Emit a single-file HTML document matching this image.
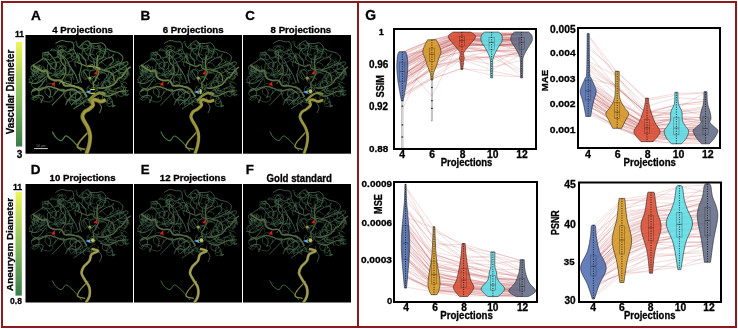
<!DOCTYPE html><html><head><meta charset="utf-8"><style>html,body{margin:0;padding:0;background:#fff;}svg{display:block;will-change:transform;}</style></head><body><svg width="738" height="329" viewBox="0 0 738 329" font-family='"Liberation Sans", sans-serif'>
<rect width="738" height="329" fill="#fff"/>
<defs>
<linearGradient id="cb" x1="0" y1="0" x2="0" y2="1"><stop offset="0" stop-color="#eef55a"/><stop offset="0.5" stop-color="#8cc060"/><stop offset="1" stop-color="#3a7a4a"/></linearGradient>
<clipPath id="clip0"><rect x="0" y="0" width="107.5" height="118.7"/></clipPath>
<clipPath id="clip1"><rect x="0" y="0" width="108" height="118.7"/></clipPath>
<g id="v0"><use href="#tn00" stroke="#36583a" stroke-width="0.80"/>
<use href="#tn01" stroke="#36583a" stroke-width="0.90"/>
<use href="#tn02" stroke="#36583a" stroke-width="1.00"/>
<use href="#tn10" stroke="#3d603f" stroke-width="0.80"/>
<use href="#tn11" stroke="#3d603f" stroke-width="0.90"/>
<use href="#tn12" stroke="#3d603f" stroke-width="1.00"/>
<use href="#tn20" stroke="#446845" stroke-width="0.80"/>
<use href="#tn21" stroke="#446845" stroke-width="0.90"/>
<use href="#tn22" stroke="#446845" stroke-width="1.00"/>
<path d="M30.0,8.5 C31.0,8.0 34.0,5.8 36.0,5.5 C38.0,5.2 40.2,6.4 42.0,6.7 C43.8,7.0 46.0,6.2 47.0,7.3 C48.0,8.4 48.7,12.0 48.2,13.4 C47.7,14.8 45.2,15.4 44.0,16.0 C42.8,16.6 42.2,17.2 40.9,17.0 C39.6,16.8 37.4,14.4 36.0,14.6 C34.6,14.8 31.9,17.0 32.3,18.2 C32.7,19.4 36.8,20.6 38.4,21.9 C40.0,23.2 40.9,24.3 42.0,26.0 C43.1,27.7 43.7,29.7 45.0,32.0 C46.3,34.3 48.7,37.3 50.0,40.0 C51.3,42.7 52.5,46.7 53.0,48.0" stroke="#4a704c" stroke-width="1.10" fill="none"/>
<path d="M16.5,18.2 C17.5,18.1 20.8,16.8 22.6,17.6 C24.4,18.4 26.1,21.2 27.5,23.1 C28.9,25.0 30.9,27.4 31.1,29.2 C31.3,31.0 29.9,34.0 28.7,34.0 C27.5,34.0 25.4,31.0 23.8,29.2 C22.2,27.4 20.6,23.6 19.0,23.1 C17.4,22.6 15.6,25.0 14.0,26.0 C12.4,27.0 10.6,28.3 9.2,29.2 C7.8,30.1 6.0,30.6 5.6,31.6 C5.2,32.6 5.8,34.5 6.8,35.3 C7.8,36.1 10.5,37.3 11.7,36.5 C12.9,35.7 13.7,31.4 14.1,30.4" stroke="#4a704c" stroke-width="1.10" fill="none"/>
<path d="M53.5,12.2 C54.7,11.2 59.0,6.9 60.8,6.1 C62.6,5.3 63.6,6.3 64.4,7.3 C65.2,8.3 65.7,10.4 65.7,12.2 C65.7,14.0 64.2,16.4 64.4,18.2 C64.6,20.0 65.7,22.1 66.9,23.1 C68.1,24.1 70.1,24.3 71.7,24.3 C73.3,24.3 75.4,24.1 76.6,23.1 C77.8,22.1 78.4,20.0 79.0,18.2 C79.6,16.4 80.7,13.9 80.3,12.2 C79.9,10.5 78.0,8.5 76.6,7.9 C75.2,7.3 73.7,8.4 71.7,8.5 C69.7,8.6 65.6,8.5 64.4,8.5" stroke="#4a704c" stroke-width="1.10" fill="none"/>
<path d="M81.5,13.4 C82.1,13.8 83.7,15.2 85.1,15.8 C86.5,16.4 88.6,16.6 90.0,17.0 C91.4,17.4 92.4,17.4 93.6,18.2 C94.8,19.0 96.9,20.5 97.3,21.9 C97.7,23.3 96.9,25.6 96.1,26.8 C95.3,28.0 93.8,28.4 92.4,29.2 C91.0,30.0 89.3,30.8 87.6,31.6 C85.9,32.4 83.6,33.4 82.0,34.0 C80.4,34.6 78.5,35.1 77.8,35.3" stroke="#4a704c" stroke-width="1.10" fill="none"/>
<path d="M93.6,29.2 C94.8,28.8 99.6,26.8 101.0,26.8 C102.4,26.8 102.8,28.2 102.2,29.2 C101.6,30.2 99.0,31.7 97.3,32.8 C95.6,33.9 94.0,34.8 92.0,36.0 C90.0,37.2 86.2,39.3 85.1,40.0" stroke="#4a704c" stroke-width="1.10" fill="none"/>
<path d="M53.5,18.2 C54.5,19.2 58.4,22.3 59.6,24.3 C60.8,26.3 60.6,29.4 60.8,30.4" stroke="#4a704c" stroke-width="1.10" fill="none"/>
<path d="M68.1,24.3 C68.3,25.5 69.1,30.4 69.3,31.6" stroke="#4a704c" stroke-width="1.10" fill="none"/>
<path d="M90.0,34.0 C91.0,34.6 94.1,37.3 96.1,37.7 C98.1,38.1 101.2,36.7 102.2,36.5" stroke="#4a704c" stroke-width="1.10" fill="none"/>
<path d="M3.2,47.2 C4.4,47.4 8.4,48.6 10.4,48.4 C12.4,48.2 13.7,47.1 15.3,46.0 C16.9,44.9 19.2,42.7 20.0,42.0" stroke="#4a704c" stroke-width="1.10" fill="none"/>
<path d="M5.6,56.9 C6.6,56.5 9.3,55.3 11.7,54.5 C14.1,53.7 18.0,51.6 20.2,52.0 C22.4,52.4 24.5,55.1 25.1,56.9 C25.7,58.7 24.0,62.0 23.8,63.0" stroke="#4a704c" stroke-width="1.10" fill="none"/>
<path d="M6.8,63.0 C7.6,62.6 9.9,60.7 11.7,60.5 C13.5,60.3 17.1,60.6 17.7,61.8 C18.3,63.0 15.7,66.8 15.3,67.8" stroke="#4a704c" stroke-width="1.10" fill="none"/>
<path d="M28.7,59.3 C29.5,58.5 31.8,55.1 33.6,54.5 C35.4,53.9 39.6,54.3 39.6,55.7 C39.6,57.1 35.8,60.6 33.6,63.0 C31.4,65.4 27.5,69.1 26.3,70.3" stroke="#4a704c" stroke-width="1.10" fill="none"/>
<path d="M40.9,66.6 C42.1,65.4 46.1,60.9 48.2,59.3 C50.3,57.7 51.5,57.1 53.5,56.9 C55.5,56.7 58.9,57.8 60.0,58.0" stroke="#4a704c" stroke-width="1.10" fill="none"/>
<path d="M45.7,70.3 C46.5,69.5 48.9,66.8 50.6,65.4 C52.3,64.0 55.1,62.6 56.0,62.0" stroke="#4a704c" stroke-width="1.10" fill="none"/>
<path d="M36.0,20.0 C36.7,21.3 40.0,25.3 40.0,28.0 C40.0,30.7 37.7,34.0 36.0,36.0 C34.3,38.0 31.0,39.3 30.0,40.0" stroke="#4a704c" stroke-width="1.10" fill="none"/>
<path d="M48.0,14.0 C48.7,15.3 50.7,19.3 52.0,22.0 C53.3,24.7 55.7,27.0 56.0,30.0 C56.3,33.0 54.0,37.0 54.0,40.0 C54.0,43.0 55.7,46.7 56.0,48.0" stroke="#4a704c" stroke-width="1.10" fill="none"/>
<path d="M58.0,36.0 C58.7,37.0 60.9,40.3 62.0,42.0 C63.1,43.7 64.0,45.3 64.4,46.0" stroke="#4a704c" stroke-width="1.10" fill="none"/>
<path d="M20.0,44.0 C19.0,45.3 16.0,50.0 14.0,52.0 C12.0,54.0 9.0,55.3 8.0,56.0" stroke="#4a704c" stroke-width="1.10" fill="none"/>
<path d="M74.0,28.0 C75.0,27.3 78.0,25.0 80.0,24.0 C82.0,23.0 84.7,21.7 86.0,22.0 C87.3,22.3 88.3,24.7 88.0,26.0 C87.7,27.3 84.7,29.3 84.0,30.0" stroke="#4a704c" stroke-width="1.10" fill="none"/>
<path d="M60.0,66.0 C59.0,66.7 56.0,68.7 54.0,70.0 C52.0,71.3 49.0,73.3 48.0,74.0" stroke="#4a704c" stroke-width="1.10" fill="none"/>
<path d="M72.0,66.0 C72.7,67.0 75.7,70.0 76.0,72.0 C76.3,74.0 74.3,77.0 74.0,78.0" stroke="#4a704c" stroke-width="1.10" fill="none"/>
<path d="M56.0,60.0 C55.3,61.0 54.0,65.3 52.0,66.0 C50.0,66.7 46.0,63.3 44.0,64.0 C42.0,64.7 40.7,69.0 40.0,70.0" stroke="#4a704c" stroke-width="1.10" fill="none"/>
<path d="M61.4,61.9 C60.5,60.6 58.3,55.7 55.7,53.8 C53.1,52.0 48.6,51.4 45.8,50.8 C43.0,50.2 40.7,51.3 39.0,50.5 C37.3,49.6 37.5,46.5 35.8,45.6 C34.2,44.8 30.9,45.9 28.9,45.4 C26.8,44.8 24.6,44.1 23.3,42.5 C22.1,40.9 22.3,36.9 21.2,35.8 C20.1,34.8 18.8,36.9 16.8,36.2 C14.8,35.5 10.8,32.7 9.2,31.7 C7.6,30.7 7.4,30.3 7.1,30.0" stroke="#3e5230" stroke-width="2.32" fill="none"/>
<path d="M61.4,61.9 C60.5,60.6 58.3,55.7 55.7,53.8 C53.1,52.0 48.6,51.4 45.8,50.8 C43.0,50.2 40.7,51.3 39.0,50.5 C37.3,49.6 37.5,46.5 35.8,45.6 C34.2,44.8 30.9,45.9 28.9,45.4 C26.8,44.8 24.6,44.1 23.3,42.5 C22.1,40.9 22.3,36.9 21.2,35.8 C20.1,34.8 18.8,36.9 16.8,36.2 C14.8,35.5 10.8,32.7 9.2,31.7 C7.6,30.7 7.4,30.3 7.1,30.0" stroke="#6f8448" stroke-width="1.82" fill="none"/>
<path d="M55.6,59.3 C54.3,58.4 50.4,54.8 47.4,54.2 C44.5,53.7 40.6,56.1 37.8,56.0 C35.0,55.9 33.2,54.2 30.7,53.4 C28.2,52.7 25.6,51.2 22.7,51.5 C19.8,51.8 15.5,55.0 13.4,55.3 C11.3,55.6 11.2,53.4 10.1,53.5 C9.0,53.6 7.3,55.3 6.8,55.7" stroke="#3e5230" stroke-width="1.62" fill="none"/>
<path d="M55.6,59.3 C54.3,58.4 50.4,54.8 47.4,54.2 C44.5,53.7 40.6,56.1 37.8,56.0 C35.0,55.9 33.2,54.2 30.7,53.4 C28.2,52.7 25.6,51.2 22.7,51.5 C19.8,51.8 15.5,55.0 13.4,55.3 C11.3,55.6 11.2,53.4 10.1,53.5 C9.0,53.6 7.3,55.3 6.8,55.7" stroke="#6f8448" stroke-width="1.12" fill="none"/>
<path d="M68.5,53.9 C68.4,52.9 67.6,49.7 67.8,48.3 C67.9,46.9 68.7,47.2 69.7,45.4 C70.6,43.6 72.9,39.2 73.3,37.4 C73.7,35.7 72.4,36.4 72.1,35.0 C71.8,33.6 71.4,31.5 71.4,29.1 C71.5,26.6 72.2,21.7 72.3,20.2" stroke="#3e5230" stroke-width="1.55" fill="none"/>
<path d="M68.5,53.9 C68.4,52.9 67.6,49.7 67.8,48.3 C67.9,46.9 68.7,47.2 69.7,45.4 C70.6,43.6 72.9,39.2 73.3,37.4 C73.7,35.7 72.4,36.4 72.1,35.0 C71.8,33.6 71.4,31.5 71.4,29.1 C71.5,26.6 72.2,21.7 72.3,20.2" stroke="#6f8448" stroke-width="1.05" fill="none"/>
<path d="M72.7,52.8 C73.6,52.8 75.7,53.5 78.2,53.0 C80.8,52.5 85.3,51.3 87.8,49.7 C90.3,48.1 91.8,44.7 93.2,43.4 C94.6,42.1 95.0,43.1 96.2,41.8 C97.5,40.4 99.4,37.0 100.9,35.4 C102.3,33.7 104.3,32.5 105.0,32.0" stroke="#3e5230" stroke-width="1.69" fill="none"/>
<path d="M72.7,52.8 C73.6,52.8 75.7,53.5 78.2,53.0 C80.8,52.5 85.3,51.3 87.8,49.7 C90.3,48.1 91.8,44.7 93.2,43.4 C94.6,42.1 95.0,43.1 96.2,41.8 C97.5,40.4 99.4,37.0 100.9,35.4 C102.3,33.7 104.3,32.5 105.0,32.0" stroke="#6f8448" stroke-width="1.19" fill="none"/>
<path d="M74.6,58.9 C75.9,59.3 79.4,61.6 82.3,61.3 C85.3,61.0 90.2,57.9 92.4,57.1 C94.6,56.2 94.2,56.5 95.5,56.3 C96.8,56.2 99.3,56.1 100.0,56.1" stroke="#3e5230" stroke-width="1.48" fill="none"/>
<path d="M74.6,58.9 C75.9,59.3 79.4,61.6 82.3,61.3 C85.3,61.0 90.2,57.9 92.4,57.1 C94.6,56.2 94.2,56.5 95.5,56.3 C96.8,56.2 99.3,56.1 100.0,56.1" stroke="#6f8448" stroke-width="0.98" fill="none"/>
<path d="M51.8,27.3 C53.5,28.0 59.3,30.9 61.8,31.3 C64.4,31.7 65.9,29.3 67.1,29.7 C68.2,30.1 67.0,32.7 68.8,33.6 C70.6,34.5 74.9,34.3 77.9,35.2 C80.9,36.0 85.0,36.9 86.8,38.7 C88.6,40.6 88.5,45.2 88.9,46.5" stroke="#3e5230" stroke-width="1.41" fill="none"/>
<path d="M51.8,27.3 C53.5,28.0 59.3,30.9 61.8,31.3 C64.4,31.7 65.9,29.3 67.1,29.7 C68.2,30.1 67.0,32.7 68.8,33.6 C70.6,34.5 74.9,34.3 77.9,35.2 C80.9,36.0 85.0,36.9 86.8,38.7 C88.6,40.6 88.5,45.2 88.9,46.5" stroke="#6f8448" stroke-width="0.91" fill="none"/>
<path d="M33.6,49.1 C34.6,47.5 38.8,42.2 39.8,39.2 C40.8,36.3 40.0,33.4 39.3,31.3 C38.6,29.2 36.3,29.2 35.6,26.7 C35.0,24.2 35.6,18.1 35.5,16.4" stroke="#3e5230" stroke-width="1.27" fill="none"/>
<path d="M33.6,49.1 C34.6,47.5 38.8,42.2 39.8,39.2 C40.8,36.3 40.0,33.4 39.3,31.3 C38.6,29.2 36.3,29.2 35.6,26.7 C35.0,24.2 35.6,18.1 35.5,16.4" stroke="#6f8448" stroke-width="0.77" fill="none"/>
<path d="M58.0,55.5 C56.7,54.8 52.7,52.6 50.0,51.5 C47.3,50.4 44.7,49.5 42.0,48.6 C39.3,47.7 35.3,46.4 34.0,46.0" stroke="#93a058" stroke-width="1.00" fill="none"/>
<path d="M62.0,31.0 C63.4,31.2 68.3,31.7 70.5,32.2 C72.7,32.7 74.2,33.7 75.0,34.0" stroke="#98a058" stroke-width="1.20" fill="none"/>
<path d="M26.8,96.5 C27.4,97.4 28.6,100.6 30.1,102.1 C31.6,103.6 34.2,105.8 35.9,105.6 C37.6,105.4 38.7,101.3 40.2,101.0 C41.7,100.7 43.3,102.4 45.0,103.8 C46.7,105.2 48.7,107.2 50.5,109.3 C52.3,111.3 55.1,115.0 56.0,116.1" stroke="#4a7a45" stroke-width="1.30" fill="none"/>
<path d="M62.7,97.1 C61.3,98.7 55.9,104.2 54.1,106.7 C52.4,109.2 51.2,111.1 52.2,112.4 C53.2,113.7 58.5,114.0 59.8,114.3" stroke="#8a8a3a" stroke-width="1.80" fill="none"/>
<path d="M60.5,120.0 C61.0,118.4 62.9,113.7 63.6,110.5 C64.3,107.3 64.8,103.8 64.6,100.9 C64.4,98.0 63.7,95.7 62.7,93.3 C61.8,90.9 59.9,88.5 58.9,86.6 C57.9,84.7 56.9,83.4 56.9,81.8 C56.9,80.2 57.8,78.3 58.9,77.0 C60.0,75.7 62.2,75.2 63.6,74.1 C65.0,73.0 67.0,71.6 67.5,70.3 C68.0,69.0 66.2,67.5 66.5,66.5 C66.8,65.5 68.0,64.6 69.4,64.6 C70.8,64.6 73.3,66.4 75.1,66.5 C76.9,66.6 79.2,65.2 80.0,65.0" stroke="#4a4a1c" stroke-width="4.40" fill="none"/>
<path d="M60.5,120.0 C61.0,118.4 62.9,113.7 63.6,110.5 C64.3,107.3 64.8,103.8 64.6,100.9 C64.4,98.0 63.7,95.7 62.7,93.3 C61.8,90.9 59.9,88.5 58.9,86.6 C57.9,84.7 56.9,83.4 56.9,81.8 C56.9,80.2 57.8,78.3 58.9,77.0 C60.0,75.7 62.2,75.2 63.6,74.1 C65.0,73.0 67.0,71.6 67.5,70.3 C68.0,69.0 66.2,67.5 66.5,66.5 C66.8,65.5 68.0,64.6 69.4,64.6 C70.8,64.6 73.3,66.4 75.1,66.5 C76.9,66.6 79.2,65.2 80.0,65.0" stroke="#97923c" stroke-width="3.40" fill="none"/>
<path d="M61.2,119.7 C61.7,118.1 63.6,113.4 64.3,110.2 C65.0,107.0 65.4,103.5 65.3,100.6 C65.2,97.7 64.4,95.4 63.4,93.0 C62.5,90.6 60.6,88.2 59.6,86.3 C58.6,84.4 57.6,83.1 57.6,81.5 C57.6,79.9 58.5,78.0 59.6,76.7 C60.7,75.4 62.9,74.9 64.3,73.8 C65.7,72.7 67.7,71.3 68.2,70.0 C68.7,68.7 66.9,67.2 67.2,66.2 C67.5,65.2 68.7,64.3 70.1,64.3 C71.5,64.3 74.0,66.1 75.8,66.2 C77.6,66.3 79.9,65.0 80.7,64.7" stroke="#b0a852" stroke-width="1.10" fill="none" opacity="0.7"/>
<path d="M63.0,66.0 C63.8,65.2 66.2,62.3 68.0,61.0 C69.8,59.7 72.0,58.3 74.0,58.0 C76.0,57.7 79.0,58.8 80.0,59.0" stroke="#7c8a40" stroke-width="3.00" fill="none"/>
<circle cx="64.4" cy="42.9" r="1.5" fill="#9a9a40"/>
<path d="M59.6,57 L64.8,55.3 L64.8,58.7 Z" fill="#5aa8f0"/>
<line x1="65" y1="54.5" x2="69.3" y2="54.5" stroke="#d8d050" stroke-width="1.1"/>
<line x1="65" y1="58.3" x2="69.3" y2="58.3" stroke="#c8c048" stroke-width="1.2"/>
<path d="M25.7,50.2 L29.3,46 L29.3,50.8 Z" fill="#e81818"/>
<path d="M68.1,39.3 L71.7,35 L71.7,39.3 Z" fill="#e81818"/></g>
<g id="v1"><use href="#tn00" stroke="#36583e" stroke-width="0.68"/>
<use href="#tn01" stroke="#36583e" stroke-width="0.77"/>
<use href="#tn02" stroke="#36583e" stroke-width="0.85"/>
<use href="#tn10" stroke="#3d6044" stroke-width="0.68"/>
<use href="#tn11" stroke="#3d6044" stroke-width="0.77"/>
<use href="#tn12" stroke="#3d6044" stroke-width="0.85"/>
<use href="#tn20" stroke="#44684a" stroke-width="0.68"/>
<use href="#tn21" stroke="#44684a" stroke-width="0.77"/>
<use href="#tn22" stroke="#44684a" stroke-width="0.85"/>
<path d="M30.0,8.5 C31.0,8.0 34.0,5.8 36.0,5.5 C38.0,5.2 40.2,6.4 42.0,6.7 C43.8,7.0 46.0,6.2 47.0,7.3 C48.0,8.4 48.7,12.0 48.2,13.4 C47.7,14.8 45.2,15.4 44.0,16.0 C42.8,16.6 42.2,17.2 40.9,17.0 C39.6,16.8 37.4,14.4 36.0,14.6 C34.6,14.8 31.9,17.0 32.3,18.2 C32.7,19.4 36.8,20.6 38.4,21.9 C40.0,23.2 40.9,24.3 42.0,26.0 C43.1,27.7 43.7,29.7 45.0,32.0 C46.3,34.3 48.7,37.3 50.0,40.0 C51.3,42.7 52.5,46.7 53.0,48.0" stroke="#4a6e52" stroke-width="0.94" fill="none"/>
<path d="M16.5,18.2 C17.5,18.1 20.8,16.8 22.6,17.6 C24.4,18.4 26.1,21.2 27.5,23.1 C28.9,25.0 30.9,27.4 31.1,29.2 C31.3,31.0 29.9,34.0 28.7,34.0 C27.5,34.0 25.4,31.0 23.8,29.2 C22.2,27.4 20.6,23.6 19.0,23.1 C17.4,22.6 15.6,25.0 14.0,26.0 C12.4,27.0 10.6,28.3 9.2,29.2 C7.8,30.1 6.0,30.6 5.6,31.6 C5.2,32.6 5.8,34.5 6.8,35.3 C7.8,36.1 10.5,37.3 11.7,36.5 C12.9,35.7 13.7,31.4 14.1,30.4" stroke="#4a6e52" stroke-width="0.94" fill="none"/>
<path d="M53.5,12.2 C54.7,11.2 59.0,6.9 60.8,6.1 C62.6,5.3 63.6,6.3 64.4,7.3 C65.2,8.3 65.7,10.4 65.7,12.2 C65.7,14.0 64.2,16.4 64.4,18.2 C64.6,20.0 65.7,22.1 66.9,23.1 C68.1,24.1 70.1,24.3 71.7,24.3 C73.3,24.3 75.4,24.1 76.6,23.1 C77.8,22.1 78.4,20.0 79.0,18.2 C79.6,16.4 80.7,13.9 80.3,12.2 C79.9,10.5 78.0,8.5 76.6,7.9 C75.2,7.3 73.7,8.4 71.7,8.5 C69.7,8.6 65.6,8.5 64.4,8.5" stroke="#4a6e52" stroke-width="0.94" fill="none"/>
<path d="M81.5,13.4 C82.1,13.8 83.7,15.2 85.1,15.8 C86.5,16.4 88.6,16.6 90.0,17.0 C91.4,17.4 92.4,17.4 93.6,18.2 C94.8,19.0 96.9,20.5 97.3,21.9 C97.7,23.3 96.9,25.6 96.1,26.8 C95.3,28.0 93.8,28.4 92.4,29.2 C91.0,30.0 89.3,30.8 87.6,31.6 C85.9,32.4 83.6,33.4 82.0,34.0 C80.4,34.6 78.5,35.1 77.8,35.3" stroke="#4a6e52" stroke-width="0.94" fill="none"/>
<path d="M93.6,29.2 C94.8,28.8 99.6,26.8 101.0,26.8 C102.4,26.8 102.8,28.2 102.2,29.2 C101.6,30.2 99.0,31.7 97.3,32.8 C95.6,33.9 94.0,34.8 92.0,36.0 C90.0,37.2 86.2,39.3 85.1,40.0" stroke="#4a6e52" stroke-width="0.94" fill="none"/>
<path d="M53.5,18.2 C54.5,19.2 58.4,22.3 59.6,24.3 C60.8,26.3 60.6,29.4 60.8,30.4" stroke="#4a6e52" stroke-width="0.94" fill="none"/>
<path d="M68.1,24.3 C68.3,25.5 69.1,30.4 69.3,31.6" stroke="#4a6e52" stroke-width="0.94" fill="none"/>
<path d="M90.0,34.0 C91.0,34.6 94.1,37.3 96.1,37.7 C98.1,38.1 101.2,36.7 102.2,36.5" stroke="#4a6e52" stroke-width="0.94" fill="none"/>
<path d="M3.2,47.2 C4.4,47.4 8.4,48.6 10.4,48.4 C12.4,48.2 13.7,47.1 15.3,46.0 C16.9,44.9 19.2,42.7 20.0,42.0" stroke="#4a6e52" stroke-width="0.94" fill="none"/>
<path d="M5.6,56.9 C6.6,56.5 9.3,55.3 11.7,54.5 C14.1,53.7 18.0,51.6 20.2,52.0 C22.4,52.4 24.5,55.1 25.1,56.9 C25.7,58.7 24.0,62.0 23.8,63.0" stroke="#4a6e52" stroke-width="0.94" fill="none"/>
<path d="M6.8,63.0 C7.6,62.6 9.9,60.7 11.7,60.5 C13.5,60.3 17.1,60.6 17.7,61.8 C18.3,63.0 15.7,66.8 15.3,67.8" stroke="#4a6e52" stroke-width="0.94" fill="none"/>
<path d="M28.7,59.3 C29.5,58.5 31.8,55.1 33.6,54.5 C35.4,53.9 39.6,54.3 39.6,55.7 C39.6,57.1 35.8,60.6 33.6,63.0 C31.4,65.4 27.5,69.1 26.3,70.3" stroke="#4a6e52" stroke-width="0.94" fill="none"/>
<path d="M40.9,66.6 C42.1,65.4 46.1,60.9 48.2,59.3 C50.3,57.7 51.5,57.1 53.5,56.9 C55.5,56.7 58.9,57.8 60.0,58.0" stroke="#4a6e52" stroke-width="0.94" fill="none"/>
<path d="M45.7,70.3 C46.5,69.5 48.9,66.8 50.6,65.4 C52.3,64.0 55.1,62.6 56.0,62.0" stroke="#4a6e52" stroke-width="0.94" fill="none"/>
<path d="M36.0,20.0 C36.7,21.3 40.0,25.3 40.0,28.0 C40.0,30.7 37.7,34.0 36.0,36.0 C34.3,38.0 31.0,39.3 30.0,40.0" stroke="#4a6e52" stroke-width="0.94" fill="none"/>
<path d="M48.0,14.0 C48.7,15.3 50.7,19.3 52.0,22.0 C53.3,24.7 55.7,27.0 56.0,30.0 C56.3,33.0 54.0,37.0 54.0,40.0 C54.0,43.0 55.7,46.7 56.0,48.0" stroke="#4a6e52" stroke-width="0.94" fill="none"/>
<path d="M58.0,36.0 C58.7,37.0 60.9,40.3 62.0,42.0 C63.1,43.7 64.0,45.3 64.4,46.0" stroke="#4a6e52" stroke-width="0.94" fill="none"/>
<path d="M20.0,44.0 C19.0,45.3 16.0,50.0 14.0,52.0 C12.0,54.0 9.0,55.3 8.0,56.0" stroke="#4a6e52" stroke-width="0.94" fill="none"/>
<path d="M74.0,28.0 C75.0,27.3 78.0,25.0 80.0,24.0 C82.0,23.0 84.7,21.7 86.0,22.0 C87.3,22.3 88.3,24.7 88.0,26.0 C87.7,27.3 84.7,29.3 84.0,30.0" stroke="#4a6e52" stroke-width="0.94" fill="none"/>
<path d="M60.0,66.0 C59.0,66.7 56.0,68.7 54.0,70.0 C52.0,71.3 49.0,73.3 48.0,74.0" stroke="#4a6e52" stroke-width="0.94" fill="none"/>
<path d="M72.0,66.0 C72.7,67.0 75.7,70.0 76.0,72.0 C76.3,74.0 74.3,77.0 74.0,78.0" stroke="#4a6e52" stroke-width="0.94" fill="none"/>
<path d="M56.0,60.0 C55.3,61.0 54.0,65.3 52.0,66.0 C50.0,66.7 46.0,63.3 44.0,64.0 C42.0,64.7 40.7,69.0 40.0,70.0" stroke="#4a6e52" stroke-width="0.94" fill="none"/>
<path d="M61.4,61.9 C60.5,60.6 58.3,55.7 55.7,53.8 C53.1,52.0 48.6,51.4 45.8,50.8 C43.0,50.2 40.7,51.3 39.0,50.5 C37.3,49.6 37.5,46.5 35.8,45.6 C34.2,44.8 30.9,45.9 28.9,45.4 C26.8,44.8 24.6,44.1 23.3,42.5 C22.1,40.9 22.3,36.9 21.2,35.8 C20.1,34.8 18.8,36.9 16.8,36.2 C14.8,35.5 10.8,32.7 9.2,31.7 C7.6,30.7 7.4,30.3 7.1,30.0" stroke="#3e5230" stroke-width="1.97" fill="none"/>
<path d="M61.4,61.9 C60.5,60.6 58.3,55.7 55.7,53.8 C53.1,52.0 48.6,51.4 45.8,50.8 C43.0,50.2 40.7,51.3 39.0,50.5 C37.3,49.6 37.5,46.5 35.8,45.6 C34.2,44.8 30.9,45.9 28.9,45.4 C26.8,44.8 24.6,44.1 23.3,42.5 C22.1,40.9 22.3,36.9 21.2,35.8 C20.1,34.8 18.8,36.9 16.8,36.2 C14.8,35.5 10.8,32.7 9.2,31.7 C7.6,30.7 7.4,30.3 7.1,30.0" stroke="#6c8048" stroke-width="1.55" fill="none"/>
<path d="M55.6,59.3 C54.3,58.4 50.4,54.8 47.4,54.2 C44.5,53.7 40.6,56.1 37.8,56.0 C35.0,55.9 33.2,54.2 30.7,53.4 C28.2,52.7 25.6,51.2 22.7,51.5 C19.8,51.8 15.5,55.0 13.4,55.3 C11.3,55.6 11.2,53.4 10.1,53.5 C9.0,53.6 7.3,55.3 6.8,55.7" stroke="#3e5230" stroke-width="1.38" fill="none"/>
<path d="M55.6,59.3 C54.3,58.4 50.4,54.8 47.4,54.2 C44.5,53.7 40.6,56.1 37.8,56.0 C35.0,55.9 33.2,54.2 30.7,53.4 C28.2,52.7 25.6,51.2 22.7,51.5 C19.8,51.8 15.5,55.0 13.4,55.3 C11.3,55.6 11.2,53.4 10.1,53.5 C9.0,53.6 7.3,55.3 6.8,55.7" stroke="#6c8048" stroke-width="0.95" fill="none"/>
<path d="M68.5,53.9 C68.4,52.9 67.6,49.7 67.8,48.3 C67.9,46.9 68.7,47.2 69.7,45.4 C70.6,43.6 72.9,39.2 73.3,37.4 C73.7,35.7 72.4,36.4 72.1,35.0 C71.8,33.6 71.4,31.5 71.4,29.1 C71.5,26.6 72.2,21.7 72.3,20.2" stroke="#3e5230" stroke-width="1.32" fill="none"/>
<path d="M68.5,53.9 C68.4,52.9 67.6,49.7 67.8,48.3 C67.9,46.9 68.7,47.2 69.7,45.4 C70.6,43.6 72.9,39.2 73.3,37.4 C73.7,35.7 72.4,36.4 72.1,35.0 C71.8,33.6 71.4,31.5 71.4,29.1 C71.5,26.6 72.2,21.7 72.3,20.2" stroke="#6c8048" stroke-width="0.89" fill="none"/>
<path d="M72.7,52.8 C73.6,52.8 75.7,53.5 78.2,53.0 C80.8,52.5 85.3,51.3 87.8,49.7 C90.3,48.1 91.8,44.7 93.2,43.4 C94.6,42.1 95.0,43.1 96.2,41.8 C97.5,40.4 99.4,37.0 100.9,35.4 C102.3,33.7 104.3,32.5 105.0,32.0" stroke="#3e5230" stroke-width="1.44" fill="none"/>
<path d="M72.7,52.8 C73.6,52.8 75.7,53.5 78.2,53.0 C80.8,52.5 85.3,51.3 87.8,49.7 C90.3,48.1 91.8,44.7 93.2,43.4 C94.6,42.1 95.0,43.1 96.2,41.8 C97.5,40.4 99.4,37.0 100.9,35.4 C102.3,33.7 104.3,32.5 105.0,32.0" stroke="#6c8048" stroke-width="1.01" fill="none"/>
<path d="M74.6,58.9 C75.9,59.3 79.4,61.6 82.3,61.3 C85.3,61.0 90.2,57.9 92.4,57.1 C94.6,56.2 94.2,56.5 95.5,56.3 C96.8,56.2 99.3,56.1 100.0,56.1" stroke="#3e5230" stroke-width="1.26" fill="none"/>
<path d="M74.6,58.9 C75.9,59.3 79.4,61.6 82.3,61.3 C85.3,61.0 90.2,57.9 92.4,57.1 C94.6,56.2 94.2,56.5 95.5,56.3 C96.8,56.2 99.3,56.1 100.0,56.1" stroke="#6c8048" stroke-width="0.83" fill="none"/>
<path d="M51.8,27.3 C53.5,28.0 59.3,30.9 61.8,31.3 C64.4,31.7 65.9,29.3 67.1,29.7 C68.2,30.1 67.0,32.7 68.8,33.6 C70.6,34.5 74.9,34.3 77.9,35.2 C80.9,36.0 85.0,36.9 86.8,38.7 C88.6,40.6 88.5,45.2 88.9,46.5" stroke="#3e5230" stroke-width="1.20" fill="none"/>
<path d="M51.8,27.3 C53.5,28.0 59.3,30.9 61.8,31.3 C64.4,31.7 65.9,29.3 67.1,29.7 C68.2,30.1 67.0,32.7 68.8,33.6 C70.6,34.5 74.9,34.3 77.9,35.2 C80.9,36.0 85.0,36.9 86.8,38.7 C88.6,40.6 88.5,45.2 88.9,46.5" stroke="#6c8048" stroke-width="0.77" fill="none"/>
<path d="M33.6,49.1 C34.6,47.5 38.8,42.2 39.8,39.2 C40.8,36.3 40.0,33.4 39.3,31.3 C38.6,29.2 36.3,29.2 35.6,26.7 C35.0,24.2 35.6,18.1 35.5,16.4" stroke="#3e5230" stroke-width="1.08" fill="none"/>
<path d="M33.6,49.1 C34.6,47.5 38.8,42.2 39.8,39.2 C40.8,36.3 40.0,33.4 39.3,31.3 C38.6,29.2 36.3,29.2 35.6,26.7 C35.0,24.2 35.6,18.1 35.5,16.4" stroke="#6c8048" stroke-width="0.65" fill="none"/>
<path d="M26.8,96.5 C27.4,97.4 28.6,100.6 30.1,102.1 C31.6,103.6 34.2,105.8 35.9,105.6 C37.6,105.4 38.7,101.3 40.2,101.0 C41.7,100.7 43.3,102.4 45.0,103.8 C46.7,105.2 48.7,107.2 50.5,109.3 C52.3,111.3 55.1,115.0 56.0,116.1" stroke="#4a7a45" stroke-width="1.10" fill="none"/>
<path d="M62.7,97.1 C61.3,98.7 55.9,104.2 54.1,106.7 C52.4,109.2 51.2,111.1 52.2,112.4 C53.2,113.7 58.5,114.0 59.8,114.3" stroke="#8a8a3a" stroke-width="1.53" fill="none"/>
<path d="M60.5,120.0 C61.0,118.4 62.9,113.7 63.6,110.5 C64.3,107.3 64.8,103.8 64.6,100.9 C64.4,98.0 63.7,95.7 62.7,93.3 C61.8,90.9 59.9,88.5 58.9,86.6 C57.9,84.7 56.9,83.4 56.9,81.8 C56.9,80.2 57.8,78.3 58.9,77.0 C60.0,75.7 62.2,75.2 63.6,74.1 C65.0,73.0 67.0,71.6 67.5,70.3 C68.0,69.0 66.2,67.5 66.5,66.5 C66.8,65.5 68.0,64.6 69.4,64.6 C70.8,64.6 73.3,66.4 75.1,66.5 C76.9,66.6 79.2,65.2 80.0,65.0" stroke="#4a4a1c" stroke-width="3.52" fill="none"/>
<path d="M60.5,120.0 C61.0,118.4 62.9,113.7 63.6,110.5 C64.3,107.3 64.8,103.8 64.6,100.9 C64.4,98.0 63.7,95.7 62.7,93.3 C61.8,90.9 59.9,88.5 58.9,86.6 C57.9,84.7 56.9,83.4 56.9,81.8 C56.9,80.2 57.8,78.3 58.9,77.0 C60.0,75.7 62.2,75.2 63.6,74.1 C65.0,73.0 67.0,71.6 67.5,70.3 C68.0,69.0 66.2,67.5 66.5,66.5 C66.8,65.5 68.0,64.6 69.4,64.6 C70.8,64.6 73.3,66.4 75.1,66.5 C76.9,66.6 79.2,65.2 80.0,65.0" stroke="#97923c" stroke-width="2.72" fill="none"/>
<path d="M61.2,119.7 C61.7,118.1 63.6,113.4 64.3,110.2 C65.0,107.0 65.4,103.5 65.3,100.6 C65.2,97.7 64.4,95.4 63.4,93.0 C62.5,90.6 60.6,88.2 59.6,86.3 C58.6,84.4 57.6,83.1 57.6,81.5 C57.6,79.9 58.5,78.0 59.6,76.7 C60.7,75.4 62.9,74.9 64.3,73.8 C65.7,72.7 67.7,71.3 68.2,70.0 C68.7,68.7 66.9,67.2 67.2,66.2 C67.5,65.2 68.7,64.3 70.1,64.3 C71.5,64.3 74.0,66.1 75.8,66.2 C77.6,66.3 79.9,65.0 80.7,64.7" stroke="#b0a852" stroke-width="0.88" fill="none" opacity="0.7"/>
<path d="M63.0,66.0 C63.8,65.2 66.2,62.3 68.0,61.0 C69.8,59.7 72.0,58.3 74.0,58.0 C76.0,57.7 79.0,58.8 80.0,59.0" stroke="#7c8a40" stroke-width="2.55" fill="none"/>
<circle cx="64.4" cy="42.9" r="1.5" fill="#9a9a40"/>
<path d="M59.6,57 L64.8,55.3 L64.8,58.7 Z" fill="#5aa8f0"/>
<ellipse cx="66.6" cy="56.5" rx="1.3" ry="2.4" fill="#c8c050"/>
<path d="M25.7,50.2 L29.3,46 L29.3,50.8 Z" fill="#e81818"/>
<path d="M68.1,39.3 L71.7,35 L71.7,39.3 Z" fill="#e81818"/></g>
<g id="v2"><use href="#tn00" stroke="#385a44" stroke-width="0.60"/>
<use href="#tn01" stroke="#385a44" stroke-width="0.68"/>
<use href="#tn02" stroke="#385a44" stroke-width="0.75"/>
<use href="#tn10" stroke="#3f6248" stroke-width="0.60"/>
<use href="#tn11" stroke="#3f6248" stroke-width="0.68"/>
<use href="#tn12" stroke="#3f6248" stroke-width="0.75"/>
<use href="#tn20" stroke="#466a50" stroke-width="0.60"/>
<use href="#tn21" stroke="#466a50" stroke-width="0.68"/>
<use href="#tn22" stroke="#466a50" stroke-width="0.75"/>
<path d="M30.0,8.5 C31.0,8.0 34.0,5.8 36.0,5.5 C38.0,5.2 40.2,6.4 42.0,6.7 C43.8,7.0 46.0,6.2 47.0,7.3 C48.0,8.4 48.7,12.0 48.2,13.4 C47.7,14.8 45.2,15.4 44.0,16.0 C42.8,16.6 42.2,17.2 40.9,17.0 C39.6,16.8 37.4,14.4 36.0,14.6 C34.6,14.8 31.9,17.0 32.3,18.2 C32.7,19.4 36.8,20.6 38.4,21.9 C40.0,23.2 40.9,24.3 42.0,26.0 C43.1,27.7 43.7,29.7 45.0,32.0 C46.3,34.3 48.7,37.3 50.0,40.0 C51.3,42.7 52.5,46.7 53.0,48.0" stroke="#4c6e56" stroke-width="0.83" fill="none"/>
<path d="M16.5,18.2 C17.5,18.1 20.8,16.8 22.6,17.6 C24.4,18.4 26.1,21.2 27.5,23.1 C28.9,25.0 30.9,27.4 31.1,29.2 C31.3,31.0 29.9,34.0 28.7,34.0 C27.5,34.0 25.4,31.0 23.8,29.2 C22.2,27.4 20.6,23.6 19.0,23.1 C17.4,22.6 15.6,25.0 14.0,26.0 C12.4,27.0 10.6,28.3 9.2,29.2 C7.8,30.1 6.0,30.6 5.6,31.6 C5.2,32.6 5.8,34.5 6.8,35.3 C7.8,36.1 10.5,37.3 11.7,36.5 C12.9,35.7 13.7,31.4 14.1,30.4" stroke="#4c6e56" stroke-width="0.83" fill="none"/>
<path d="M53.5,12.2 C54.7,11.2 59.0,6.9 60.8,6.1 C62.6,5.3 63.6,6.3 64.4,7.3 C65.2,8.3 65.7,10.4 65.7,12.2 C65.7,14.0 64.2,16.4 64.4,18.2 C64.6,20.0 65.7,22.1 66.9,23.1 C68.1,24.1 70.1,24.3 71.7,24.3 C73.3,24.3 75.4,24.1 76.6,23.1 C77.8,22.1 78.4,20.0 79.0,18.2 C79.6,16.4 80.7,13.9 80.3,12.2 C79.9,10.5 78.0,8.5 76.6,7.9 C75.2,7.3 73.7,8.4 71.7,8.5 C69.7,8.6 65.6,8.5 64.4,8.5" stroke="#4c6e56" stroke-width="0.83" fill="none"/>
<path d="M81.5,13.4 C82.1,13.8 83.7,15.2 85.1,15.8 C86.5,16.4 88.6,16.6 90.0,17.0 C91.4,17.4 92.4,17.4 93.6,18.2 C94.8,19.0 96.9,20.5 97.3,21.9 C97.7,23.3 96.9,25.6 96.1,26.8 C95.3,28.0 93.8,28.4 92.4,29.2 C91.0,30.0 89.3,30.8 87.6,31.6 C85.9,32.4 83.6,33.4 82.0,34.0 C80.4,34.6 78.5,35.1 77.8,35.3" stroke="#4c6e56" stroke-width="0.83" fill="none"/>
<path d="M93.6,29.2 C94.8,28.8 99.6,26.8 101.0,26.8 C102.4,26.8 102.8,28.2 102.2,29.2 C101.6,30.2 99.0,31.7 97.3,32.8 C95.6,33.9 94.0,34.8 92.0,36.0 C90.0,37.2 86.2,39.3 85.1,40.0" stroke="#4c6e56" stroke-width="0.83" fill="none"/>
<path d="M53.5,18.2 C54.5,19.2 58.4,22.3 59.6,24.3 C60.8,26.3 60.6,29.4 60.8,30.4" stroke="#4c6e56" stroke-width="0.83" fill="none"/>
<path d="M68.1,24.3 C68.3,25.5 69.1,30.4 69.3,31.6" stroke="#4c6e56" stroke-width="0.83" fill="none"/>
<path d="M90.0,34.0 C91.0,34.6 94.1,37.3 96.1,37.7 C98.1,38.1 101.2,36.7 102.2,36.5" stroke="#4c6e56" stroke-width="0.83" fill="none"/>
<path d="M3.2,47.2 C4.4,47.4 8.4,48.6 10.4,48.4 C12.4,48.2 13.7,47.1 15.3,46.0 C16.9,44.9 19.2,42.7 20.0,42.0" stroke="#4c6e56" stroke-width="0.83" fill="none"/>
<path d="M5.6,56.9 C6.6,56.5 9.3,55.3 11.7,54.5 C14.1,53.7 18.0,51.6 20.2,52.0 C22.4,52.4 24.5,55.1 25.1,56.9 C25.7,58.7 24.0,62.0 23.8,63.0" stroke="#4c6e56" stroke-width="0.83" fill="none"/>
<path d="M6.8,63.0 C7.6,62.6 9.9,60.7 11.7,60.5 C13.5,60.3 17.1,60.6 17.7,61.8 C18.3,63.0 15.7,66.8 15.3,67.8" stroke="#4c6e56" stroke-width="0.83" fill="none"/>
<path d="M28.7,59.3 C29.5,58.5 31.8,55.1 33.6,54.5 C35.4,53.9 39.6,54.3 39.6,55.7 C39.6,57.1 35.8,60.6 33.6,63.0 C31.4,65.4 27.5,69.1 26.3,70.3" stroke="#4c6e56" stroke-width="0.83" fill="none"/>
<path d="M40.9,66.6 C42.1,65.4 46.1,60.9 48.2,59.3 C50.3,57.7 51.5,57.1 53.5,56.9 C55.5,56.7 58.9,57.8 60.0,58.0" stroke="#4c6e56" stroke-width="0.83" fill="none"/>
<path d="M45.7,70.3 C46.5,69.5 48.9,66.8 50.6,65.4 C52.3,64.0 55.1,62.6 56.0,62.0" stroke="#4c6e56" stroke-width="0.83" fill="none"/>
<path d="M36.0,20.0 C36.7,21.3 40.0,25.3 40.0,28.0 C40.0,30.7 37.7,34.0 36.0,36.0 C34.3,38.0 31.0,39.3 30.0,40.0" stroke="#4c6e56" stroke-width="0.83" fill="none"/>
<path d="M48.0,14.0 C48.7,15.3 50.7,19.3 52.0,22.0 C53.3,24.7 55.7,27.0 56.0,30.0 C56.3,33.0 54.0,37.0 54.0,40.0 C54.0,43.0 55.7,46.7 56.0,48.0" stroke="#4c6e56" stroke-width="0.83" fill="none"/>
<path d="M58.0,36.0 C58.7,37.0 60.9,40.3 62.0,42.0 C63.1,43.7 64.0,45.3 64.4,46.0" stroke="#4c6e56" stroke-width="0.83" fill="none"/>
<path d="M20.0,44.0 C19.0,45.3 16.0,50.0 14.0,52.0 C12.0,54.0 9.0,55.3 8.0,56.0" stroke="#4c6e56" stroke-width="0.83" fill="none"/>
<path d="M74.0,28.0 C75.0,27.3 78.0,25.0 80.0,24.0 C82.0,23.0 84.7,21.7 86.0,22.0 C87.3,22.3 88.3,24.7 88.0,26.0 C87.7,27.3 84.7,29.3 84.0,30.0" stroke="#4c6e56" stroke-width="0.83" fill="none"/>
<path d="M60.0,66.0 C59.0,66.7 56.0,68.7 54.0,70.0 C52.0,71.3 49.0,73.3 48.0,74.0" stroke="#4c6e56" stroke-width="0.83" fill="none"/>
<path d="M72.0,66.0 C72.7,67.0 75.7,70.0 76.0,72.0 C76.3,74.0 74.3,77.0 74.0,78.0" stroke="#4c6e56" stroke-width="0.83" fill="none"/>
<path d="M56.0,60.0 C55.3,61.0 54.0,65.3 52.0,66.0 C50.0,66.7 46.0,63.3 44.0,64.0 C42.0,64.7 40.7,69.0 40.0,70.0" stroke="#4c6e56" stroke-width="0.83" fill="none"/>
<path d="M61.4,61.9 C60.5,60.6 58.3,55.7 55.7,53.8 C53.1,52.0 48.6,51.4 45.8,50.8 C43.0,50.2 40.7,51.3 39.0,50.5 C37.3,49.6 37.5,46.5 35.8,45.6 C34.2,44.8 30.9,45.9 28.9,45.4 C26.8,44.8 24.6,44.1 23.3,42.5 C22.1,40.9 22.3,36.9 21.2,35.8 C20.1,34.8 18.8,36.9 16.8,36.2 C14.8,35.5 10.8,32.7 9.2,31.7 C7.6,30.7 7.4,30.3 7.1,30.0" stroke="#3e5230" stroke-width="1.74" fill="none"/>
<path d="M61.4,61.9 C60.5,60.6 58.3,55.7 55.7,53.8 C53.1,52.0 48.6,51.4 45.8,50.8 C43.0,50.2 40.7,51.3 39.0,50.5 C37.3,49.6 37.5,46.5 35.8,45.6 C34.2,44.8 30.9,45.9 28.9,45.4 C26.8,44.8 24.6,44.1 23.3,42.5 C22.1,40.9 22.3,36.9 21.2,35.8 C20.1,34.8 18.8,36.9 16.8,36.2 C14.8,35.5 10.8,32.7 9.2,31.7 C7.6,30.7 7.4,30.3 7.1,30.0" stroke="#5c6e4c" stroke-width="1.36" fill="none"/>
<path d="M55.6,59.3 C54.3,58.4 50.4,54.8 47.4,54.2 C44.5,53.7 40.6,56.1 37.8,56.0 C35.0,55.9 33.2,54.2 30.7,53.4 C28.2,52.7 25.6,51.2 22.7,51.5 C19.8,51.8 15.5,55.0 13.4,55.3 C11.3,55.6 11.2,53.4 10.1,53.5 C9.0,53.6 7.3,55.3 6.8,55.7" stroke="#3e5230" stroke-width="1.21" fill="none"/>
<path d="M55.6,59.3 C54.3,58.4 50.4,54.8 47.4,54.2 C44.5,53.7 40.6,56.1 37.8,56.0 C35.0,55.9 33.2,54.2 30.7,53.4 C28.2,52.7 25.6,51.2 22.7,51.5 C19.8,51.8 15.5,55.0 13.4,55.3 C11.3,55.6 11.2,53.4 10.1,53.5 C9.0,53.6 7.3,55.3 6.8,55.7" stroke="#5c6e4c" stroke-width="0.84" fill="none"/>
<path d="M68.5,53.9 C68.4,52.9 67.6,49.7 67.8,48.3 C67.9,46.9 68.7,47.2 69.7,45.4 C70.6,43.6 72.9,39.2 73.3,37.4 C73.7,35.7 72.4,36.4 72.1,35.0 C71.8,33.6 71.4,31.5 71.4,29.1 C71.5,26.6 72.2,21.7 72.3,20.2" stroke="#3e5230" stroke-width="1.16" fill="none"/>
<path d="M68.5,53.9 C68.4,52.9 67.6,49.7 67.8,48.3 C67.9,46.9 68.7,47.2 69.7,45.4 C70.6,43.6 72.9,39.2 73.3,37.4 C73.7,35.7 72.4,36.4 72.1,35.0 C71.8,33.6 71.4,31.5 71.4,29.1 C71.5,26.6 72.2,21.7 72.3,20.2" stroke="#5c6e4c" stroke-width="0.79" fill="none"/>
<path d="M72.7,52.8 C73.6,52.8 75.7,53.5 78.2,53.0 C80.8,52.5 85.3,51.3 87.8,49.7 C90.3,48.1 91.8,44.7 93.2,43.4 C94.6,42.1 95.0,43.1 96.2,41.8 C97.5,40.4 99.4,37.0 100.9,35.4 C102.3,33.7 104.3,32.5 105.0,32.0" stroke="#3e5230" stroke-width="1.27" fill="none"/>
<path d="M72.7,52.8 C73.6,52.8 75.7,53.5 78.2,53.0 C80.8,52.5 85.3,51.3 87.8,49.7 C90.3,48.1 91.8,44.7 93.2,43.4 C94.6,42.1 95.0,43.1 96.2,41.8 C97.5,40.4 99.4,37.0 100.9,35.4 C102.3,33.7 104.3,32.5 105.0,32.0" stroke="#5c6e4c" stroke-width="0.89" fill="none"/>
<path d="M74.6,58.9 C75.9,59.3 79.4,61.6 82.3,61.3 C85.3,61.0 90.2,57.9 92.4,57.1 C94.6,56.2 94.2,56.5 95.5,56.3 C96.8,56.2 99.3,56.1 100.0,56.1" stroke="#3e5230" stroke-width="1.11" fill="none"/>
<path d="M74.6,58.9 C75.9,59.3 79.4,61.6 82.3,61.3 C85.3,61.0 90.2,57.9 92.4,57.1 C94.6,56.2 94.2,56.5 95.5,56.3 C96.8,56.2 99.3,56.1 100.0,56.1" stroke="#5c6e4c" stroke-width="0.73" fill="none"/>
<path d="M51.8,27.3 C53.5,28.0 59.3,30.9 61.8,31.3 C64.4,31.7 65.9,29.3 67.1,29.7 C68.2,30.1 67.0,32.7 68.8,33.6 C70.6,34.5 74.9,34.3 77.9,35.2 C80.9,36.0 85.0,36.9 86.8,38.7 C88.6,40.6 88.5,45.2 88.9,46.5" stroke="#3e5230" stroke-width="1.06" fill="none"/>
<path d="M51.8,27.3 C53.5,28.0 59.3,30.9 61.8,31.3 C64.4,31.7 65.9,29.3 67.1,29.7 C68.2,30.1 67.0,32.7 68.8,33.6 C70.6,34.5 74.9,34.3 77.9,35.2 C80.9,36.0 85.0,36.9 86.8,38.7 C88.6,40.6 88.5,45.2 88.9,46.5" stroke="#5c6e4c" stroke-width="0.68" fill="none"/>
<path d="M33.6,49.1 C34.6,47.5 38.8,42.2 39.8,39.2 C40.8,36.3 40.0,33.4 39.3,31.3 C38.6,29.2 36.3,29.2 35.6,26.7 C35.0,24.2 35.6,18.1 35.5,16.4" stroke="#3e5230" stroke-width="0.95" fill="none"/>
<path d="M33.6,49.1 C34.6,47.5 38.8,42.2 39.8,39.2 C40.8,36.3 40.0,33.4 39.3,31.3 C38.6,29.2 36.3,29.2 35.6,26.7 C35.0,24.2 35.6,18.1 35.5,16.4" stroke="#5c6e4c" stroke-width="0.58" fill="none"/>
<path d="M26.8,96.5 C27.4,97.4 28.6,100.6 30.1,102.1 C31.6,103.6 34.2,105.8 35.9,105.6 C37.6,105.4 38.7,101.3 40.2,101.0 C41.7,100.7 43.3,102.4 45.0,103.8 C46.7,105.2 48.7,107.2 50.5,109.3 C52.3,111.3 55.1,115.0 56.0,116.1" stroke="#4a7a45" stroke-width="0.98" fill="none"/>
<path d="M62.7,97.1 C61.3,98.7 55.9,104.2 54.1,106.7 C52.4,109.2 51.2,111.1 52.2,112.4 C53.2,113.7 58.5,114.0 59.8,114.3" stroke="#8a8a3a" stroke-width="1.35" fill="none"/>
<path d="M60.5,120.0 C61.0,118.4 62.9,113.7 63.6,110.5 C64.3,107.3 64.8,103.8 64.6,100.9 C64.4,98.0 63.7,95.7 62.7,93.3 C61.8,90.9 59.9,88.5 58.9,86.6 C57.9,84.7 56.9,83.4 56.9,81.8 C56.9,80.2 57.8,78.3 58.9,77.0 C60.0,75.7 62.2,75.2 63.6,74.1 C65.0,73.0 67.0,71.6 67.5,70.3 C68.0,69.0 66.2,67.5 66.5,66.5 C66.8,65.5 68.0,64.6 69.4,64.6 C70.8,64.6 73.3,66.4 75.1,66.5 C76.9,66.6 79.2,65.2 80.0,65.0" stroke="#4a4a1c" stroke-width="3.08" fill="none"/>
<path d="M60.5,120.0 C61.0,118.4 62.9,113.7 63.6,110.5 C64.3,107.3 64.8,103.8 64.6,100.9 C64.4,98.0 63.7,95.7 62.7,93.3 C61.8,90.9 59.9,88.5 58.9,86.6 C57.9,84.7 56.9,83.4 56.9,81.8 C56.9,80.2 57.8,78.3 58.9,77.0 C60.0,75.7 62.2,75.2 63.6,74.1 C65.0,73.0 67.0,71.6 67.5,70.3 C68.0,69.0 66.2,67.5 66.5,66.5 C66.8,65.5 68.0,64.6 69.4,64.6 C70.8,64.6 73.3,66.4 75.1,66.5 C76.9,66.6 79.2,65.2 80.0,65.0" stroke="#97923c" stroke-width="2.38" fill="none"/>
<path d="M61.2,119.7 C61.7,118.1 63.6,113.4 64.3,110.2 C65.0,107.0 65.4,103.5 65.3,100.6 C65.2,97.7 64.4,95.4 63.4,93.0 C62.5,90.6 60.6,88.2 59.6,86.3 C58.6,84.4 57.6,83.1 57.6,81.5 C57.6,79.9 58.5,78.0 59.6,76.7 C60.7,75.4 62.9,74.9 64.3,73.8 C65.7,72.7 67.7,71.3 68.2,70.0 C68.7,68.7 66.9,67.2 67.2,66.2 C67.5,65.2 68.7,64.3 70.1,64.3 C71.5,64.3 74.0,66.1 75.8,66.2 C77.6,66.3 79.9,65.0 80.7,64.7" stroke="#b0a852" stroke-width="0.77" fill="none" opacity="0.7"/>
<path d="M63.0,66.0 C63.8,65.2 66.2,62.3 68.0,61.0 C69.8,59.7 72.0,58.3 74.0,58.0 C76.0,57.7 79.0,58.8 80.0,59.0" stroke="#7c8a40" stroke-width="2.25" fill="none"/>
<circle cx="64.4" cy="42.9" r="1.5" fill="#9a9a40"/>
<path d="M59.6,57 L64.8,55.3 L64.8,58.7 Z" fill="#5aa8f0"/>
<circle cx="67.4" cy="56.2" r="1.9" fill="#c8c050"/>
<path d="M25.7,50.2 L29.3,46 L29.3,50.8 Z" fill="#e81818"/>
<path d="M68.1,39.3 L71.7,35 L71.7,39.3 Z" fill="#e81818"/></g>
<g id="v3"><use href="#tn00" stroke="#385a44" stroke-width="0.58"/>
<use href="#tn01" stroke="#385a44" stroke-width="0.65"/>
<use href="#tn02" stroke="#385a44" stroke-width="0.72"/>
<use href="#tn10" stroke="#3f6248" stroke-width="0.58"/>
<use href="#tn11" stroke="#3f6248" stroke-width="0.65"/>
<use href="#tn12" stroke="#3f6248" stroke-width="0.72"/>
<use href="#tn20" stroke="#466a50" stroke-width="0.58"/>
<use href="#tn21" stroke="#466a50" stroke-width="0.65"/>
<use href="#tn22" stroke="#466a50" stroke-width="0.72"/>
<path d="M30.0,8.5 C31.0,8.0 34.0,5.8 36.0,5.5 C38.0,5.2 40.2,6.4 42.0,6.7 C43.8,7.0 46.0,6.2 47.0,7.3 C48.0,8.4 48.7,12.0 48.2,13.4 C47.7,14.8 45.2,15.4 44.0,16.0 C42.8,16.6 42.2,17.2 40.9,17.0 C39.6,16.8 37.4,14.4 36.0,14.6 C34.6,14.8 31.9,17.0 32.3,18.2 C32.7,19.4 36.8,20.6 38.4,21.9 C40.0,23.2 40.9,24.3 42.0,26.0 C43.1,27.7 43.7,29.7 45.0,32.0 C46.3,34.3 48.7,37.3 50.0,40.0 C51.3,42.7 52.5,46.7 53.0,48.0" stroke="#4c6e56" stroke-width="0.79" fill="none"/>
<path d="M16.5,18.2 C17.5,18.1 20.8,16.8 22.6,17.6 C24.4,18.4 26.1,21.2 27.5,23.1 C28.9,25.0 30.9,27.4 31.1,29.2 C31.3,31.0 29.9,34.0 28.7,34.0 C27.5,34.0 25.4,31.0 23.8,29.2 C22.2,27.4 20.6,23.6 19.0,23.1 C17.4,22.6 15.6,25.0 14.0,26.0 C12.4,27.0 10.6,28.3 9.2,29.2 C7.8,30.1 6.0,30.6 5.6,31.6 C5.2,32.6 5.8,34.5 6.8,35.3 C7.8,36.1 10.5,37.3 11.7,36.5 C12.9,35.7 13.7,31.4 14.1,30.4" stroke="#4c6e56" stroke-width="0.79" fill="none"/>
<path d="M53.5,12.2 C54.7,11.2 59.0,6.9 60.8,6.1 C62.6,5.3 63.6,6.3 64.4,7.3 C65.2,8.3 65.7,10.4 65.7,12.2 C65.7,14.0 64.2,16.4 64.4,18.2 C64.6,20.0 65.7,22.1 66.9,23.1 C68.1,24.1 70.1,24.3 71.7,24.3 C73.3,24.3 75.4,24.1 76.6,23.1 C77.8,22.1 78.4,20.0 79.0,18.2 C79.6,16.4 80.7,13.9 80.3,12.2 C79.9,10.5 78.0,8.5 76.6,7.9 C75.2,7.3 73.7,8.4 71.7,8.5 C69.7,8.6 65.6,8.5 64.4,8.5" stroke="#4c6e56" stroke-width="0.79" fill="none"/>
<path d="M81.5,13.4 C82.1,13.8 83.7,15.2 85.1,15.8 C86.5,16.4 88.6,16.6 90.0,17.0 C91.4,17.4 92.4,17.4 93.6,18.2 C94.8,19.0 96.9,20.5 97.3,21.9 C97.7,23.3 96.9,25.6 96.1,26.8 C95.3,28.0 93.8,28.4 92.4,29.2 C91.0,30.0 89.3,30.8 87.6,31.6 C85.9,32.4 83.6,33.4 82.0,34.0 C80.4,34.6 78.5,35.1 77.8,35.3" stroke="#4c6e56" stroke-width="0.79" fill="none"/>
<path d="M93.6,29.2 C94.8,28.8 99.6,26.8 101.0,26.8 C102.4,26.8 102.8,28.2 102.2,29.2 C101.6,30.2 99.0,31.7 97.3,32.8 C95.6,33.9 94.0,34.8 92.0,36.0 C90.0,37.2 86.2,39.3 85.1,40.0" stroke="#4c6e56" stroke-width="0.79" fill="none"/>
<path d="M53.5,18.2 C54.5,19.2 58.4,22.3 59.6,24.3 C60.8,26.3 60.6,29.4 60.8,30.4" stroke="#4c6e56" stroke-width="0.79" fill="none"/>
<path d="M68.1,24.3 C68.3,25.5 69.1,30.4 69.3,31.6" stroke="#4c6e56" stroke-width="0.79" fill="none"/>
<path d="M90.0,34.0 C91.0,34.6 94.1,37.3 96.1,37.7 C98.1,38.1 101.2,36.7 102.2,36.5" stroke="#4c6e56" stroke-width="0.79" fill="none"/>
<path d="M3.2,47.2 C4.4,47.4 8.4,48.6 10.4,48.4 C12.4,48.2 13.7,47.1 15.3,46.0 C16.9,44.9 19.2,42.7 20.0,42.0" stroke="#4c6e56" stroke-width="0.79" fill="none"/>
<path d="M5.6,56.9 C6.6,56.5 9.3,55.3 11.7,54.5 C14.1,53.7 18.0,51.6 20.2,52.0 C22.4,52.4 24.5,55.1 25.1,56.9 C25.7,58.7 24.0,62.0 23.8,63.0" stroke="#4c6e56" stroke-width="0.79" fill="none"/>
<path d="M6.8,63.0 C7.6,62.6 9.9,60.7 11.7,60.5 C13.5,60.3 17.1,60.6 17.7,61.8 C18.3,63.0 15.7,66.8 15.3,67.8" stroke="#4c6e56" stroke-width="0.79" fill="none"/>
<path d="M28.7,59.3 C29.5,58.5 31.8,55.1 33.6,54.5 C35.4,53.9 39.6,54.3 39.6,55.7 C39.6,57.1 35.8,60.6 33.6,63.0 C31.4,65.4 27.5,69.1 26.3,70.3" stroke="#4c6e56" stroke-width="0.79" fill="none"/>
<path d="M40.9,66.6 C42.1,65.4 46.1,60.9 48.2,59.3 C50.3,57.7 51.5,57.1 53.5,56.9 C55.5,56.7 58.9,57.8 60.0,58.0" stroke="#4c6e56" stroke-width="0.79" fill="none"/>
<path d="M45.7,70.3 C46.5,69.5 48.9,66.8 50.6,65.4 C52.3,64.0 55.1,62.6 56.0,62.0" stroke="#4c6e56" stroke-width="0.79" fill="none"/>
<path d="M36.0,20.0 C36.7,21.3 40.0,25.3 40.0,28.0 C40.0,30.7 37.7,34.0 36.0,36.0 C34.3,38.0 31.0,39.3 30.0,40.0" stroke="#4c6e56" stroke-width="0.79" fill="none"/>
<path d="M48.0,14.0 C48.7,15.3 50.7,19.3 52.0,22.0 C53.3,24.7 55.7,27.0 56.0,30.0 C56.3,33.0 54.0,37.0 54.0,40.0 C54.0,43.0 55.7,46.7 56.0,48.0" stroke="#4c6e56" stroke-width="0.79" fill="none"/>
<path d="M58.0,36.0 C58.7,37.0 60.9,40.3 62.0,42.0 C63.1,43.7 64.0,45.3 64.4,46.0" stroke="#4c6e56" stroke-width="0.79" fill="none"/>
<path d="M20.0,44.0 C19.0,45.3 16.0,50.0 14.0,52.0 C12.0,54.0 9.0,55.3 8.0,56.0" stroke="#4c6e56" stroke-width="0.79" fill="none"/>
<path d="M74.0,28.0 C75.0,27.3 78.0,25.0 80.0,24.0 C82.0,23.0 84.7,21.7 86.0,22.0 C87.3,22.3 88.3,24.7 88.0,26.0 C87.7,27.3 84.7,29.3 84.0,30.0" stroke="#4c6e56" stroke-width="0.79" fill="none"/>
<path d="M60.0,66.0 C59.0,66.7 56.0,68.7 54.0,70.0 C52.0,71.3 49.0,73.3 48.0,74.0" stroke="#4c6e56" stroke-width="0.79" fill="none"/>
<path d="M72.0,66.0 C72.7,67.0 75.7,70.0 76.0,72.0 C76.3,74.0 74.3,77.0 74.0,78.0" stroke="#4c6e56" stroke-width="0.79" fill="none"/>
<path d="M56.0,60.0 C55.3,61.0 54.0,65.3 52.0,66.0 C50.0,66.7 46.0,63.3 44.0,64.0 C42.0,64.7 40.7,69.0 40.0,70.0" stroke="#4c6e56" stroke-width="0.79" fill="none"/>
<path d="M61.4,61.9 C60.5,60.6 58.3,55.7 55.7,53.8 C53.1,52.0 48.6,51.4 45.8,50.8 C43.0,50.2 40.7,51.3 39.0,50.5 C37.3,49.6 37.5,46.5 35.8,45.6 C34.2,44.8 30.9,45.9 28.9,45.4 C26.8,44.8 24.6,44.1 23.3,42.5 C22.1,40.9 22.3,36.9 21.2,35.8 C20.1,34.8 18.8,36.9 16.8,36.2 C14.8,35.5 10.8,32.7 9.2,31.7 C7.6,30.7 7.4,30.3 7.1,30.0" stroke="#3e5230" stroke-width="1.67" fill="none"/>
<path d="M61.4,61.9 C60.5,60.6 58.3,55.7 55.7,53.8 C53.1,52.0 48.6,51.4 45.8,50.8 C43.0,50.2 40.7,51.3 39.0,50.5 C37.3,49.6 37.5,46.5 35.8,45.6 C34.2,44.8 30.9,45.9 28.9,45.4 C26.8,44.8 24.6,44.1 23.3,42.5 C22.1,40.9 22.3,36.9 21.2,35.8 C20.1,34.8 18.8,36.9 16.8,36.2 C14.8,35.5 10.8,32.7 9.2,31.7 C7.6,30.7 7.4,30.3 7.1,30.0" stroke="#56684c" stroke-width="1.31" fill="none"/>
<path d="M55.6,59.3 C54.3,58.4 50.4,54.8 47.4,54.2 C44.5,53.7 40.6,56.1 37.8,56.0 C35.0,55.9 33.2,54.2 30.7,53.4 C28.2,52.7 25.6,51.2 22.7,51.5 C19.8,51.8 15.5,55.0 13.4,55.3 C11.3,55.6 11.2,53.4 10.1,53.5 C9.0,53.6 7.3,55.3 6.8,55.7" stroke="#3e5230" stroke-width="1.17" fill="none"/>
<path d="M55.6,59.3 C54.3,58.4 50.4,54.8 47.4,54.2 C44.5,53.7 40.6,56.1 37.8,56.0 C35.0,55.9 33.2,54.2 30.7,53.4 C28.2,52.7 25.6,51.2 22.7,51.5 C19.8,51.8 15.5,55.0 13.4,55.3 C11.3,55.6 11.2,53.4 10.1,53.5 C9.0,53.6 7.3,55.3 6.8,55.7" stroke="#56684c" stroke-width="0.81" fill="none"/>
<path d="M68.5,53.9 C68.4,52.9 67.6,49.7 67.8,48.3 C67.9,46.9 68.7,47.2 69.7,45.4 C70.6,43.6 72.9,39.2 73.3,37.4 C73.7,35.7 72.4,36.4 72.1,35.0 C71.8,33.6 71.4,31.5 71.4,29.1 C71.5,26.6 72.2,21.7 72.3,20.2" stroke="#3e5230" stroke-width="1.12" fill="none"/>
<path d="M68.5,53.9 C68.4,52.9 67.6,49.7 67.8,48.3 C67.9,46.9 68.7,47.2 69.7,45.4 C70.6,43.6 72.9,39.2 73.3,37.4 C73.7,35.7 72.4,36.4 72.1,35.0 C71.8,33.6 71.4,31.5 71.4,29.1 C71.5,26.6 72.2,21.7 72.3,20.2" stroke="#56684c" stroke-width="0.76" fill="none"/>
<path d="M72.7,52.8 C73.6,52.8 75.7,53.5 78.2,53.0 C80.8,52.5 85.3,51.3 87.8,49.7 C90.3,48.1 91.8,44.7 93.2,43.4 C94.6,42.1 95.0,43.1 96.2,41.8 C97.5,40.4 99.4,37.0 100.9,35.4 C102.3,33.7 104.3,32.5 105.0,32.0" stroke="#3e5230" stroke-width="1.22" fill="none"/>
<path d="M72.7,52.8 C73.6,52.8 75.7,53.5 78.2,53.0 C80.8,52.5 85.3,51.3 87.8,49.7 C90.3,48.1 91.8,44.7 93.2,43.4 C94.6,42.1 95.0,43.1 96.2,41.8 C97.5,40.4 99.4,37.0 100.9,35.4 C102.3,33.7 104.3,32.5 105.0,32.0" stroke="#56684c" stroke-width="0.86" fill="none"/>
<path d="M74.6,58.9 C75.9,59.3 79.4,61.6 82.3,61.3 C85.3,61.0 90.2,57.9 92.4,57.1 C94.6,56.2 94.2,56.5 95.5,56.3 C96.8,56.2 99.3,56.1 100.0,56.1" stroke="#3e5230" stroke-width="1.07" fill="none"/>
<path d="M74.6,58.9 C75.9,59.3 79.4,61.6 82.3,61.3 C85.3,61.0 90.2,57.9 92.4,57.1 C94.6,56.2 94.2,56.5 95.5,56.3 C96.8,56.2 99.3,56.1 100.0,56.1" stroke="#56684c" stroke-width="0.71" fill="none"/>
<path d="M51.8,27.3 C53.5,28.0 59.3,30.9 61.8,31.3 C64.4,31.7 65.9,29.3 67.1,29.7 C68.2,30.1 67.0,32.7 68.8,33.6 C70.6,34.5 74.9,34.3 77.9,35.2 C80.9,36.0 85.0,36.9 86.8,38.7 C88.6,40.6 88.5,45.2 88.9,46.5" stroke="#3e5230" stroke-width="1.02" fill="none"/>
<path d="M51.8,27.3 C53.5,28.0 59.3,30.9 61.8,31.3 C64.4,31.7 65.9,29.3 67.1,29.7 C68.2,30.1 67.0,32.7 68.8,33.6 C70.6,34.5 74.9,34.3 77.9,35.2 C80.9,36.0 85.0,36.9 86.8,38.7 C88.6,40.6 88.5,45.2 88.9,46.5" stroke="#56684c" stroke-width="0.66" fill="none"/>
<path d="M33.6,49.1 C34.6,47.5 38.8,42.2 39.8,39.2 C40.8,36.3 40.0,33.4 39.3,31.3 C38.6,29.2 36.3,29.2 35.6,26.7 C35.0,24.2 35.6,18.1 35.5,16.4" stroke="#3e5230" stroke-width="0.91" fill="none"/>
<path d="M33.6,49.1 C34.6,47.5 38.8,42.2 39.8,39.2 C40.8,36.3 40.0,33.4 39.3,31.3 C38.6,29.2 36.3,29.2 35.6,26.7 C35.0,24.2 35.6,18.1 35.5,16.4" stroke="#56684c" stroke-width="0.55" fill="none"/>
<path d="M26.8,96.5 C27.4,97.4 28.6,100.6 30.1,102.1 C31.6,103.6 34.2,105.8 35.9,105.6 C37.6,105.4 38.7,101.3 40.2,101.0 C41.7,100.7 43.3,102.4 45.0,103.8 C46.7,105.2 48.7,107.2 50.5,109.3 C52.3,111.3 55.1,115.0 56.0,116.1" stroke="#4a7a45" stroke-width="0.94" fill="none"/>
<path d="M62.7,97.1 C61.3,98.7 55.9,104.2 54.1,106.7 C52.4,109.2 51.2,111.1 52.2,112.4 C53.2,113.7 58.5,114.0 59.8,114.3" stroke="#8a8a3a" stroke-width="1.30" fill="none"/>
<path d="M59.4,120.0 C60.1,118.8 63.1,115.2 63.8,112.5 C64.5,109.8 64.5,106.4 63.8,103.6 C63.1,100.8 60.7,98.3 59.4,95.9 C58.1,93.5 56.2,91.4 56.0,89.2 C55.8,87.0 57.0,84.6 58.3,82.6 C59.6,80.6 62.5,79.0 63.8,77.0 C65.1,75.0 64.5,72.1 66.0,70.4 C67.5,68.7 72.7,67.9 72.7,67.0 C72.7,66.1 67.1,65.2 66.0,64.8" stroke="#4a4a24" stroke-width="3.0" fill="none"/>
<path d="M59.4,120.0 C60.1,118.8 63.1,115.2 63.8,112.5 C64.5,109.8 64.5,106.4 63.8,103.6 C63.1,100.8 60.7,98.3 59.4,95.9 C58.1,93.5 56.2,91.4 56.0,89.2 C55.8,87.0 57.0,84.6 58.3,82.6 C59.6,80.6 62.5,79.0 63.8,77.0 C65.1,75.0 64.5,72.1 66.0,70.4 C67.5,68.7 72.7,67.9 72.7,67.0 C72.7,66.1 67.1,65.2 66.0,64.8" stroke="#9c9850" stroke-width="2.2" fill="none"/>
<path d="M59.9,119.8 C60.6,118.5 63.6,115.0 64.3,112.3 C65.0,109.6 65.0,106.2 64.3,103.4 C63.6,100.6 61.2,98.1 59.9,95.7 C58.6,93.3 56.7,91.2 56.5,89.0 C56.3,86.8 57.5,84.4 58.8,82.4 C60.1,80.4 63.0,78.8 64.3,76.8 C65.6,74.8 65.0,71.9 66.5,70.2 C68.0,68.5 73.2,67.7 73.2,66.8 C73.2,65.9 67.6,65.0 66.5,64.6" stroke="#c0ba70" stroke-width="0.7" fill="none" opacity="0.6"/>
<circle cx="64.4" cy="42.9" r="1.5" fill="#9a9a40"/>
<path d="M59.6,57 L64.8,55.3 L64.8,58.7 Z" fill="#5aa8f0"/>
<circle cx="67.4" cy="56.2" r="1.9" fill="#c8c050"/>
<path d="M25.7,50.2 L29.3,46 L29.3,50.8 Z" fill="#e81818"/>
<path d="M68.1,39.3 L71.7,35 L71.7,39.3 Z" fill="#e81818"/></g>
<g id="v4"><use href="#tn00" stroke="#385a44" stroke-width="0.56"/>
<use href="#tn01" stroke="#385a44" stroke-width="0.63"/>
<use href="#tn02" stroke="#385a44" stroke-width="0.70"/>
<use href="#tn10" stroke="#3f6248" stroke-width="0.56"/>
<use href="#tn11" stroke="#3f6248" stroke-width="0.63"/>
<use href="#tn12" stroke="#3f6248" stroke-width="0.70"/>
<use href="#tn20" stroke="#466a50" stroke-width="0.56"/>
<use href="#tn21" stroke="#466a50" stroke-width="0.63"/>
<use href="#tn22" stroke="#466a50" stroke-width="0.70"/>
<path d="M30.0,8.5 C31.0,8.0 34.0,5.8 36.0,5.5 C38.0,5.2 40.2,6.4 42.0,6.7 C43.8,7.0 46.0,6.2 47.0,7.3 C48.0,8.4 48.7,12.0 48.2,13.4 C47.7,14.8 45.2,15.4 44.0,16.0 C42.8,16.6 42.2,17.2 40.9,17.0 C39.6,16.8 37.4,14.4 36.0,14.6 C34.6,14.8 31.9,17.0 32.3,18.2 C32.7,19.4 36.8,20.6 38.4,21.9 C40.0,23.2 40.9,24.3 42.0,26.0 C43.1,27.7 43.7,29.7 45.0,32.0 C46.3,34.3 48.7,37.3 50.0,40.0 C51.3,42.7 52.5,46.7 53.0,48.0" stroke="#4c6e56" stroke-width="0.77" fill="none"/>
<path d="M16.5,18.2 C17.5,18.1 20.8,16.8 22.6,17.6 C24.4,18.4 26.1,21.2 27.5,23.1 C28.9,25.0 30.9,27.4 31.1,29.2 C31.3,31.0 29.9,34.0 28.7,34.0 C27.5,34.0 25.4,31.0 23.8,29.2 C22.2,27.4 20.6,23.6 19.0,23.1 C17.4,22.6 15.6,25.0 14.0,26.0 C12.4,27.0 10.6,28.3 9.2,29.2 C7.8,30.1 6.0,30.6 5.6,31.6 C5.2,32.6 5.8,34.5 6.8,35.3 C7.8,36.1 10.5,37.3 11.7,36.5 C12.9,35.7 13.7,31.4 14.1,30.4" stroke="#4c6e56" stroke-width="0.77" fill="none"/>
<path d="M53.5,12.2 C54.7,11.2 59.0,6.9 60.8,6.1 C62.6,5.3 63.6,6.3 64.4,7.3 C65.2,8.3 65.7,10.4 65.7,12.2 C65.7,14.0 64.2,16.4 64.4,18.2 C64.6,20.0 65.7,22.1 66.9,23.1 C68.1,24.1 70.1,24.3 71.7,24.3 C73.3,24.3 75.4,24.1 76.6,23.1 C77.8,22.1 78.4,20.0 79.0,18.2 C79.6,16.4 80.7,13.9 80.3,12.2 C79.9,10.5 78.0,8.5 76.6,7.9 C75.2,7.3 73.7,8.4 71.7,8.5 C69.7,8.6 65.6,8.5 64.4,8.5" stroke="#4c6e56" stroke-width="0.77" fill="none"/>
<path d="M81.5,13.4 C82.1,13.8 83.7,15.2 85.1,15.8 C86.5,16.4 88.6,16.6 90.0,17.0 C91.4,17.4 92.4,17.4 93.6,18.2 C94.8,19.0 96.9,20.5 97.3,21.9 C97.7,23.3 96.9,25.6 96.1,26.8 C95.3,28.0 93.8,28.4 92.4,29.2 C91.0,30.0 89.3,30.8 87.6,31.6 C85.9,32.4 83.6,33.4 82.0,34.0 C80.4,34.6 78.5,35.1 77.8,35.3" stroke="#4c6e56" stroke-width="0.77" fill="none"/>
<path d="M93.6,29.2 C94.8,28.8 99.6,26.8 101.0,26.8 C102.4,26.8 102.8,28.2 102.2,29.2 C101.6,30.2 99.0,31.7 97.3,32.8 C95.6,33.9 94.0,34.8 92.0,36.0 C90.0,37.2 86.2,39.3 85.1,40.0" stroke="#4c6e56" stroke-width="0.77" fill="none"/>
<path d="M53.5,18.2 C54.5,19.2 58.4,22.3 59.6,24.3 C60.8,26.3 60.6,29.4 60.8,30.4" stroke="#4c6e56" stroke-width="0.77" fill="none"/>
<path d="M68.1,24.3 C68.3,25.5 69.1,30.4 69.3,31.6" stroke="#4c6e56" stroke-width="0.77" fill="none"/>
<path d="M90.0,34.0 C91.0,34.6 94.1,37.3 96.1,37.7 C98.1,38.1 101.2,36.7 102.2,36.5" stroke="#4c6e56" stroke-width="0.77" fill="none"/>
<path d="M3.2,47.2 C4.4,47.4 8.4,48.6 10.4,48.4 C12.4,48.2 13.7,47.1 15.3,46.0 C16.9,44.9 19.2,42.7 20.0,42.0" stroke="#4c6e56" stroke-width="0.77" fill="none"/>
<path d="M5.6,56.9 C6.6,56.5 9.3,55.3 11.7,54.5 C14.1,53.7 18.0,51.6 20.2,52.0 C22.4,52.4 24.5,55.1 25.1,56.9 C25.7,58.7 24.0,62.0 23.8,63.0" stroke="#4c6e56" stroke-width="0.77" fill="none"/>
<path d="M6.8,63.0 C7.6,62.6 9.9,60.7 11.7,60.5 C13.5,60.3 17.1,60.6 17.7,61.8 C18.3,63.0 15.7,66.8 15.3,67.8" stroke="#4c6e56" stroke-width="0.77" fill="none"/>
<path d="M28.7,59.3 C29.5,58.5 31.8,55.1 33.6,54.5 C35.4,53.9 39.6,54.3 39.6,55.7 C39.6,57.1 35.8,60.6 33.6,63.0 C31.4,65.4 27.5,69.1 26.3,70.3" stroke="#4c6e56" stroke-width="0.77" fill="none"/>
<path d="M40.9,66.6 C42.1,65.4 46.1,60.9 48.2,59.3 C50.3,57.7 51.5,57.1 53.5,56.9 C55.5,56.7 58.9,57.8 60.0,58.0" stroke="#4c6e56" stroke-width="0.77" fill="none"/>
<path d="M45.7,70.3 C46.5,69.5 48.9,66.8 50.6,65.4 C52.3,64.0 55.1,62.6 56.0,62.0" stroke="#4c6e56" stroke-width="0.77" fill="none"/>
<path d="M36.0,20.0 C36.7,21.3 40.0,25.3 40.0,28.0 C40.0,30.7 37.7,34.0 36.0,36.0 C34.3,38.0 31.0,39.3 30.0,40.0" stroke="#4c6e56" stroke-width="0.77" fill="none"/>
<path d="M48.0,14.0 C48.7,15.3 50.7,19.3 52.0,22.0 C53.3,24.7 55.7,27.0 56.0,30.0 C56.3,33.0 54.0,37.0 54.0,40.0 C54.0,43.0 55.7,46.7 56.0,48.0" stroke="#4c6e56" stroke-width="0.77" fill="none"/>
<path d="M58.0,36.0 C58.7,37.0 60.9,40.3 62.0,42.0 C63.1,43.7 64.0,45.3 64.4,46.0" stroke="#4c6e56" stroke-width="0.77" fill="none"/>
<path d="M20.0,44.0 C19.0,45.3 16.0,50.0 14.0,52.0 C12.0,54.0 9.0,55.3 8.0,56.0" stroke="#4c6e56" stroke-width="0.77" fill="none"/>
<path d="M74.0,28.0 C75.0,27.3 78.0,25.0 80.0,24.0 C82.0,23.0 84.7,21.7 86.0,22.0 C87.3,22.3 88.3,24.7 88.0,26.0 C87.7,27.3 84.7,29.3 84.0,30.0" stroke="#4c6e56" stroke-width="0.77" fill="none"/>
<path d="M60.0,66.0 C59.0,66.7 56.0,68.7 54.0,70.0 C52.0,71.3 49.0,73.3 48.0,74.0" stroke="#4c6e56" stroke-width="0.77" fill="none"/>
<path d="M72.0,66.0 C72.7,67.0 75.7,70.0 76.0,72.0 C76.3,74.0 74.3,77.0 74.0,78.0" stroke="#4c6e56" stroke-width="0.77" fill="none"/>
<path d="M56.0,60.0 C55.3,61.0 54.0,65.3 52.0,66.0 C50.0,66.7 46.0,63.3 44.0,64.0 C42.0,64.7 40.7,69.0 40.0,70.0" stroke="#4c6e56" stroke-width="0.77" fill="none"/>
<path d="M61.4,61.9 C60.5,60.6 58.3,55.7 55.7,53.8 C53.1,52.0 48.6,51.4 45.8,50.8 C43.0,50.2 40.7,51.3 39.0,50.5 C37.3,49.6 37.5,46.5 35.8,45.6 C34.2,44.8 30.9,45.9 28.9,45.4 C26.8,44.8 24.6,44.1 23.3,42.5 C22.1,40.9 22.3,36.9 21.2,35.8 C20.1,34.8 18.8,36.9 16.8,36.2 C14.8,35.5 10.8,32.7 9.2,31.7 C7.6,30.7 7.4,30.3 7.1,30.0" stroke="#3e5230" stroke-width="1.62" fill="none"/>
<path d="M61.4,61.9 C60.5,60.6 58.3,55.7 55.7,53.8 C53.1,52.0 48.6,51.4 45.8,50.8 C43.0,50.2 40.7,51.3 39.0,50.5 C37.3,49.6 37.5,46.5 35.8,45.6 C34.2,44.8 30.9,45.9 28.9,45.4 C26.8,44.8 24.6,44.1 23.3,42.5 C22.1,40.9 22.3,36.9 21.2,35.8 C20.1,34.8 18.8,36.9 16.8,36.2 C14.8,35.5 10.8,32.7 9.2,31.7 C7.6,30.7 7.4,30.3 7.1,30.0" stroke="#56684c" stroke-width="1.27" fill="none"/>
<path d="M55.6,59.3 C54.3,58.4 50.4,54.8 47.4,54.2 C44.5,53.7 40.6,56.1 37.8,56.0 C35.0,55.9 33.2,54.2 30.7,53.4 C28.2,52.7 25.6,51.2 22.7,51.5 C19.8,51.8 15.5,55.0 13.4,55.3 C11.3,55.6 11.2,53.4 10.1,53.5 C9.0,53.6 7.3,55.3 6.8,55.7" stroke="#3e5230" stroke-width="1.13" fill="none"/>
<path d="M55.6,59.3 C54.3,58.4 50.4,54.8 47.4,54.2 C44.5,53.7 40.6,56.1 37.8,56.0 C35.0,55.9 33.2,54.2 30.7,53.4 C28.2,52.7 25.6,51.2 22.7,51.5 C19.8,51.8 15.5,55.0 13.4,55.3 C11.3,55.6 11.2,53.4 10.1,53.5 C9.0,53.6 7.3,55.3 6.8,55.7" stroke="#56684c" stroke-width="0.78" fill="none"/>
<path d="M68.5,53.9 C68.4,52.9 67.6,49.7 67.8,48.3 C67.9,46.9 68.7,47.2 69.7,45.4 C70.6,43.6 72.9,39.2 73.3,37.4 C73.7,35.7 72.4,36.4 72.1,35.0 C71.8,33.6 71.4,31.5 71.4,29.1 C71.5,26.6 72.2,21.7 72.3,20.2" stroke="#3e5230" stroke-width="1.08" fill="none"/>
<path d="M68.5,53.9 C68.4,52.9 67.6,49.7 67.8,48.3 C67.9,46.9 68.7,47.2 69.7,45.4 C70.6,43.6 72.9,39.2 73.3,37.4 C73.7,35.7 72.4,36.4 72.1,35.0 C71.8,33.6 71.4,31.5 71.4,29.1 C71.5,26.6 72.2,21.7 72.3,20.2" stroke="#56684c" stroke-width="0.73" fill="none"/>
<path d="M72.7,52.8 C73.6,52.8 75.7,53.5 78.2,53.0 C80.8,52.5 85.3,51.3 87.8,49.7 C90.3,48.1 91.8,44.7 93.2,43.4 C94.6,42.1 95.0,43.1 96.2,41.8 C97.5,40.4 99.4,37.0 100.9,35.4 C102.3,33.7 104.3,32.5 105.0,32.0" stroke="#3e5230" stroke-width="1.18" fill="none"/>
<path d="M72.7,52.8 C73.6,52.8 75.7,53.5 78.2,53.0 C80.8,52.5 85.3,51.3 87.8,49.7 C90.3,48.1 91.8,44.7 93.2,43.4 C94.6,42.1 95.0,43.1 96.2,41.8 C97.5,40.4 99.4,37.0 100.9,35.4 C102.3,33.7 104.3,32.5 105.0,32.0" stroke="#56684c" stroke-width="0.83" fill="none"/>
<path d="M74.6,58.9 C75.9,59.3 79.4,61.6 82.3,61.3 C85.3,61.0 90.2,57.9 92.4,57.1 C94.6,56.2 94.2,56.5 95.5,56.3 C96.8,56.2 99.3,56.1 100.0,56.1" stroke="#3e5230" stroke-width="1.04" fill="none"/>
<path d="M74.6,58.9 C75.9,59.3 79.4,61.6 82.3,61.3 C85.3,61.0 90.2,57.9 92.4,57.1 C94.6,56.2 94.2,56.5 95.5,56.3 C96.8,56.2 99.3,56.1 100.0,56.1" stroke="#56684c" stroke-width="0.69" fill="none"/>
<path d="M51.8,27.3 C53.5,28.0 59.3,30.9 61.8,31.3 C64.4,31.7 65.9,29.3 67.1,29.7 C68.2,30.1 67.0,32.7 68.8,33.6 C70.6,34.5 74.9,34.3 77.9,35.2 C80.9,36.0 85.0,36.9 86.8,38.7 C88.6,40.6 88.5,45.2 88.9,46.5" stroke="#3e5230" stroke-width="0.99" fill="none"/>
<path d="M51.8,27.3 C53.5,28.0 59.3,30.9 61.8,31.3 C64.4,31.7 65.9,29.3 67.1,29.7 C68.2,30.1 67.0,32.7 68.8,33.6 C70.6,34.5 74.9,34.3 77.9,35.2 C80.9,36.0 85.0,36.9 86.8,38.7 C88.6,40.6 88.5,45.2 88.9,46.5" stroke="#56684c" stroke-width="0.64" fill="none"/>
<path d="M33.6,49.1 C34.6,47.5 38.8,42.2 39.8,39.2 C40.8,36.3 40.0,33.4 39.3,31.3 C38.6,29.2 36.3,29.2 35.6,26.7 C35.0,24.2 35.6,18.1 35.5,16.4" stroke="#3e5230" stroke-width="0.89" fill="none"/>
<path d="M33.6,49.1 C34.6,47.5 38.8,42.2 39.8,39.2 C40.8,36.3 40.0,33.4 39.3,31.3 C38.6,29.2 36.3,29.2 35.6,26.7 C35.0,24.2 35.6,18.1 35.5,16.4" stroke="#56684c" stroke-width="0.54" fill="none"/>
<path d="M26.8,96.5 C27.4,97.4 28.6,100.6 30.1,102.1 C31.6,103.6 34.2,105.8 35.9,105.6 C37.6,105.4 38.7,101.3 40.2,101.0 C41.7,100.7 43.3,102.4 45.0,103.8 C46.7,105.2 48.7,107.2 50.5,109.3 C52.3,111.3 55.1,115.0 56.0,116.1" stroke="#4a7a45" stroke-width="0.91" fill="none"/>
<path d="M62.7,97.1 C61.3,98.7 55.9,104.2 54.1,106.7 C52.4,109.2 51.2,111.1 52.2,112.4 C53.2,113.7 58.5,114.0 59.8,114.3" stroke="#8a8a3a" stroke-width="1.26" fill="none"/>
<path d="M59.4,120.0 C60.1,118.8 63.1,115.2 63.8,112.5 C64.5,109.8 64.5,106.4 63.8,103.6 C63.1,100.8 60.7,98.3 59.4,95.9 C58.1,93.5 56.2,91.4 56.0,89.2 C55.8,87.0 57.0,84.6 58.3,82.6 C59.6,80.6 62.5,79.0 63.8,77.0 C65.1,75.0 64.5,72.1 66.0,70.4 C67.5,68.7 72.7,67.9 72.7,67.0 C72.7,66.1 67.1,65.2 66.0,64.8" stroke="#4a4a24" stroke-width="3.0" fill="none"/>
<path d="M59.4,120.0 C60.1,118.8 63.1,115.2 63.8,112.5 C64.5,109.8 64.5,106.4 63.8,103.6 C63.1,100.8 60.7,98.3 59.4,95.9 C58.1,93.5 56.2,91.4 56.0,89.2 C55.8,87.0 57.0,84.6 58.3,82.6 C59.6,80.6 62.5,79.0 63.8,77.0 C65.1,75.0 64.5,72.1 66.0,70.4 C67.5,68.7 72.7,67.9 72.7,67.0 C72.7,66.1 67.1,65.2 66.0,64.8" stroke="#9c9850" stroke-width="2.2" fill="none"/>
<path d="M59.9,119.8 C60.6,118.5 63.6,115.0 64.3,112.3 C65.0,109.6 65.0,106.2 64.3,103.4 C63.6,100.6 61.2,98.1 59.9,95.7 C58.6,93.3 56.7,91.2 56.5,89.0 C56.3,86.8 57.5,84.4 58.8,82.4 C60.1,80.4 63.0,78.8 64.3,76.8 C65.6,74.8 65.0,71.9 66.5,70.2 C68.0,68.5 73.2,67.7 73.2,66.8 C73.2,65.9 67.6,65.0 66.5,64.6" stroke="#c0ba70" stroke-width="0.7" fill="none" opacity="0.6"/>
<circle cx="64.4" cy="42.9" r="1.5" fill="#9a9a40"/>
<path d="M59.6,57 L64.8,55.3 L64.8,58.7 Z" fill="#5aa8f0"/>
<circle cx="67.4" cy="56.2" r="1.9" fill="#c8c050"/>
<path d="M25.7,50.2 L29.3,46 L29.3,50.8 Z" fill="#e81818"/>
<path d="M68.1,39.3 L71.7,35 L71.7,39.3 Z" fill="#e81818"/></g>
<g id="v5"><use href="#tn00" stroke="#3a5c46" stroke-width="0.54"/>
<use href="#tn01" stroke="#3a5c46" stroke-width="0.61"/>
<use href="#tn02" stroke="#3a5c46" stroke-width="0.68"/>
<use href="#tn10" stroke="#41644a" stroke-width="0.54"/>
<use href="#tn11" stroke="#41644a" stroke-width="0.61"/>
<use href="#tn12" stroke="#41644a" stroke-width="0.68"/>
<use href="#tn20" stroke="#486c52" stroke-width="0.54"/>
<use href="#tn21" stroke="#486c52" stroke-width="0.61"/>
<use href="#tn22" stroke="#486c52" stroke-width="0.68"/>
<path d="M30.0,8.5 C31.0,8.0 34.0,5.8 36.0,5.5 C38.0,5.2 40.2,6.4 42.0,6.7 C43.8,7.0 46.0,6.2 47.0,7.3 C48.0,8.4 48.7,12.0 48.2,13.4 C47.7,14.8 45.2,15.4 44.0,16.0 C42.8,16.6 42.2,17.2 40.9,17.0 C39.6,16.8 37.4,14.4 36.0,14.6 C34.6,14.8 31.9,17.0 32.3,18.2 C32.7,19.4 36.8,20.6 38.4,21.9 C40.0,23.2 40.9,24.3 42.0,26.0 C43.1,27.7 43.7,29.7 45.0,32.0 C46.3,34.3 48.7,37.3 50.0,40.0 C51.3,42.7 52.5,46.7 53.0,48.0" stroke="#4e7058" stroke-width="0.75" fill="none"/>
<path d="M16.5,18.2 C17.5,18.1 20.8,16.8 22.6,17.6 C24.4,18.4 26.1,21.2 27.5,23.1 C28.9,25.0 30.9,27.4 31.1,29.2 C31.3,31.0 29.9,34.0 28.7,34.0 C27.5,34.0 25.4,31.0 23.8,29.2 C22.2,27.4 20.6,23.6 19.0,23.1 C17.4,22.6 15.6,25.0 14.0,26.0 C12.4,27.0 10.6,28.3 9.2,29.2 C7.8,30.1 6.0,30.6 5.6,31.6 C5.2,32.6 5.8,34.5 6.8,35.3 C7.8,36.1 10.5,37.3 11.7,36.5 C12.9,35.7 13.7,31.4 14.1,30.4" stroke="#4e7058" stroke-width="0.75" fill="none"/>
<path d="M53.5,12.2 C54.7,11.2 59.0,6.9 60.8,6.1 C62.6,5.3 63.6,6.3 64.4,7.3 C65.2,8.3 65.7,10.4 65.7,12.2 C65.7,14.0 64.2,16.4 64.4,18.2 C64.6,20.0 65.7,22.1 66.9,23.1 C68.1,24.1 70.1,24.3 71.7,24.3 C73.3,24.3 75.4,24.1 76.6,23.1 C77.8,22.1 78.4,20.0 79.0,18.2 C79.6,16.4 80.7,13.9 80.3,12.2 C79.9,10.5 78.0,8.5 76.6,7.9 C75.2,7.3 73.7,8.4 71.7,8.5 C69.7,8.6 65.6,8.5 64.4,8.5" stroke="#4e7058" stroke-width="0.75" fill="none"/>
<path d="M81.5,13.4 C82.1,13.8 83.7,15.2 85.1,15.8 C86.5,16.4 88.6,16.6 90.0,17.0 C91.4,17.4 92.4,17.4 93.6,18.2 C94.8,19.0 96.9,20.5 97.3,21.9 C97.7,23.3 96.9,25.6 96.1,26.8 C95.3,28.0 93.8,28.4 92.4,29.2 C91.0,30.0 89.3,30.8 87.6,31.6 C85.9,32.4 83.6,33.4 82.0,34.0 C80.4,34.6 78.5,35.1 77.8,35.3" stroke="#4e7058" stroke-width="0.75" fill="none"/>
<path d="M93.6,29.2 C94.8,28.8 99.6,26.8 101.0,26.8 C102.4,26.8 102.8,28.2 102.2,29.2 C101.6,30.2 99.0,31.7 97.3,32.8 C95.6,33.9 94.0,34.8 92.0,36.0 C90.0,37.2 86.2,39.3 85.1,40.0" stroke="#4e7058" stroke-width="0.75" fill="none"/>
<path d="M53.5,18.2 C54.5,19.2 58.4,22.3 59.6,24.3 C60.8,26.3 60.6,29.4 60.8,30.4" stroke="#4e7058" stroke-width="0.75" fill="none"/>
<path d="M68.1,24.3 C68.3,25.5 69.1,30.4 69.3,31.6" stroke="#4e7058" stroke-width="0.75" fill="none"/>
<path d="M90.0,34.0 C91.0,34.6 94.1,37.3 96.1,37.7 C98.1,38.1 101.2,36.7 102.2,36.5" stroke="#4e7058" stroke-width="0.75" fill="none"/>
<path d="M3.2,47.2 C4.4,47.4 8.4,48.6 10.4,48.4 C12.4,48.2 13.7,47.1 15.3,46.0 C16.9,44.9 19.2,42.7 20.0,42.0" stroke="#4e7058" stroke-width="0.75" fill="none"/>
<path d="M5.6,56.9 C6.6,56.5 9.3,55.3 11.7,54.5 C14.1,53.7 18.0,51.6 20.2,52.0 C22.4,52.4 24.5,55.1 25.1,56.9 C25.7,58.7 24.0,62.0 23.8,63.0" stroke="#4e7058" stroke-width="0.75" fill="none"/>
<path d="M6.8,63.0 C7.6,62.6 9.9,60.7 11.7,60.5 C13.5,60.3 17.1,60.6 17.7,61.8 C18.3,63.0 15.7,66.8 15.3,67.8" stroke="#4e7058" stroke-width="0.75" fill="none"/>
<path d="M28.7,59.3 C29.5,58.5 31.8,55.1 33.6,54.5 C35.4,53.9 39.6,54.3 39.6,55.7 C39.6,57.1 35.8,60.6 33.6,63.0 C31.4,65.4 27.5,69.1 26.3,70.3" stroke="#4e7058" stroke-width="0.75" fill="none"/>
<path d="M40.9,66.6 C42.1,65.4 46.1,60.9 48.2,59.3 C50.3,57.7 51.5,57.1 53.5,56.9 C55.5,56.7 58.9,57.8 60.0,58.0" stroke="#4e7058" stroke-width="0.75" fill="none"/>
<path d="M45.7,70.3 C46.5,69.5 48.9,66.8 50.6,65.4 C52.3,64.0 55.1,62.6 56.0,62.0" stroke="#4e7058" stroke-width="0.75" fill="none"/>
<path d="M36.0,20.0 C36.7,21.3 40.0,25.3 40.0,28.0 C40.0,30.7 37.7,34.0 36.0,36.0 C34.3,38.0 31.0,39.3 30.0,40.0" stroke="#4e7058" stroke-width="0.75" fill="none"/>
<path d="M48.0,14.0 C48.7,15.3 50.7,19.3 52.0,22.0 C53.3,24.7 55.7,27.0 56.0,30.0 C56.3,33.0 54.0,37.0 54.0,40.0 C54.0,43.0 55.7,46.7 56.0,48.0" stroke="#4e7058" stroke-width="0.75" fill="none"/>
<path d="M58.0,36.0 C58.7,37.0 60.9,40.3 62.0,42.0 C63.1,43.7 64.0,45.3 64.4,46.0" stroke="#4e7058" stroke-width="0.75" fill="none"/>
<path d="M20.0,44.0 C19.0,45.3 16.0,50.0 14.0,52.0 C12.0,54.0 9.0,55.3 8.0,56.0" stroke="#4e7058" stroke-width="0.75" fill="none"/>
<path d="M74.0,28.0 C75.0,27.3 78.0,25.0 80.0,24.0 C82.0,23.0 84.7,21.7 86.0,22.0 C87.3,22.3 88.3,24.7 88.0,26.0 C87.7,27.3 84.7,29.3 84.0,30.0" stroke="#4e7058" stroke-width="0.75" fill="none"/>
<path d="M60.0,66.0 C59.0,66.7 56.0,68.7 54.0,70.0 C52.0,71.3 49.0,73.3 48.0,74.0" stroke="#4e7058" stroke-width="0.75" fill="none"/>
<path d="M72.0,66.0 C72.7,67.0 75.7,70.0 76.0,72.0 C76.3,74.0 74.3,77.0 74.0,78.0" stroke="#4e7058" stroke-width="0.75" fill="none"/>
<path d="M56.0,60.0 C55.3,61.0 54.0,65.3 52.0,66.0 C50.0,66.7 46.0,63.3 44.0,64.0 C42.0,64.7 40.7,69.0 40.0,70.0" stroke="#4e7058" stroke-width="0.75" fill="none"/>
<path d="M61.4,61.9 C60.5,60.6 58.3,55.7 55.7,53.8 C53.1,52.0 48.6,51.4 45.8,50.8 C43.0,50.2 40.7,51.3 39.0,50.5 C37.3,49.6 37.5,46.5 35.8,45.6 C34.2,44.8 30.9,45.9 28.9,45.4 C26.8,44.8 24.6,44.1 23.3,42.5 C22.1,40.9 22.3,36.9 21.2,35.8 C20.1,34.8 18.8,36.9 16.8,36.2 C14.8,35.5 10.8,32.7 9.2,31.7 C7.6,30.7 7.4,30.3 7.1,30.0" stroke="#3e5230" stroke-width="1.58" fill="none"/>
<path d="M61.4,61.9 C60.5,60.6 58.3,55.7 55.7,53.8 C53.1,52.0 48.6,51.4 45.8,50.8 C43.0,50.2 40.7,51.3 39.0,50.5 C37.3,49.6 37.5,46.5 35.8,45.6 C34.2,44.8 30.9,45.9 28.9,45.4 C26.8,44.8 24.6,44.1 23.3,42.5 C22.1,40.9 22.3,36.9 21.2,35.8 C20.1,34.8 18.8,36.9 16.8,36.2 C14.8,35.5 10.8,32.7 9.2,31.7 C7.6,30.7 7.4,30.3 7.1,30.0" stroke="#56684c" stroke-width="1.24" fill="none"/>
<path d="M55.6,59.3 C54.3,58.4 50.4,54.8 47.4,54.2 C44.5,53.7 40.6,56.1 37.8,56.0 C35.0,55.9 33.2,54.2 30.7,53.4 C28.2,52.7 25.6,51.2 22.7,51.5 C19.8,51.8 15.5,55.0 13.4,55.3 C11.3,55.6 11.2,53.4 10.1,53.5 C9.0,53.6 7.3,55.3 6.8,55.7" stroke="#3e5230" stroke-width="1.10" fill="none"/>
<path d="M55.6,59.3 C54.3,58.4 50.4,54.8 47.4,54.2 C44.5,53.7 40.6,56.1 37.8,56.0 C35.0,55.9 33.2,54.2 30.7,53.4 C28.2,52.7 25.6,51.2 22.7,51.5 C19.8,51.8 15.5,55.0 13.4,55.3 C11.3,55.6 11.2,53.4 10.1,53.5 C9.0,53.6 7.3,55.3 6.8,55.7" stroke="#56684c" stroke-width="0.76" fill="none"/>
<path d="M68.5,53.9 C68.4,52.9 67.6,49.7 67.8,48.3 C67.9,46.9 68.7,47.2 69.7,45.4 C70.6,43.6 72.9,39.2 73.3,37.4 C73.7,35.7 72.4,36.4 72.1,35.0 C71.8,33.6 71.4,31.5 71.4,29.1 C71.5,26.6 72.2,21.7 72.3,20.2" stroke="#3e5230" stroke-width="1.05" fill="none"/>
<path d="M68.5,53.9 C68.4,52.9 67.6,49.7 67.8,48.3 C67.9,46.9 68.7,47.2 69.7,45.4 C70.6,43.6 72.9,39.2 73.3,37.4 C73.7,35.7 72.4,36.4 72.1,35.0 C71.8,33.6 71.4,31.5 71.4,29.1 C71.5,26.6 72.2,21.7 72.3,20.2" stroke="#56684c" stroke-width="0.71" fill="none"/>
<path d="M72.7,52.8 C73.6,52.8 75.7,53.5 78.2,53.0 C80.8,52.5 85.3,51.3 87.8,49.7 C90.3,48.1 91.8,44.7 93.2,43.4 C94.6,42.1 95.0,43.1 96.2,41.8 C97.5,40.4 99.4,37.0 100.9,35.4 C102.3,33.7 104.3,32.5 105.0,32.0" stroke="#3e5230" stroke-width="1.15" fill="none"/>
<path d="M72.7,52.8 C73.6,52.8 75.7,53.5 78.2,53.0 C80.8,52.5 85.3,51.3 87.8,49.7 C90.3,48.1 91.8,44.7 93.2,43.4 C94.6,42.1 95.0,43.1 96.2,41.8 C97.5,40.4 99.4,37.0 100.9,35.4 C102.3,33.7 104.3,32.5 105.0,32.0" stroke="#56684c" stroke-width="0.81" fill="none"/>
<path d="M74.6,58.9 C75.9,59.3 79.4,61.6 82.3,61.3 C85.3,61.0 90.2,57.9 92.4,57.1 C94.6,56.2 94.2,56.5 95.5,56.3 C96.8,56.2 99.3,56.1 100.0,56.1" stroke="#3e5230" stroke-width="1.01" fill="none"/>
<path d="M74.6,58.9 C75.9,59.3 79.4,61.6 82.3,61.3 C85.3,61.0 90.2,57.9 92.4,57.1 C94.6,56.2 94.2,56.5 95.5,56.3 C96.8,56.2 99.3,56.1 100.0,56.1" stroke="#56684c" stroke-width="0.67" fill="none"/>
<path d="M51.8,27.3 C53.5,28.0 59.3,30.9 61.8,31.3 C64.4,31.7 65.9,29.3 67.1,29.7 C68.2,30.1 67.0,32.7 68.8,33.6 C70.6,34.5 74.9,34.3 77.9,35.2 C80.9,36.0 85.0,36.9 86.8,38.7 C88.6,40.6 88.5,45.2 88.9,46.5" stroke="#3e5230" stroke-width="0.96" fill="none"/>
<path d="M51.8,27.3 C53.5,28.0 59.3,30.9 61.8,31.3 C64.4,31.7 65.9,29.3 67.1,29.7 C68.2,30.1 67.0,32.7 68.8,33.6 C70.6,34.5 74.9,34.3 77.9,35.2 C80.9,36.0 85.0,36.9 86.8,38.7 C88.6,40.6 88.5,45.2 88.9,46.5" stroke="#56684c" stroke-width="0.62" fill="none"/>
<path d="M33.6,49.1 C34.6,47.5 38.8,42.2 39.8,39.2 C40.8,36.3 40.0,33.4 39.3,31.3 C38.6,29.2 36.3,29.2 35.6,26.7 C35.0,24.2 35.6,18.1 35.5,16.4" stroke="#3e5230" stroke-width="0.86" fill="none"/>
<path d="M33.6,49.1 C34.6,47.5 38.8,42.2 39.8,39.2 C40.8,36.3 40.0,33.4 39.3,31.3 C38.6,29.2 36.3,29.2 35.6,26.7 C35.0,24.2 35.6,18.1 35.5,16.4" stroke="#56684c" stroke-width="0.52" fill="none"/>
<path d="M26.8,96.5 C27.4,97.4 28.6,100.6 30.1,102.1 C31.6,103.6 34.2,105.8 35.9,105.6 C37.6,105.4 38.7,101.3 40.2,101.0 C41.7,100.7 43.3,102.4 45.0,103.8 C46.7,105.2 48.7,107.2 50.5,109.3 C52.3,111.3 55.1,115.0 56.0,116.1" stroke="#4a7a45" stroke-width="0.88" fill="none"/>
<path d="M62.7,97.1 C61.3,98.7 55.9,104.2 54.1,106.7 C52.4,109.2 51.2,111.1 52.2,112.4 C53.2,113.7 58.5,114.0 59.8,114.3" stroke="#8a8a3a" stroke-width="1.22" fill="none"/>
<path d="M59.4,120.0 C60.1,118.8 63.1,115.2 63.8,112.5 C64.5,109.8 64.5,106.4 63.8,103.6 C63.1,100.8 60.7,98.3 59.4,95.9 C58.1,93.5 56.2,91.4 56.0,89.2 C55.8,87.0 57.0,84.6 58.3,82.6 C59.6,80.6 62.5,79.0 63.8,77.0 C65.1,75.0 64.5,72.1 66.0,70.4 C67.5,68.7 72.7,67.9 72.7,67.0 C72.7,66.1 67.1,65.2 66.0,64.8" stroke="#4a4a24" stroke-width="3.0" fill="none"/>
<path d="M59.4,120.0 C60.1,118.8 63.1,115.2 63.8,112.5 C64.5,109.8 64.5,106.4 63.8,103.6 C63.1,100.8 60.7,98.3 59.4,95.9 C58.1,93.5 56.2,91.4 56.0,89.2 C55.8,87.0 57.0,84.6 58.3,82.6 C59.6,80.6 62.5,79.0 63.8,77.0 C65.1,75.0 64.5,72.1 66.0,70.4 C67.5,68.7 72.7,67.9 72.7,67.0 C72.7,66.1 67.1,65.2 66.0,64.8" stroke="#9c9850" stroke-width="2.2" fill="none"/>
<path d="M59.9,119.8 C60.6,118.5 63.6,115.0 64.3,112.3 C65.0,109.6 65.0,106.2 64.3,103.4 C63.6,100.6 61.2,98.1 59.9,95.7 C58.6,93.3 56.7,91.2 56.5,89.0 C56.3,86.8 57.5,84.4 58.8,82.4 C60.1,80.4 63.0,78.8 64.3,76.8 C65.6,74.8 65.0,71.9 66.5,70.2 C68.0,68.5 73.2,67.7 73.2,66.8 C73.2,65.9 67.6,65.0 66.5,64.6" stroke="#c0ba70" stroke-width="0.7" fill="none" opacity="0.6"/>
<circle cx="64.4" cy="42.9" r="1.5" fill="#9a9a40"/>
<path d="M59.6,57 L64.8,55.3 L64.8,58.7 Z" fill="#5aa8f0"/>
<circle cx="67.4" cy="56.2" r="1.9" fill="#c8c050"/>
<path d="M25.7,50.2 L29.3,46 L29.3,50.8 Z" fill="#e81818"/>
<path d="M68.1,39.3 L71.7,35 L71.7,39.3 Z" fill="#e81818"/></g>
<path id="tn00" d="M100.8,38.3 C100.8,38.7 101.0,39.7 100.8,40.7 C100.5,41.6 100.0,42.9 99.5,43.9 C98.9,44.8 98.3,46.0 97.4,46.3 C96.5,46.7 94.7,46.3 94.2,45.8 C93.6,45.4 93.6,44.3 93.8,43.7 C94.0,43.2 95.2,42.8 95.5,42.6 M96.9,30.6 C97.3,30.3 99.2,29.0 99.1,28.7 C99.1,28.3 97.5,28.8 96.8,28.6 C96.1,28.4 95.5,28.0 94.8,27.6 C94.2,27.2 93.4,26.8 93.1,26.0 C92.7,25.3 92.7,23.5 92.7,23.1 M46.5,12.1 C46.3,12.5 45.7,14.0 45.3,14.9 C45.0,15.8 44.2,16.6 44.3,17.5 C44.3,18.3 44.8,19.2 45.5,20.0 C46.1,20.7 47.2,21.7 48.2,22.0 C49.2,22.3 50.4,21.6 51.5,21.6 C52.5,21.7 54.0,22.1 54.5,22.2 M28.9,24.7 C29.2,24.2 30.0,22.4 30.6,21.8 C31.2,21.3 31.9,21.4 32.7,21.6 C33.4,21.8 34.6,22.3 35.0,22.9 C35.3,23.5 35.3,24.8 34.9,25.4 C34.5,26.1 33.4,26.6 32.5,26.9 C31.5,27.2 30.3,27.3 29.2,27.3 C28.1,27.2 26.8,27.0 26.0,26.8 C25.2,26.6 24.9,26.4 24.2,25.8 C23.6,25.3 22.6,23.8 22.3,23.4 M24.2,51.2 C24.2,51.5 23.8,52.6 24.1,53.2 C24.4,53.9 25.4,54.9 26.1,54.9 C26.8,55.0 27.8,54.2 28.3,53.5 C28.8,52.8 29.2,51.4 29.1,50.6 C29.0,49.8 28.5,48.9 27.8,48.6 C27.0,48.3 25.6,48.5 24.7,48.6 C23.7,48.7 22.6,48.5 21.9,49.0 C21.2,49.6 20.7,51.1 20.6,51.9 C20.5,52.8 21.3,53.7 21.4,54.1 M87.9,36.9 C87.6,36.4 86.3,34.7 86.1,33.9 C85.9,33.0 86.4,32.4 87.0,31.8 C87.5,31.1 88.6,30.5 89.3,30.0 C90.0,29.6 90.4,28.9 91.2,29.1 C92.0,29.2 93.7,30.1 94.2,30.8 C94.7,31.4 94.5,32.2 94.1,32.9 C93.8,33.7 92.4,34.9 92.0,35.3 M5.1,43.4 C4.8,43.6 3.2,44.8 3.3,44.6 C3.3,44.5 4.7,43.3 5.3,42.6 C5.9,41.9 7.0,41.4 7.1,40.6 C7.2,39.9 5.8,38.3 6.1,38.2 C6.4,38.2 7.9,39.8 8.6,40.5 C9.4,41.2 9.9,42.1 10.6,42.4 C11.3,42.8 12.0,42.7 12.7,42.7 C13.4,42.6 14.5,42.5 15.0,42.1 C15.4,41.6 15.5,40.5 15.6,40.1 M61.9,19.4 C62.0,19.7 62.7,20.8 62.9,21.7 C63.0,22.5 63.1,24.0 62.8,24.6 C62.4,25.2 61.5,25.3 60.7,25.2 C59.9,25.1 58.6,24.6 57.7,24.1 C56.8,23.7 55.7,22.7 55.3,22.4 M77.3,13.2 C77.6,13.4 78.6,14.0 79.3,14.3 C80.1,14.5 81.0,14.5 81.7,14.5 C82.5,14.5 84.1,14.5 83.9,14.5 C83.7,14.5 81.5,14.7 80.5,14.8 C79.5,14.8 79.0,14.6 78.1,14.8 C77.2,14.9 76.1,15.4 75.3,15.8 C74.5,16.2 73.5,17.0 73.2,17.3 M86.4,54.0 C86.0,53.9 84.6,53.5 83.8,53.3 C83.0,53.2 82.5,53.2 81.7,53.0 C81.0,52.8 80.0,52.7 79.2,52.3 C78.4,51.8 77.4,50.9 77.1,50.2 C76.8,49.5 77.3,48.8 77.5,48.0 C77.7,47.2 77.9,46.3 78.3,45.5 C78.8,44.6 79.5,43.4 80.3,43.0 C81.1,42.6 82.3,42.8 83.1,43.1 C84.0,43.5 85.0,44.9 85.4,45.3" fill="none"/>
<path id="tn01" d="M71.7,34.2 C71.2,34.4 69.8,35.0 68.8,35.2 C67.9,35.5 67.0,35.8 66.0,35.7 C65.0,35.6 63.6,35.1 62.9,34.5 C62.2,34.0 61.8,33.0 61.8,32.4 C61.8,31.7 62.4,31.1 63.0,30.6 C63.7,30.0 65.2,29.1 65.6,28.8 M103.4,32.7 C103.0,32.9 101.8,33.9 101.1,34.3 C100.4,34.6 99.9,34.7 99.1,34.7 C98.3,34.8 97.0,34.8 96.2,34.6 C95.4,34.4 94.7,34.3 94.3,33.6 C94.0,32.9 94.0,31.2 94.3,30.4 C94.6,29.7 95.5,29.6 96.1,29.3 C96.7,28.9 97.7,28.6 98.0,28.5 M68.6,9.7 C68.5,10.2 68.1,12.1 68.0,13.0 C67.8,13.9 67.8,14.2 67.6,15.0 C67.3,15.7 67.1,16.8 66.7,17.5 C66.2,18.1 65.7,18.7 64.8,18.9 C64.0,19.1 62.6,18.9 61.7,18.8 C60.9,18.6 60.0,18.0 59.6,17.9 M80.4,18.8 C79.9,18.8 78.3,19.2 77.4,18.8 C76.5,18.4 75.5,17.4 75.1,16.4 C74.7,15.5 74.8,14.1 74.7,13.1 C74.7,12.0 75.2,10.5 74.9,10.2 C74.6,9.8 73.7,10.6 72.9,10.9 C72.1,11.1 71.0,11.6 70.1,11.5 C69.1,11.5 67.7,10.7 67.2,10.5 M84.1,54.7 C84.2,54.3 84.7,53.1 84.8,52.2 C85.0,51.2 85.1,50.1 84.9,49.3 C84.7,48.4 84.2,47.4 83.5,47.1 C82.8,46.7 81.7,46.9 80.9,47.1 C80.0,47.3 79.0,47.7 78.4,48.2 C77.8,48.7 77.3,49.4 77.2,50.1 C77.0,50.8 77.4,51.9 77.4,52.2 M66.1,19.8 C65.6,19.9 64.2,20.5 63.2,20.4 C62.3,20.3 61.0,19.8 60.3,19.2 C59.7,18.5 59.6,17.4 59.2,16.4 C58.8,15.4 58.2,14.4 57.8,13.5 C57.4,12.5 57.1,11.7 56.9,10.7 C56.7,9.8 56.7,8.2 56.7,7.7 M92.2,36.4 C92.5,36.8 93.5,38.5 94.4,39.0 C95.2,39.4 96.4,39.3 97.3,39.1 C98.2,38.9 99.2,38.5 99.8,37.9 C100.3,37.4 100.5,36.6 100.7,35.7 C100.9,34.8 101.2,33.2 101.0,32.3 C100.7,31.4 99.5,30.6 99.2,30.3 M79.9,19.2 C80.0,18.8 80.4,17.4 80.1,16.9 C79.8,16.3 79.1,16.2 78.3,16.0 C77.4,15.8 76.1,15.4 75.1,15.6 C74.0,15.8 72.8,16.5 72.2,17.0 C71.5,17.6 70.9,18.5 70.9,19.1 C71.0,19.8 71.7,20.4 72.3,20.8 C72.9,21.2 73.7,21.8 74.4,21.8 C75.1,21.7 76.3,20.7 76.7,20.5 M22.7,16.0 C22.8,16.3 23.5,17.5 23.3,18.1 C23.0,18.7 22.1,19.5 21.3,19.5 C20.6,19.6 18.9,18.2 18.9,18.3 C19.0,18.4 21.1,19.4 21.7,20.0 C22.4,20.7 22.8,21.5 22.7,22.2 C22.5,22.8 21.5,23.3 20.9,23.8 C20.3,24.4 19.6,25.1 19.0,25.3 C18.4,25.4 17.4,24.8 17.1,24.7 M9.1,39.1 C9.0,38.7 8.7,37.8 8.6,37.0 C8.4,36.2 7.9,34.9 8.0,34.1 C8.2,33.3 8.5,32.6 9.3,32.2 C10.0,31.8 11.6,31.6 12.5,31.6 C13.4,31.6 14.2,31.8 14.6,32.3 C14.9,32.7 15.1,33.7 14.8,34.3 C14.6,34.8 13.8,35.2 13.0,35.6 C12.2,35.9 10.8,36.5 10.1,36.4 C9.3,36.2 8.7,35.0 8.5,34.7 M84.6,66.3 C84.9,66.5 86.3,66.6 86.7,67.1 C87.1,67.6 87.2,68.5 87.0,69.2 C86.8,69.9 86.3,70.9 85.5,71.2 C84.8,71.6 83.1,71.7 82.4,71.2 C81.6,70.7 81.3,68.9 81.2,68.0 C81.1,67.1 81.5,66.3 81.6,66.0 M26.6,13.6 C26.3,14.0 24.6,15.2 24.8,15.6 C24.9,15.9 26.6,15.7 27.4,15.7 C28.3,15.8 29.3,15.8 30.1,15.9 C30.8,16.0 31.4,15.9 32.1,16.2 C32.7,16.5 33.7,17.5 34.0,17.7 M45.5,61.4 C45.3,61.0 44.8,59.8 44.7,59.0 C44.7,58.2 44.7,57.3 45.2,56.6 C45.7,55.8 46.9,54.5 47.9,54.4 C48.8,54.3 50.4,55.1 50.9,55.9 C51.4,56.7 50.7,58.6 50.7,59.2 M39.6,30.2 C39.8,30.6 40.4,31.5 40.5,32.5 C40.6,33.4 40.8,34.8 40.4,35.9 C40.1,36.9 39.3,38.2 38.5,38.8 C37.8,39.4 36.6,39.7 35.9,39.5 C35.1,39.4 34.3,38.4 34.0,38.1 M21.4,47.6 C21.4,47.3 21.3,46.4 21.2,45.6 C21.1,44.7 20.6,43.5 20.8,42.5 C21.1,41.5 22.0,40.3 22.5,39.6 C23.1,38.9 23.8,38.8 24.3,38.4 C24.9,38.1 25.8,37.5 26.1,37.3 M42.1,36.8 C41.9,37.1 41.2,38.1 40.6,38.5 C40.1,38.9 39.5,38.9 38.6,39.1 C37.7,39.3 36.4,39.6 35.4,39.9 C34.5,40.2 33.9,40.9 33.0,40.9 C32.0,40.8 30.4,40.0 29.9,39.8 M88.3,36.7 C87.8,36.9 86.3,37.5 85.7,38.2 C85.0,38.8 84.5,39.6 84.5,40.4 C84.5,41.3 85.2,42.5 85.7,43.2 C86.2,43.9 86.9,44.2 87.6,44.6 C88.3,44.9 89.3,45.3 90.0,45.3 C90.8,45.3 91.8,44.7 92.2,44.6 M91.4,44.6 C91.2,44.3 90.6,43.4 90.0,42.7 C89.4,42.1 88.7,40.7 87.8,40.5 C87.0,40.3 85.7,40.9 85.0,41.5 C84.3,42.2 83.9,43.5 83.6,44.3 C83.3,45.2 83.1,46.3 83.1,46.7 M83.1,21.7 C83.2,21.3 83.8,20.1 83.6,19.3 C83.4,18.4 82.6,17.0 81.8,16.5 C80.9,16.1 79.4,16.3 78.5,16.5 C77.5,16.6 76.9,16.8 76.1,17.3 C75.4,17.8 74.6,18.6 73.9,19.4 C73.2,20.1 72.3,20.9 72.0,21.9 C71.7,22.9 72.0,24.7 72.0,25.3" fill="none"/>
<path id="tn02" d="M35.7,16.0 C35.4,15.9 34.3,15.6 33.6,15.8 C33.0,16.0 32.3,16.5 32.0,17.0 C31.6,17.5 31.3,18.5 31.6,19.1 C32.0,19.6 33.2,20.1 33.9,20.4 C34.7,20.7 35.7,20.8 36.1,20.8 M66.4,68.5 C65.8,68.4 64.1,68.0 63.2,67.7 C62.3,67.4 61.9,67.2 61.1,67.0 C60.4,66.7 59.3,66.8 58.7,66.5 C58.1,66.1 57.6,65.4 57.3,64.7 C56.9,63.9 56.7,62.7 56.6,61.8 C56.4,60.8 56.4,59.4 56.4,59.0 M63.8,37.3 C63.9,37.7 64.1,38.8 64.0,39.8 C63.9,40.7 63.7,42.2 63.1,42.7 C62.5,43.3 61.2,43.5 60.4,43.3 C59.7,43.0 59.0,42.1 58.6,41.2 C58.1,40.3 57.6,38.9 57.6,37.9 C57.6,36.9 57.9,35.5 58.6,35.0 C59.3,34.6 60.8,34.9 61.7,35.2 C62.7,35.6 63.7,36.7 64.2,37.0 M69.9,59.8 C69.4,60.0 67.8,60.7 66.9,61.2 C66.1,61.8 65.3,62.5 64.7,63.1 C64.1,63.7 63.4,64.1 63.3,64.8 C63.3,65.6 63.8,67.1 64.3,67.6 C64.8,68.1 65.5,68.0 66.3,68.0 C67.1,68.0 68.3,68.0 69.1,67.6 C70.0,67.2 70.8,66.1 71.5,65.5 C72.1,64.9 72.7,64.6 72.9,64.0 C73.0,63.4 72.5,62.3 72.5,62.0 M16.1,40.8 C16.4,40.8 17.7,41.4 18.3,41.2 C19.0,40.9 19.6,40.0 20.0,39.4 C20.3,38.7 20.7,37.7 20.6,37.0 C20.5,36.3 20.0,35.4 19.5,35.0 C18.9,34.7 18.0,34.6 17.4,34.9 C16.9,35.1 16.6,35.8 16.4,36.6 C16.1,37.3 16.2,38.9 16.2,39.4 M73.0,47.0 C72.9,47.3 72.8,48.3 72.6,49.1 C72.5,49.9 72.5,51.1 72.2,51.8 C71.9,52.6 71.3,53.0 70.6,53.6 C69.8,54.2 68.8,55.1 67.9,55.2 C67.0,55.3 66.0,54.5 65.2,54.2 C64.5,53.9 64.0,53.7 63.4,53.2 C62.8,52.8 61.9,51.8 61.6,51.5 M92.4,58.1 C92.4,58.4 92.0,59.6 92.6,60.1 C93.2,60.7 94.9,61.3 95.7,61.4 C96.6,61.5 97.4,61.1 97.8,60.6 C98.2,60.1 98.0,59.4 97.9,58.6 C97.8,57.7 97.5,56.6 97.0,55.7 C96.6,54.9 95.5,53.7 95.2,53.3 M73.8,44.8 C73.4,44.4 72.3,43.2 71.5,42.8 C70.7,42.4 69.8,42.0 68.9,42.1 C68.1,42.3 66.9,43.1 66.5,43.8 C66.2,44.5 66.6,45.5 66.9,46.4 C67.2,47.3 67.7,48.5 68.3,49.2 C68.8,49.9 69.4,50.4 70.2,50.6 C70.9,50.8 72.0,50.7 72.8,50.4 C73.6,50.1 74.4,49.7 75.0,49.0 C75.7,48.3 76.6,46.6 76.9,46.1 M9.0,30.3 C9.5,30.6 11.0,31.3 11.7,32.0 C12.4,32.7 13.2,33.6 13.4,34.4 C13.7,35.3 13.5,36.1 13.3,37.0 C13.0,38.0 12.6,39.4 11.8,39.9 C11.0,40.4 9.5,40.2 8.6,40.0 C7.8,39.8 6.9,38.9 6.6,38.7 M45.7,44.7 C45.9,44.2 46.6,42.5 46.8,41.6 C47.0,40.7 46.8,40.1 46.8,39.2 C46.7,38.3 46.8,37.1 46.6,36.0 C46.5,34.9 46.2,33.5 45.8,32.7 C45.4,32.0 44.9,31.8 44.1,31.4 C43.3,31.0 41.6,30.6 41.1,30.4 M52.9,39.0 C53.1,39.3 53.6,40.3 53.9,41.1 C54.1,42.0 54.6,42.9 54.6,44.0 C54.6,45.0 54.3,46.7 53.7,47.4 C53.2,48.1 52.0,48.0 51.2,48.2 C50.3,48.3 49.0,48.3 48.6,48.3 M22.1,50.8 C21.8,51.2 20.6,52.2 20.2,53.0 C19.8,53.8 19.6,54.8 19.5,55.7 C19.4,56.6 19.4,57.6 19.7,58.3 C20.0,58.9 20.8,59.1 21.4,59.7 C22.1,60.3 22.6,61.4 23.5,61.7 C24.4,62.0 25.9,61.7 26.8,61.4 C27.6,61.2 27.9,60.6 28.3,60.0 C28.8,59.4 29.2,58.7 29.5,57.9 C29.7,57.1 29.7,55.6 29.8,55.1 M58.0,69.9 C58.1,69.4 58.2,67.7 58.5,67.0 C58.8,66.3 59.2,66.1 59.9,65.5 C60.5,64.9 61.4,63.6 62.2,63.5 C63.0,63.4 63.9,64.4 64.5,64.9 C65.2,65.4 66.0,65.9 66.1,66.5 C66.2,67.0 65.4,68.1 65.3,68.4 M14.6,54.1 C14.1,54.0 12.4,53.8 11.5,53.7 C10.6,53.5 10.0,53.5 9.2,53.2 C8.4,52.8 7.4,52.3 6.8,51.7 C6.3,51.0 6.0,50.2 6.1,49.3 C6.2,48.3 6.7,47.0 7.2,46.2 C7.8,45.5 8.4,45.0 9.2,44.6 C10.0,44.2 11.5,44.0 12.0,43.9" fill="none"/>
<path id="tn10" d="M100.8,35.7 C101.1,35.8 102.8,36.4 102.7,36.5 C102.7,36.7 101.0,36.2 100.3,36.6 C99.7,37.0 99.0,38.2 98.7,39.0 C98.4,39.8 98.3,40.9 98.7,41.4 C99.1,42.0 101.2,42.0 101.1,42.3 C101.0,42.7 98.6,43.4 98.0,43.6 M39.7,28.1 C40.1,28.0 41.2,27.9 42.1,27.6 C42.9,27.3 43.8,26.9 44.7,26.5 C45.7,26.1 47.2,25.8 47.8,25.1 C48.4,24.3 48.6,22.8 48.4,21.9 C48.2,21.0 47.2,20.2 46.4,19.6 C45.5,19.0 44.4,18.8 43.4,18.4 C42.4,18.1 40.7,17.6 40.2,17.5 M18.1,46.7 C17.6,46.5 16.1,46.1 15.3,45.8 C14.5,45.5 13.9,45.3 13.5,44.8 C13.1,44.2 12.8,43.2 12.9,42.4 C13.1,41.6 13.8,40.5 14.4,40.0 C15.0,39.4 15.8,39.2 16.6,39.1 C17.4,38.9 18.8,38.9 19.2,38.9 M69.3,22.5 C69.7,22.6 70.9,23.4 71.7,23.1 C72.5,22.8 73.3,21.3 73.8,20.5 C74.2,19.7 74.3,19.2 74.4,18.3 C74.6,17.5 74.7,16.4 74.5,15.4 C74.4,14.5 74.0,13.5 73.5,12.6 C73.0,11.7 72.0,10.4 71.7,10.0 M24.5,33.4 C25.1,33.4 26.8,33.5 27.7,33.0 C28.6,32.6 29.8,31.5 30.1,30.6 C30.4,29.8 30.0,28.7 29.5,28.2 C29.1,27.7 28.2,27.4 27.6,27.5 C26.9,27.6 26.0,28.4 25.6,29.0 C25.2,29.7 25.2,30.5 25.1,31.5 C25.0,32.5 25.0,34.3 25.0,34.8 M43.7,40.1 C44.0,40.1 45.0,40.5 45.8,40.2 C46.6,39.9 48.1,39.2 48.5,38.4 C48.8,37.7 48.5,36.3 48.0,35.6 C47.4,34.9 46.1,34.3 45.4,34.4 C44.8,34.5 44.6,35.3 44.2,36.0 C43.7,36.8 42.7,38.0 42.6,38.9 C42.4,39.8 42.7,41.1 43.3,41.6 C44.0,42.2 45.9,42.3 46.4,42.4 M82.4,52.8 C82.3,52.5 81.8,51.8 81.4,51.1 C80.9,50.4 80.0,49.4 79.7,48.5 C79.4,47.6 79.2,46.7 79.3,45.9 C79.4,45.0 79.9,44.1 80.3,43.3 C80.7,42.5 81.2,41.8 81.7,41.1 C82.2,40.4 83.1,39.5 83.4,39.2 M32.4,13.1 C32.7,12.9 33.5,12.0 34.0,11.6 C34.6,11.1 35.2,10.6 35.9,10.5 C36.6,10.4 37.3,10.6 38.1,10.9 C38.9,11.2 40.2,11.7 40.6,12.3 C41.0,12.9 41.0,13.8 40.5,14.3 C40.0,14.9 38.7,15.4 37.7,15.7 C36.7,16.0 35.4,16.4 34.5,16.3 C33.6,16.2 32.9,15.5 32.2,15.0 C31.5,14.4 30.6,13.4 30.3,13.1 M56.9,15.8 C57.3,15.8 58.4,16.2 59.3,16.1 C60.2,16.0 61.7,15.7 62.3,15.1 C62.8,14.5 62.9,13.3 62.9,12.5 C62.9,11.7 62.8,10.8 62.3,10.2 C61.7,9.7 60.6,9.0 59.7,9.1 C58.8,9.1 57.3,9.9 56.7,10.6 C56.2,11.3 56.4,12.5 56.4,13.3 C56.5,14.1 56.8,15.0 56.9,15.3 M80.7,43.4 C80.8,43.1 81.3,42.1 81.3,41.3 C81.3,40.5 81.0,39.1 80.6,38.6 C80.1,38.1 79.3,38.4 78.5,38.3 C77.7,38.2 76.6,37.9 75.8,38.1 C74.9,38.2 74.2,38.8 73.5,39.4 C72.7,39.9 71.9,40.6 71.3,41.4 C70.7,42.2 70.1,43.2 70.1,44.0 C70.1,44.8 71.1,45.7 71.3,46.0 M95.2,54.4 C94.8,54.3 93.8,53.5 93.1,53.5 C92.3,53.5 91.1,53.7 90.6,54.3 C90.2,54.8 90.2,55.9 90.1,56.7 C90.1,57.5 90.3,58.1 90.4,58.9 C90.6,59.8 91.2,61.6 91.1,61.7 C91.0,61.8 90.6,60.2 90.0,59.6 C89.4,59.0 88.1,58.3 87.4,58.1 C86.6,57.9 86.2,58.2 85.4,58.4 C84.6,58.6 82.9,59.1 82.3,59.2 M11.5,53.3 C11.8,53.7 13.1,54.5 13.4,55.2 C13.8,56.0 13.7,57.0 13.7,57.7 C13.7,58.5 13.6,59.0 13.5,59.8 C13.4,60.7 13.4,61.9 12.9,62.7 C12.5,63.5 11.4,64.4 10.7,64.8 C10.0,65.2 9.3,65.3 8.7,65.3 C8.0,65.2 7.4,64.8 6.8,64.4 C6.2,64.0 5.3,63.3 5.1,63.0" fill="none"/>
<path id="tn11" d="M5.3,36.5 C5.5,36.7 6.1,37.8 6.8,38.1 C7.4,38.4 8.6,38.1 9.3,38.0 C10.1,38.0 10.7,38.1 11.4,37.8 C12.2,37.4 12.8,36.6 13.6,35.9 C14.3,35.2 15.2,34.3 15.8,33.6 C16.4,32.8 17.0,32.0 17.2,31.6 M77.7,36.1 C78.1,35.8 79.2,34.7 79.8,34.0 C80.4,33.4 80.7,33.0 81.2,32.5 C81.8,32.0 82.4,31.5 83.0,31.1 C83.6,30.8 84.3,30.7 85.0,30.4 C85.6,30.1 86.2,29.8 87.0,29.4 C87.7,29.1 88.4,28.8 89.3,28.4 C90.1,27.9 91.3,27.0 92.2,26.7 C93.0,26.5 94.0,27.0 94.4,27.0 M88.4,40.2 C88.8,40.3 90.4,40.2 91.1,40.7 C91.8,41.1 92.6,42.2 92.7,43.1 C92.7,44.0 91.8,45.2 91.2,45.9 C90.7,46.7 90.4,47.2 89.6,47.6 C88.8,48.0 87.4,48.2 86.4,48.3 C85.5,48.3 84.4,48.5 83.7,48.0 C83.0,47.4 82.1,45.8 82.1,44.9 C82.0,44.0 82.8,43.3 83.4,42.6 C84.0,41.9 85.3,41.0 85.6,40.7 M18.7,42.2 C19.2,41.9 20.9,41.1 21.6,40.6 C22.4,40.1 23.1,39.8 23.4,39.1 C23.7,38.5 23.9,37.4 23.5,36.7 C23.2,36.0 22.1,35.0 21.4,34.8 C20.6,34.5 19.4,34.5 18.7,35.1 C18.1,35.7 17.6,37.6 17.3,38.1 M70.7,24.6 C70.8,25.0 71.0,26.2 71.1,27.3 C71.2,28.3 71.7,29.8 71.4,30.7 C71.2,31.6 70.2,31.9 69.4,32.7 C68.7,33.4 67.7,34.4 66.9,35.0 C66.2,35.7 65.5,36.0 64.9,36.6 C64.4,37.2 63.7,38.4 63.4,38.7 M71.8,32.8 C71.8,32.3 71.5,31.1 71.5,30.3 C71.5,29.5 71.5,28.7 71.9,27.8 C72.2,26.9 73.0,25.6 73.5,24.8 C73.9,24.0 74.0,23.5 74.6,23.1 C75.2,22.7 76.1,22.8 76.9,22.6 C77.7,22.4 78.7,21.8 79.4,21.9 C80.1,22.0 80.8,23.0 81.1,23.2 M48.4,53.0 C48.6,53.3 49.1,54.2 49.7,54.9 C50.3,55.5 51.3,56.8 52.1,56.9 C52.9,56.9 54.1,55.8 54.5,55.0 C54.8,54.3 54.7,53.1 54.4,52.5 C54.0,51.8 53.0,51.2 52.4,51.3 C51.8,51.4 51.1,52.9 50.8,53.2 M85.7,33.0 C85.2,33.0 83.7,33.2 82.9,33.3 C82.1,33.5 81.7,33.8 80.8,33.9 C80.0,34.1 78.8,34.3 78.0,34.2 C77.2,34.1 76.9,33.6 76.1,33.3 C75.3,33.0 73.7,32.4 73.2,32.2 M70.5,27.4 C70.0,27.4 68.8,27.4 68.0,27.2 C67.2,27.1 66.3,26.8 65.6,26.4 C64.8,25.9 64.1,25.1 63.5,24.5 C63.0,23.9 62.3,23.5 62.4,22.9 C62.4,22.2 63.1,21.2 63.7,20.6 C64.4,19.9 65.3,19.1 66.3,19.1 C67.2,19.1 68.7,20.2 69.2,20.4 M22.1,42.0 C22.6,41.9 24.4,41.3 25.4,41.0 C26.3,40.8 26.8,40.7 27.8,40.6 C28.7,40.4 30.2,40.2 31.1,40.0 C32.0,39.9 32.3,39.9 33.1,39.6 C33.9,39.3 34.8,38.6 35.6,38.3 C36.5,38.1 37.3,38.0 38.2,38.2 C39.0,38.4 40.2,39.3 40.6,39.5 M6.3,47.5 C6.4,47.2 7.1,46.3 7.0,45.6 C7.0,44.9 6.3,43.9 5.9,43.3 C5.5,42.6 4.5,41.9 4.7,41.6 C4.9,41.3 6.5,41.8 7.1,41.5 C7.7,41.2 8.2,40.4 8.6,39.8 C8.9,39.1 9.6,38.4 9.3,37.6 C9.1,36.9 7.1,35.4 7.2,35.2 C7.2,34.9 9.2,35.9 9.7,36.0 M80.9,31.4 C80.6,31.0 79.5,29.8 78.8,29.2 C78.1,28.6 77.8,27.9 76.9,27.8 C76.1,27.6 74.4,27.7 73.7,28.4 C72.9,29.0 72.7,30.4 72.3,31.4 C71.8,32.4 71.1,33.4 71.2,34.4 C71.3,35.3 72.0,36.6 72.6,37.1 C73.3,37.6 74.2,37.3 75.0,37.4 C75.9,37.5 77.2,37.6 77.6,37.6 M63.5,36.4 C63.1,36.1 62.3,34.8 61.4,34.6 C60.5,34.4 58.9,34.9 58.1,35.2 C57.3,35.5 57.0,35.9 56.6,36.7 C56.2,37.5 55.7,39.1 55.8,40.1 C56.0,41.0 56.7,41.7 57.2,42.3 C57.8,43.0 58.4,43.6 59.0,44.0 C59.6,44.4 60.6,44.8 60.9,44.9 M51.9,8.1 C51.9,8.5 51.4,10.0 51.8,10.8 C52.2,11.6 53.2,12.6 54.1,13.1 C55.0,13.7 56.4,13.9 57.3,14.0 C58.2,14.2 58.7,14.3 59.4,14.1 C60.1,13.9 60.6,13.3 61.3,12.8 C62.1,12.4 63.4,12.1 63.9,11.5 C64.3,10.9 64.3,10.0 64.2,9.2 C64.1,8.4 63.0,6.8 63.1,6.8 C63.2,6.7 64.5,8.4 64.8,8.7 M3.6,44.2 C3.8,44.6 4.2,45.6 4.6,46.2 C5.0,46.9 5.3,47.7 6.0,48.1 C6.7,48.5 7.9,48.8 8.7,48.7 C9.6,48.6 10.5,48.0 11.2,47.3 C12.0,46.7 12.8,45.3 13.4,44.7 C14.0,44.0 14.4,44.0 14.9,43.3 C15.4,42.6 15.9,41.5 16.4,40.5 C17.0,39.6 17.6,38.7 18.0,37.8 C18.4,36.9 18.6,35.4 18.8,34.9" fill="none"/>
<path id="tn12" d="M79.3,60.1 C79.8,60.1 81.5,60.0 82.2,60.3 C82.9,60.6 83.1,61.2 83.7,61.8 C84.3,62.4 85.3,63.3 85.8,63.9 C86.3,64.6 86.8,65.2 86.6,65.9 C86.4,66.6 85.5,67.8 84.8,68.3 C84.2,68.7 83.3,68.6 82.7,68.4 C82.1,68.1 81.5,67.5 81.4,66.8 C81.2,66.1 81.6,65.0 82.0,64.2 C82.3,63.3 83.2,62.2 83.5,61.8 M51.0,67.7 C50.9,68.1 50.3,70.2 50.6,70.3 C50.9,70.3 52.0,68.3 52.7,68.1 C53.5,67.9 54.7,69.4 55.0,69.0 C55.3,68.7 54.4,66.9 54.6,66.0 C54.8,65.2 55.6,64.4 56.2,63.9 C56.7,63.4 57.4,63.2 58.0,63.0 C58.7,62.7 59.4,62.2 60.0,62.4 C60.7,62.5 61.4,63.3 62.0,63.8 C62.5,64.3 63.1,65.1 63.4,65.3 M60.5,8.5 C60.8,8.9 61.7,10.5 62.4,10.9 C63.1,11.2 63.8,10.9 64.5,10.5 C65.2,10.1 66.2,8.5 66.6,8.5 C66.9,8.6 66.3,10.2 66.4,10.8 C66.5,11.5 66.7,12.2 67.2,12.7 C67.8,13.1 68.9,13.2 69.8,13.4 C70.7,13.7 71.8,14.0 72.7,14.1 C73.7,14.3 74.7,14.6 75.4,14.3 C76.1,14.1 76.7,12.8 77.0,12.5 M70.4,33.6 C70.6,34.1 71.3,36.0 71.5,36.9 C71.7,37.9 71.7,38.6 71.4,39.2 C71.1,39.9 70.4,40.1 69.7,40.8 C69.1,41.5 68.3,42.6 67.5,43.3 C66.6,43.9 65.0,44.4 64.5,44.6 M21.4,16.6 C21.7,16.9 23.0,17.6 23.2,18.2 C23.5,18.8 23.5,19.8 22.8,20.2 C22.2,20.7 20.4,21.0 19.4,20.9 C18.5,20.8 17.3,19.2 17.0,19.6 C16.6,19.9 17.4,21.9 17.3,22.9 C17.2,23.9 16.5,25.1 16.4,25.5 M83.6,23.5 C83.9,23.3 84.9,22.6 85.4,22.2 C86.0,21.7 86.4,21.3 86.9,20.7 C87.4,20.1 88.3,18.6 88.4,18.8 C88.4,19.1 87.3,21.0 87.1,22.1 C86.9,23.1 87.2,24.6 87.2,25.1 M16.6,67.8 C16.4,67.3 15.8,65.6 15.3,64.8 C14.9,63.9 14.5,63.0 13.9,62.6 C13.3,62.2 12.7,62.2 11.9,62.2 C11.1,62.3 9.9,62.3 9.1,62.7 C8.3,63.2 7.5,64.7 7.2,65.0 M84.8,47.9 C84.5,48.3 83.7,49.5 83.4,50.5 C83.0,51.4 82.7,52.8 82.8,53.6 C83.0,54.5 83.6,55.2 84.2,55.7 C84.7,56.2 85.5,56.3 86.2,56.4 C87.0,56.6 87.9,56.6 88.7,56.5 C89.6,56.4 90.7,56.0 91.1,55.9 M32.6,42.8 C32.4,42.5 31.9,41.8 31.5,41.1 C31.2,40.3 30.3,39.1 30.4,38.3 C30.4,37.6 31.1,37.2 31.8,36.8 C32.6,36.4 33.8,36.0 34.8,35.9 C35.8,35.8 37.5,36.1 38.1,36.1 M101.4,52.4 C100.9,52.4 99.3,52.5 98.5,52.3 C97.6,52.0 96.5,51.5 96.2,50.9 C95.9,50.2 96.2,49.0 96.7,48.4 C97.2,47.7 98.5,47.0 99.3,47.2 C100.1,47.3 101.2,49.0 101.6,49.4 M15.4,38.6 C15.1,38.5 14.1,38.5 13.3,38.0 C12.5,37.6 11.6,36.5 10.8,35.9 C10.0,35.2 9.0,34.8 8.5,34.2 C8.0,33.5 7.7,32.9 7.9,32.0 C8.1,31.1 9.2,29.5 9.4,29.0 M84.7,64.4 C84.7,63.9 84.7,62.1 84.2,61.4 C83.7,60.7 82.6,60.6 81.6,60.3 C80.7,60.0 79.5,59.5 78.8,59.8 C78.0,60.1 77.2,61.0 76.9,61.9 C76.7,62.8 76.9,64.5 77.3,65.3 C77.7,66.1 78.7,66.3 79.4,66.4 C80.2,66.6 80.8,66.7 81.6,66.3 C82.4,65.9 83.8,64.9 84.3,64.1 C84.8,63.3 84.6,62.1 84.7,61.7 M84.1,34.8 C84.0,35.3 83.6,36.8 83.3,37.9 C83.0,39.0 82.3,40.2 82.3,41.2 C82.3,42.2 83.0,42.9 83.3,43.6 C83.5,44.4 83.3,45.1 83.8,45.6 C84.3,46.1 85.4,46.6 86.4,46.8 C87.4,47.1 88.7,47.0 89.7,47.1 C90.8,47.2 92.1,47.3 92.5,47.3 M38.6,53.7 C38.5,54.0 37.9,55.2 37.8,55.9 C37.8,56.6 38.0,57.3 38.2,58.0 C38.4,58.8 38.7,59.5 39.0,60.3 C39.3,61.1 39.4,62.3 39.9,63.0 C40.4,63.7 41.1,64.1 41.8,64.4 C42.5,64.8 43.3,64.9 44.0,65.2 C44.7,65.4 45.2,65.8 46.1,65.9 C46.9,65.9 48.4,65.6 48.9,65.6 M38.2,18.9 C38.1,19.5 38.4,21.4 37.9,22.2 C37.3,23.1 35.7,23.9 34.8,23.9 C33.9,23.8 32.8,22.8 32.4,22.1 C32.0,21.5 32.1,20.8 32.4,20.1 C32.7,19.4 33.7,18.5 34.4,17.9 C35.2,17.4 36.1,16.5 36.9,16.6 C37.7,16.6 38.7,17.5 39.2,18.1 C39.6,18.8 39.6,20.1 39.7,20.5 M27.5,29.4 C27.0,29.2 25.4,28.2 24.6,28.1 C23.8,28.0 23.0,28.2 22.6,28.7 C22.1,29.2 22.1,29.9 22.0,30.9 C21.9,31.8 21.6,33.1 21.8,34.2 C22.0,35.2 22.7,36.4 23.3,37.1 C23.9,37.7 24.5,37.8 25.4,38.2 C26.2,38.6 27.4,39.4 28.3,39.4 C29.1,39.3 30.3,38.6 30.5,37.8 C30.6,37.0 29.5,35.1 29.3,34.5 M18.2,19.6 C18.6,19.5 19.9,19.3 20.7,19.3 C21.4,19.2 22.0,19.2 22.8,19.3 C23.5,19.4 24.5,19.4 25.2,19.9 C25.8,20.4 26.6,21.5 26.6,22.3 C26.7,23.1 26.1,24.1 25.4,24.5 C24.8,24.9 23.4,24.7 22.6,24.7 C21.7,24.8 21.2,25.2 20.3,24.9 C19.4,24.7 17.8,23.5 17.3,23.2" fill="none"/>
<path id="tn20" d="M84.7,53.7 C84.4,54.0 83.8,54.9 83.3,55.6 C82.8,56.3 82.4,57.5 81.6,58.0 C80.8,58.4 79.4,58.4 78.4,58.4 C77.3,58.3 76.1,58.2 75.4,57.8 C74.7,57.4 74.3,56.4 74.1,56.2 M48.7,7.8 C49.1,7.6 50.7,6.0 51.0,6.1 C51.4,6.3 50.7,7.7 50.9,8.6 C51.1,9.4 51.7,10.7 52.2,11.5 C52.8,12.2 53.3,12.5 54.2,12.8 C55.1,13.1 56.4,13.1 57.5,13.2 C58.6,13.4 59.9,13.5 60.8,13.6 C61.8,13.7 62.4,14.0 63.1,13.8 C63.9,13.6 64.9,13.1 65.4,12.5 C66.0,11.9 66.2,10.6 66.4,10.2 M89.3,24.5 C89.6,24.8 90.8,25.4 91.2,26.0 C91.6,26.6 91.9,27.2 91.9,28.1 C91.9,29.1 91.9,30.8 91.3,31.5 C90.7,32.3 89.3,32.6 88.3,32.6 C87.2,32.5 85.7,31.8 85.2,31.1 C84.7,30.4 85.3,28.7 85.3,28.3 M8.0,54.3 C7.7,54.8 6.4,56.2 6.0,57.1 C5.7,57.9 5.7,58.6 5.9,59.3 C6.1,60.0 6.6,60.9 7.4,61.2 C8.2,61.5 9.6,61.4 10.5,61.2 C11.4,61.0 12.4,60.7 12.9,60.1 C13.3,59.4 13.4,58.2 13.4,57.4 C13.4,56.6 12.9,55.6 12.9,55.3 M10.6,39.0 C10.8,38.6 11.8,37.4 11.8,36.6 C11.8,35.9 11.3,35.0 10.7,34.6 C10.1,34.3 8.8,34.2 8.2,34.5 C7.5,34.8 6.9,35.7 6.8,36.4 C6.7,37.2 7.2,38.3 7.4,39.2 C7.7,40.2 7.8,41.5 8.3,42.2 C8.7,43.0 10.0,43.6 10.3,43.9 M28.0,22.2 C28.4,22.3 29.4,22.7 30.3,22.7 C31.2,22.6 32.6,22.5 33.2,22.0 C33.9,21.5 34.3,20.2 34.3,19.5 C34.2,18.8 33.5,18.5 33.1,17.9 C32.7,17.3 32.3,16.5 31.7,16.0 C31.1,15.5 30.1,15.3 29.4,14.9 C28.6,14.6 28.0,13.9 27.2,14.0 C26.5,14.1 25.2,15.3 24.8,15.6 M101.5,37.9 C101.9,38.3 103.3,40.6 103.6,40.5 C103.9,40.4 103.3,37.3 103.1,37.2 C102.8,37.2 102.4,39.1 102.1,40.0 C101.8,40.9 101.7,41.9 101.3,42.6 C100.9,43.3 100.5,43.9 99.9,44.1 C99.3,44.4 98.4,44.1 97.7,44.0 C96.9,43.9 96.1,44.1 95.5,43.6 C94.9,43.0 94.6,41.7 94.1,40.7 C93.6,39.7 92.8,38.2 92.5,37.7 M16.3,64.5 C16.6,64.7 17.6,65.6 18.3,66.0 C19.0,66.3 19.7,66.5 20.4,66.7 C21.2,66.8 22.1,67.0 22.8,67.0 C23.6,67.0 24.3,67.2 25.0,66.7 C25.8,66.3 27.1,65.2 27.5,64.4 C27.8,63.6 27.1,62.4 27.0,62.0 M38.1,12.3 C37.6,12.2 35.9,11.2 35.0,11.5 C34.1,11.8 32.9,13.2 32.6,14.0 C32.4,14.7 32.8,15.5 33.3,16.2 C33.7,16.9 34.5,18.0 35.3,18.0 C36.1,18.1 37.6,17.4 37.9,16.6 C38.2,15.9 37.7,14.4 37.2,13.5 C36.7,12.6 35.8,11.7 35.0,11.2 C34.2,10.8 33.2,10.6 32.5,10.8 C31.7,11.0 30.9,12.2 30.5,12.5 M45.6,48.6 C45.2,48.8 44.0,49.6 43.2,49.6 C42.5,49.5 41.8,49.0 41.2,48.4 C40.6,47.8 39.7,47.1 39.5,46.2 C39.2,45.3 39.4,43.9 39.7,43.1 C40.0,42.2 40.7,41.7 41.3,41.1 C41.8,40.5 42.3,39.9 43.0,39.7 C43.8,39.6 45.3,39.9 46.0,40.2 C46.7,40.6 47.0,41.2 47.4,42.0 C47.8,42.8 48.2,44.5 48.4,45.0 M15.7,36.5 C15.8,36.0 15.9,34.3 15.9,33.4 C15.9,32.6 16.1,31.8 15.7,31.2 C15.3,30.7 14.5,30.1 13.7,30.0 C12.9,30.0 11.6,30.2 11.0,30.7 C10.4,31.2 9.9,32.2 10.1,33.0 C10.2,33.9 11.3,35.2 11.9,36.0 C12.5,36.7 13.2,37.2 13.5,37.4 M72.1,14.0 C72.2,13.7 72.7,12.9 73.0,12.3 C73.3,11.6 73.8,10.0 73.9,10.0 C73.9,10.0 73.1,11.5 73.4,12.3 C73.6,13.0 74.7,13.9 75.4,14.6 C76.2,15.4 77.5,16.4 77.9,16.8 M43.1,13.9 C43.7,14.1 45.6,14.6 46.3,15.2 C47.1,15.7 47.4,16.7 47.7,17.4 C47.9,18.1 48.4,18.9 48.0,19.6 C47.6,20.3 46.0,21.3 45.3,21.8 C44.5,22.4 44.2,22.6 43.5,22.9 C42.9,23.3 41.6,23.8 41.2,23.9 M52.6,27.0 C52.6,26.4 52.8,24.6 52.8,23.7 C52.8,22.7 52.7,22.1 52.5,21.4 C52.2,20.6 51.8,19.7 51.3,19.3 C50.7,18.8 50.1,18.4 49.1,18.4 C48.2,18.4 46.8,18.9 45.7,19.0 C44.6,19.0 43.2,18.5 42.3,18.8 C41.5,19.0 41.2,20.0 40.6,20.5 C40.1,21.0 39.6,21.3 39.0,21.8 C38.5,22.4 37.6,23.3 37.3,23.6 M47.7,39.5 C47.2,39.5 46.0,39.2 45.1,39.2 C44.3,39.2 43.3,39.5 42.5,39.6 C41.7,39.7 41.0,40.1 40.3,39.8 C39.5,39.6 38.7,38.7 38.0,38.2 C37.3,37.8 36.7,37.7 36.1,37.0 C35.5,36.3 34.6,35.2 34.4,34.2 C34.2,33.3 34.6,32.0 35.0,31.2 C35.4,30.4 36.1,30.3 36.7,29.7 C37.3,29.0 38.2,27.7 38.6,27.3 M59.9,71.1 C59.4,70.7 57.5,69.7 57.2,69.0 C56.8,68.3 57.3,67.6 57.6,67.0 C57.9,66.3 58.2,65.3 59.0,65.1 C59.8,64.8 61.5,64.8 62.4,65.2 C63.3,65.7 64.0,67.5 64.3,68.0 M55.3,69.2 C55.4,68.8 56.2,67.2 56.0,66.5 C55.7,65.8 54.5,65.3 53.8,65.1 C53.1,64.9 52.2,64.8 51.7,65.4 C51.3,66.0 51.1,68.7 50.9,68.7 C50.7,68.7 50.5,65.9 50.4,65.4 M71.4,50.5 C70.9,50.3 69.2,49.6 68.4,49.2 C67.5,48.9 66.9,48.7 66.3,48.4 C65.7,48.0 65.0,47.8 64.7,47.1 C64.5,46.5 64.7,45.4 64.8,44.5 C64.9,43.7 65.0,42.7 65.6,42.1 C66.1,41.6 67.0,41.3 67.9,41.3 C68.9,41.3 70.2,41.7 71.2,42.2 C72.2,42.7 73.5,43.9 73.9,44.3 M39.1,33.2 C39.0,33.5 38.8,34.6 38.5,35.4 C38.3,36.3 38.1,37.2 37.6,38.1 C37.1,39.0 36.3,40.1 35.6,40.8 C35.0,41.6 34.5,42.2 33.8,42.5 C33.2,42.7 32.4,42.6 31.6,42.3 C30.9,42.1 30.0,41.7 29.5,41.1 C29.0,40.4 28.6,39.2 28.6,38.4 C28.6,37.6 29.3,36.6 29.5,36.3" fill="none"/>
<path id="tn21" d="M45.6,69.5 C45.4,69.1 44.5,67.9 44.2,67.0 C43.9,66.0 43.6,64.5 43.9,63.7 C44.3,62.9 45.4,62.4 46.1,62.1 C46.8,61.8 47.5,61.8 48.2,62.1 C48.9,62.5 50.2,63.2 50.4,64.1 C50.7,65.0 50.0,66.3 49.7,67.3 C49.4,68.2 48.8,69.2 48.6,69.6 M94.9,57.6 C95.3,57.4 96.3,56.3 97.1,56.5 C97.9,56.6 99.3,57.8 99.9,58.5 C100.5,59.3 100.2,60.9 100.7,61.0 C101.3,61.1 103.2,59.4 103.3,59.2 C103.3,59.0 102.1,59.7 101.1,59.8 C100.2,59.8 98.5,59.9 97.8,59.6 C97.1,59.2 96.7,58.3 96.9,57.5 C97.2,56.8 98.9,55.4 99.3,55.0 M46.3,20.0 C46.2,20.5 45.7,22.2 45.9,23.0 C46.2,23.8 46.9,24.5 47.6,24.6 C48.3,24.7 49.5,24.0 50.1,23.6 C50.8,23.1 51.1,22.5 51.5,21.9 C51.9,21.3 52.3,20.6 52.4,19.9 C52.5,19.2 52.2,18.0 52.1,17.6 M53.8,19.3 C53.4,19.6 52.2,20.5 51.7,21.2 C51.2,21.9 51.0,22.8 50.8,23.5 C50.6,24.2 50.7,24.7 50.5,25.6 C50.2,26.5 49.3,27.6 49.3,28.7 C49.3,29.7 50.3,31.2 50.5,31.8 M41.1,28.3 C41.5,28.6 42.9,29.0 43.4,29.7 C44.0,30.5 44.2,31.9 44.4,32.9 C44.6,33.8 44.6,34.4 44.5,35.3 C44.5,36.1 44.4,37.0 43.9,37.8 C43.5,38.6 42.5,40.0 41.6,40.3 C40.7,40.6 39.2,39.8 38.4,39.7 C37.5,39.5 36.7,39.3 36.3,39.3 M39.0,60.2 C39.2,59.8 39.7,58.4 40.2,57.7 C40.7,56.9 41.1,56.2 41.8,55.8 C42.5,55.4 43.6,55.2 44.5,55.2 C45.3,55.2 46.0,55.4 46.7,55.8 C47.4,56.2 48.1,56.9 48.6,57.6 C49.2,58.3 49.9,59.1 50.2,59.8 C50.4,60.5 50.0,61.2 50.0,61.9 C49.9,62.6 49.8,63.6 49.8,64.0 M97.7,54.4 C98.0,54.6 98.6,55.6 99.4,55.8 C100.3,56.0 102.6,55.3 102.8,55.6 C103.0,56.0 101.4,57.1 100.9,57.8 C100.4,58.5 99.8,59.9 99.6,59.7 C99.5,59.6 100.0,58.0 100.1,57.0 C100.1,56.1 100.3,55.0 100.1,54.0 C99.9,53.1 99.3,52.1 98.9,51.4 C98.4,50.7 98.2,50.4 97.5,49.8 C96.8,49.2 95.2,48.0 94.7,47.7 M87.0,65.9 C87.1,66.5 87.3,68.4 87.3,69.4 C87.2,70.3 86.6,71.6 86.9,71.9 C87.3,72.1 89.4,70.8 89.3,70.7 C89.3,70.6 86.6,71.3 86.7,71.3 C86.8,71.3 89.7,70.8 89.8,70.6 C89.9,70.4 87.7,70.2 87.3,70.1 M28.6,34.1 C29.1,34.3 30.6,35.1 31.5,35.0 C32.3,34.9 33.2,34.0 33.7,33.4 C34.2,32.8 34.3,32.1 34.5,31.4 C34.7,30.7 35.1,29.9 34.9,29.2 C34.6,28.6 33.8,27.5 33.1,27.4 C32.3,27.3 31.0,27.8 30.4,28.5 C29.9,29.2 29.7,31.3 29.6,31.8 M64.3,50.7 C63.9,51.1 62.3,52.0 61.8,52.7 C61.4,53.4 61.5,54.0 61.6,54.9 C61.8,55.7 62.0,57.3 62.6,57.9 C63.3,58.4 64.4,58.3 65.5,58.3 C66.5,58.4 67.9,58.4 68.8,58.0 C69.6,57.6 70.2,56.6 70.5,55.9 C70.9,55.2 71.0,54.2 70.7,53.6 C70.4,53.1 69.5,52.7 68.7,52.6 C67.9,52.4 66.6,52.6 66.2,52.6 M44.5,42.3 C44.7,42.8 45.7,44.2 45.9,45.2 C46.2,46.2 46.0,47.1 45.8,48.1 C45.6,49.1 45.2,50.6 44.7,51.2 C44.1,51.8 43.1,51.8 42.3,51.7 C41.5,51.6 40.5,51.3 39.9,50.7 C39.4,50.1 38.9,48.7 39.0,48.0 C39.0,47.3 39.3,46.5 40.1,46.3 C40.9,46.1 42.7,46.4 43.6,46.7 C44.4,47.1 45.1,48.1 45.4,48.4 M98.6,34.0 C99.0,34.0 100.7,33.7 101.3,34.1 C102.0,34.4 102.3,35.4 102.3,36.0 C102.4,36.7 102.2,37.4 101.6,37.9 C100.9,38.4 99.5,38.9 98.6,39.1 C97.6,39.4 96.5,39.8 95.8,39.4 C95.0,39.0 94.5,37.3 94.2,36.9 M100.2,40.7 C100.5,40.4 101.7,39.9 102.0,39.0 C102.4,38.2 102.6,36.8 102.4,35.8 C102.3,34.9 101.8,34.2 101.4,33.5 C100.9,32.8 100.2,32.2 99.6,31.6 C99.1,31.0 98.9,30.1 98.2,29.8 C97.4,29.5 96.3,29.7 95.3,29.8 C94.3,30.0 92.7,30.4 92.1,30.5 M60.8,13.5 C60.5,13.6 59.3,13.6 58.7,14.1 C58.1,14.6 57.6,15.5 57.2,16.4 C56.9,17.3 56.4,18.6 56.4,19.7 C56.5,20.8 56.9,22.2 57.5,23.0 C58.1,23.8 59.4,24.1 59.8,24.4" fill="none"/>
<path id="tn22" d="M72.0,31.1 C72.1,31.4 72.4,32.3 72.6,33.0 C72.8,33.7 72.9,34.6 73.3,35.2 C73.7,35.8 74.3,36.1 75.1,36.5 C75.9,36.8 77.1,37.2 77.9,37.2 C78.7,37.2 79.1,36.8 80.0,36.5 C80.9,36.2 82.7,35.7 83.2,35.5 M80.2,53.6 C79.7,53.5 77.7,53.8 77.0,53.3 C76.2,52.8 75.8,51.5 75.9,50.6 C76.0,49.7 77.1,48.6 77.7,47.9 C78.3,47.1 78.8,46.3 79.7,46.0 C80.6,45.6 82.1,45.3 82.9,45.7 C83.8,46.0 84.5,47.8 84.9,48.3 M72.0,51.8 C71.9,52.2 71.7,53.6 71.7,54.3 C71.8,55.1 71.7,55.8 72.3,56.3 C72.8,56.8 74.0,57.3 74.8,57.4 C75.7,57.5 76.5,57.1 77.2,56.8 C77.9,56.6 78.1,56.1 78.9,55.7 C79.7,55.2 81.3,55.0 82.0,54.3 C82.7,53.7 82.8,52.2 83.0,51.7 M50.9,59.4 C50.7,58.9 50.4,57.4 49.7,56.6 C49.1,55.9 47.8,55.0 46.8,55.2 C45.9,55.3 44.7,56.6 44.3,57.3 C43.8,58.0 44.1,58.7 44.4,59.4 C44.6,60.1 45.0,60.8 45.6,61.3 C46.1,61.9 47.4,62.3 47.8,62.5 M88.3,55.2 C87.8,55.2 86.4,55.4 85.3,55.5 C84.3,55.7 83.0,56.4 82.1,56.1 C81.1,55.9 80.2,54.5 79.5,53.9 C78.8,53.3 78.4,53.1 78.1,52.4 C77.7,51.6 77.6,49.9 77.5,49.4 M11.6,39.5 C12.0,39.9 12.7,41.5 13.6,41.9 C14.5,42.3 16.2,42.1 16.9,41.7 C17.7,41.4 17.9,40.6 18.3,39.8 C18.6,39.0 19.2,38.0 19.3,37.0 C19.4,36.1 19.1,35.0 18.9,34.0 C18.7,33.1 18.3,31.9 18.2,31.4 M52.9,20.1 C53.1,20.4 53.7,21.6 53.8,22.3 C54.0,23.0 54.1,23.8 53.9,24.5 C53.8,25.2 53.4,25.8 52.8,26.3 C52.3,26.7 51.6,27.1 50.8,27.1 C50.0,27.2 48.6,26.6 48.1,26.5 M69.1,58.3 C68.6,58.4 67.0,59.2 66.3,59.1 C65.6,59.1 64.9,58.6 64.7,57.8 C64.5,57.1 64.6,55.3 64.9,54.5 C65.1,53.7 65.8,53.4 66.3,53.0 C66.8,52.6 67.3,52.4 68.2,52.2 C69.0,52.0 71.0,51.9 71.5,51.9 M98.6,56.6 C98.5,56.1 98.3,54.0 97.9,53.2 C97.6,52.4 97.2,51.9 96.5,51.7 C95.9,51.6 94.9,51.9 94.0,52.2 C93.2,52.4 92.4,52.8 91.5,53.1 C90.5,53.5 88.9,54.1 88.3,54.3 M89.4,57.9 C89.0,58.0 87.7,58.2 86.8,58.2 C85.9,58.3 85.0,58.5 84.1,58.2 C83.2,57.9 81.9,57.1 81.4,56.4 C80.9,55.8 81.1,55.0 81.0,54.2 C80.8,53.4 80.7,52.0 80.7,51.6" fill="none"/>
</defs>
<g transform="translate(25.5,35)"><rect width="107.5" height="118.7" fill="#000"/><g clip-path="url(#clip0)"><use href="#v0"/></g></g>
<g transform="translate(134,35)"><rect width="108" height="118.7" fill="#000"/><g clip-path="url(#clip1)"><use href="#v1"/></g></g>
<g transform="translate(243,35)"><rect width="108" height="118.7" fill="#000"/><g clip-path="url(#clip1)"><use href="#v2"/></g></g>
<g transform="translate(25.5,184)"><rect width="107.5" height="118.5" fill="#000"/><g clip-path="url(#clip0)"><use href="#v3"/></g></g>
<g transform="translate(134,184)"><rect width="108" height="118.5" fill="#000"/><g clip-path="url(#clip1)"><use href="#v4"/></g></g>
<g transform="translate(243,184)"><rect width="108" height="118.5" fill="#000"/><g clip-path="url(#clip1)"><use href="#v5"/></g></g>
<g transform="translate(25.5,35)"><rect x="8.6" y="113" width="13.7" height="1.1" fill="#bdbdbd"/><text x="15.5" y="111.6" font-size="3.2" font-weight="normal" text-anchor="middle" fill="#8a8a8a">50 μm</text></g>
<rect x="401.55" y="100" width="1.5" height="48" fill="#dde0e6" stroke="#8a8a8a" stroke-width="0.4"/>
<rect x="431.15" y="79" width="1.5" height="42" fill="#dde0e6" stroke="#8a8a8a" stroke-width="0.4"/>
<polyline points="402.3,52.0 431.9,40.0 461.9,32.2 491.6,32.7 521.6,32.1" fill="none" stroke="#b83030" stroke-opacity="0.33" stroke-width="0.5"/>
<polyline points="402.3,52.0 431.9,40.0 461.9,32.2 491.6,33.8 521.6,33.3" fill="none" stroke="#b83030" stroke-opacity="0.33" stroke-width="0.5"/>
<polyline points="402.3,54.9 431.9,40.0 461.9,35.7 491.6,34.0 521.6,34.8" fill="none" stroke="#b83030" stroke-opacity="0.33" stroke-width="0.5"/>
<polyline points="402.3,53.4 431.9,42.2 461.9,33.4 491.6,33.0 521.6,33.3" fill="none" stroke="#b83030" stroke-opacity="0.33" stroke-width="0.5"/>
<polyline points="402.3,54.7 431.9,42.9 461.9,32.2 491.6,34.0 521.6,34.5" fill="none" stroke="#b83030" stroke-opacity="0.33" stroke-width="0.5"/>
<polyline points="402.3,52.8 431.9,40.0 461.9,33.8 491.6,33.0 521.6,34.3" fill="none" stroke="#b83030" stroke-opacity="0.33" stroke-width="0.5"/>
<polyline points="402.3,60.9 431.9,43.6 461.9,33.9 491.6,33.4 521.6,34.6" fill="none" stroke="#b83030" stroke-opacity="0.33" stroke-width="0.5"/>
<polyline points="402.3,58.4 431.9,44.0 461.9,33.0 491.6,35.3 521.6,33.4" fill="none" stroke="#b83030" stroke-opacity="0.33" stroke-width="0.5"/>
<polyline points="402.3,57.6 431.9,44.6 461.9,35.1 491.6,37.7 521.6,32.1" fill="none" stroke="#b83030" stroke-opacity="0.33" stroke-width="0.5"/>
<polyline points="402.3,59.0 431.9,47.0 461.9,35.3 491.6,35.4 521.6,34.2" fill="none" stroke="#b83030" stroke-opacity="0.33" stroke-width="0.5"/>
<polyline points="402.3,55.0 431.9,48.8 461.9,34.9 491.6,34.8 521.6,35.4" fill="none" stroke="#b83030" stroke-opacity="0.33" stroke-width="0.5"/>
<polyline points="402.3,59.8 431.9,45.9 461.9,34.5 491.6,34.5 521.6,35.2" fill="none" stroke="#b83030" stroke-opacity="0.33" stroke-width="0.5"/>
<polyline points="402.3,109.6 431.9,45.1 461.9,35.1 491.6,35.6 521.6,35.2" fill="none" stroke="#b83030" stroke-opacity="0.33" stroke-width="0.5"/>
<polyline points="402.3,60.7 431.9,49.2 461.9,35.3 491.6,35.5 521.6,38.6" fill="none" stroke="#b83030" stroke-opacity="0.33" stroke-width="0.5"/>
<polyline points="402.3,56.8 431.9,48.7 461.9,35.5 491.6,36.2 521.6,37.4" fill="none" stroke="#b83030" stroke-opacity="0.33" stroke-width="0.5"/>
<polyline points="402.3,60.9 431.9,47.4 461.9,35.2 491.6,36.8 521.6,37.3" fill="none" stroke="#b83030" stroke-opacity="0.33" stroke-width="0.5"/>
<polyline points="402.3,60.0 431.9,47.0 461.9,35.5 491.6,36.5 521.6,34.1" fill="none" stroke="#b83030" stroke-opacity="0.33" stroke-width="0.5"/>
<polyline points="402.3,63.9 431.9,45.1 461.9,35.7 491.6,37.8 521.6,38.1" fill="none" stroke="#b83030" stroke-opacity="0.33" stroke-width="0.5"/>
<polyline points="402.3,63.7 431.9,47.5 461.9,37.4 491.6,39.7 521.6,38.6" fill="none" stroke="#b83030" stroke-opacity="0.33" stroke-width="0.5"/>
<polyline points="402.3,63.0 431.9,50.4 461.9,36.2 491.6,37.8 521.6,38.4" fill="none" stroke="#b83030" stroke-opacity="0.33" stroke-width="0.5"/>
<polyline points="402.3,65.2 431.9,48.7 461.9,36.9 491.6,37.4 521.6,38.9" fill="none" stroke="#b83030" stroke-opacity="0.33" stroke-width="0.5"/>
<polyline points="402.3,61.6 431.9,50.5 461.9,38.7 491.6,39.4 521.6,38.9" fill="none" stroke="#b83030" stroke-opacity="0.33" stroke-width="0.5"/>
<polyline points="402.3,66.7 431.9,48.2 461.9,37.3 491.6,41.5 521.6,38.9" fill="none" stroke="#b83030" stroke-opacity="0.33" stroke-width="0.5"/>
<polyline points="402.3,65.7 431.9,49.6 461.9,37.9 491.6,39.6 521.6,40.0" fill="none" stroke="#b83030" stroke-opacity="0.33" stroke-width="0.5"/>
<polyline points="402.3,67.3 431.9,51.5 461.9,40.3 491.6,37.4 521.6,38.4" fill="none" stroke="#b83030" stroke-opacity="0.33" stroke-width="0.5"/>
<polyline points="402.3,63.7 431.9,95.9 461.9,38.5 491.6,42.4 521.6,40.0" fill="none" stroke="#b83030" stroke-opacity="0.33" stroke-width="0.5"/>
<polyline points="402.3,67.5 431.9,51.2 461.9,37.9 491.6,39.1 521.6,39.9" fill="none" stroke="#b83030" stroke-opacity="0.33" stroke-width="0.5"/>
<polyline points="402.3,65.8 431.9,53.3 461.9,39.5 491.6,40.3 521.6,37.9" fill="none" stroke="#b83030" stroke-opacity="0.33" stroke-width="0.5"/>
<polyline points="402.3,67.0 431.9,49.5 461.9,39.9 491.6,40.1 521.6,39.6" fill="none" stroke="#b83030" stroke-opacity="0.33" stroke-width="0.5"/>
<polyline points="402.3,64.4 431.9,50.2 461.9,40.3 491.6,42.0 521.6,39.7" fill="none" stroke="#b83030" stroke-opacity="0.33" stroke-width="0.5"/>
<polyline points="402.3,67.0 431.9,53.9 461.9,39.2 491.6,40.9 521.6,38.7" fill="none" stroke="#b83030" stroke-opacity="0.33" stroke-width="0.5"/>
<polyline points="402.3,64.4 431.9,52.8 461.9,38.8 491.6,41.4 521.6,39.9" fill="none" stroke="#b83030" stroke-opacity="0.33" stroke-width="0.5"/>
<polyline points="402.3,70.6 431.9,52.7 461.9,40.0 491.6,41.4 521.6,40.5" fill="none" stroke="#b83030" stroke-opacity="0.33" stroke-width="0.5"/>
<polyline points="402.3,69.0 431.9,52.9 461.9,39.0 491.6,39.9 521.6,40.1" fill="none" stroke="#b83030" stroke-opacity="0.33" stroke-width="0.5"/>
<polyline points="402.3,73.0 431.9,53.9 461.9,40.1 491.6,41.5 521.6,43.5" fill="none" stroke="#b83030" stroke-opacity="0.33" stroke-width="0.5"/>
<polyline points="402.3,76.3 431.9,51.5 461.9,41.7 491.6,41.8 521.6,44.3" fill="none" stroke="#b83030" stroke-opacity="0.33" stroke-width="0.5"/>
<polyline points="402.3,68.4 431.9,55.7 461.9,43.2 491.6,41.5 521.6,41.5" fill="none" stroke="#b83030" stroke-opacity="0.33" stroke-width="0.5"/>
<polyline points="402.3,74.8 431.9,56.2 461.9,42.4 491.6,44.6 521.6,41.0" fill="none" stroke="#b83030" stroke-opacity="0.33" stroke-width="0.5"/>
<polyline points="402.3,75.3 431.9,55.1 461.9,42.3 491.6,45.0 521.6,43.4" fill="none" stroke="#b83030" stroke-opacity="0.33" stroke-width="0.5"/>
<polyline points="402.3,75.5 431.9,54.4 461.9,40.9 491.6,42.9 521.6,46.4" fill="none" stroke="#b83030" stroke-opacity="0.33" stroke-width="0.5"/>
<polyline points="402.3,73.9 431.9,56.5 461.9,45.2 491.6,45.0 521.6,46.7" fill="none" stroke="#b83030" stroke-opacity="0.33" stroke-width="0.5"/>
<polyline points="402.3,76.1 431.9,55.5 461.9,44.9 491.6,45.4 521.6,44.6" fill="none" stroke="#b83030" stroke-opacity="0.33" stroke-width="0.5"/>
<polyline points="402.3,80.3 431.9,57.4 461.9,42.9 491.6,45.8 521.6,47.0" fill="none" stroke="#b83030" stroke-opacity="0.33" stroke-width="0.5"/>
<polyline points="402.3,77.2 431.9,55.7 461.9,41.8 491.6,46.8 521.6,41.9" fill="none" stroke="#b83030" stroke-opacity="0.33" stroke-width="0.5"/>
<polyline points="402.3,77.8 431.9,59.9 461.9,43.6 491.6,46.0 521.6,43.3" fill="none" stroke="#b83030" stroke-opacity="0.33" stroke-width="0.5"/>
<polyline points="402.3,77.9 431.9,57.8 461.9,45.1 491.6,45.3 521.6,44.1" fill="none" stroke="#b83030" stroke-opacity="0.33" stroke-width="0.5"/>
<polyline points="402.3,78.2 431.9,56.9 461.9,45.1 491.6,43.4 521.6,50.4" fill="none" stroke="#b83030" stroke-opacity="0.33" stroke-width="0.5"/>
<polyline points="402.3,82.0 431.9,60.7 461.9,45.9 491.6,44.5 521.6,44.3" fill="none" stroke="#b83030" stroke-opacity="0.33" stroke-width="0.5"/>
<polyline points="402.3,74.5 431.9,57.9 461.9,46.0 491.6,43.7 521.6,44.8" fill="none" stroke="#b83030" stroke-opacity="0.33" stroke-width="0.5"/>
<polyline points="402.3,80.5 431.9,59.3 461.9,42.5 491.6,45.9 521.6,45.3" fill="none" stroke="#b83030" stroke-opacity="0.33" stroke-width="0.5"/>
<polyline points="402.3,87.2 431.9,57.3 461.9,48.1 491.6,47.8 521.6,48.4" fill="none" stroke="#b83030" stroke-opacity="0.33" stroke-width="0.5"/>
<polyline points="402.3,79.1 431.9,62.5 461.9,45.0 491.6,51.2 521.6,50.0" fill="none" stroke="#b83030" stroke-opacity="0.33" stroke-width="0.5"/>
<polyline points="402.3,82.2 431.9,59.2 461.9,51.9 491.6,50.0 521.6,53.8" fill="none" stroke="#b83030" stroke-opacity="0.33" stroke-width="0.5"/>
<polyline points="402.3,84.3 431.9,60.0 461.9,51.3 491.6,50.5 521.6,50.5" fill="none" stroke="#b83030" stroke-opacity="0.33" stroke-width="0.5"/>
<polyline points="402.3,82.3 431.9,58.7 461.9,45.8 491.6,45.9 521.6,45.4" fill="none" stroke="#b83030" stroke-opacity="0.33" stroke-width="0.5"/>
<polyline points="402.3,83.9 431.9,63.4 461.9,52.0 491.6,49.8 521.6,56.4" fill="none" stroke="#b83030" stroke-opacity="0.33" stroke-width="0.5"/>
<polyline points="402.3,79.3 431.9,63.1 461.9,46.9 491.6,50.9 521.6,48.1" fill="none" stroke="#b83030" stroke-opacity="0.33" stroke-width="0.5"/>
<polyline points="402.3,90.6 431.9,65.9 461.9,60.4 491.6,58.6 521.6,51.7" fill="none" stroke="#b83030" stroke-opacity="0.33" stroke-width="0.5"/>
<polyline points="402.3,87.6 431.9,68.6 461.9,46.7 491.6,53.1 521.6,76.4" fill="none" stroke="#b83030" stroke-opacity="0.33" stroke-width="0.5"/>
<polyline points="402.3,88.7 431.9,62.0 461.9,57.8 491.6,50.7 521.6,52.2" fill="none" stroke="#b83030" stroke-opacity="0.33" stroke-width="0.5"/>
<polyline points="402.3,93.0 431.9,67.9 461.9,46.2 491.6,67.1 521.6,60.6" fill="none" stroke="#b83030" stroke-opacity="0.33" stroke-width="0.5"/>
<polyline points="402.3,87.4 431.9,69.6 461.9,58.8 491.6,64.2 521.6,49.4" fill="none" stroke="#b83030" stroke-opacity="0.33" stroke-width="0.5"/>
<polyline points="402.3,88.6 431.9,70.0 461.9,48.1 491.6,51.3 521.6,70.8" fill="none" stroke="#b83030" stroke-opacity="0.33" stroke-width="0.5"/>
<polyline points="402.3,97.0 431.9,69.1 461.9,60.5 491.6,56.3 521.6,53.9" fill="none" stroke="#b83030" stroke-opacity="0.33" stroke-width="0.5"/>
<polyline points="402.3,90.1 431.9,68.1 461.9,58.0 491.6,57.3 521.6,55.7" fill="none" stroke="#b83030" stroke-opacity="0.33" stroke-width="0.5"/>
<polyline points="402.3,92.4 431.9,66.4 461.9,58.3 491.6,57.1 521.6,72.9" fill="none" stroke="#b83030" stroke-opacity="0.33" stroke-width="0.5"/>
<polyline points="402.3,96.6 431.9,76.7 461.9,55.8 491.6,57.1 521.6,52.9" fill="none" stroke="#b83030" stroke-opacity="0.33" stroke-width="0.5"/>
<polyline points="402.3,93.7 431.9,78.4 461.9,59.5 491.6,69.9 521.6,54.3" fill="none" stroke="#b83030" stroke-opacity="0.33" stroke-width="0.5"/>
<polyline points="402.3,95.6 431.9,78.9 461.9,68.4 491.6,70.9 521.6,76.9" fill="none" stroke="#b83030" stroke-opacity="0.33" stroke-width="0.5"/>
<polyline points="402.3,98.4 431.9,78.7 461.9,68.4 491.6,75.1 521.6,76.9" fill="none" stroke="#b83030" stroke-opacity="0.33" stroke-width="0.5"/>
<path d="M405.60,51.70 L405.72,51.99 L405.89,52.32 L406.09,52.70 L406.31,53.16 L406.53,53.71 L406.75,54.35 L406.94,55.11 L407.10,56.00 L407.24,57.04 L407.37,58.23 L407.50,59.55 L407.61,60.96 L407.70,62.43 L407.76,63.95 L407.80,65.48 L407.80,67.00 L407.76,68.56 L407.68,70.23 L407.56,71.95 L407.43,73.69 L407.27,75.40 L407.11,77.05 L406.95,78.60 L406.80,80.00 L406.65,81.25 L406.49,82.38 L406.33,83.41 L406.16,84.38 L405.99,85.29 L405.82,86.19 L405.66,87.08 L405.50,88.00 L405.35,88.93 L405.19,89.84 L405.04,90.74 L404.89,91.62 L404.75,92.49 L404.60,93.34 L404.45,94.18 L404.30,95.00 L404.14,95.84 L403.97,96.71 L403.80,97.59 L403.62,98.44 L403.46,99.23 L403.32,99.95 L403.19,100.54 L403.10,101.00 L401.50,101.00 L401.41,100.54 L401.28,99.95 L401.14,99.23 L400.98,98.44 L400.80,97.59 L400.63,96.71 L400.46,95.84 L400.30,95.00 L400.15,94.18 L400.00,93.34 L399.85,92.49 L399.71,91.62 L399.56,90.74 L399.41,89.84 L399.25,88.93 L399.10,88.00 L398.94,87.08 L398.78,86.19 L398.61,85.29 L398.44,84.38 L398.27,83.41 L398.11,82.38 L397.95,81.25 L397.80,80.00 L397.65,78.60 L397.49,77.05 L397.33,75.40 L397.18,73.69 L397.04,71.95 L396.92,70.23 L396.84,68.56 L396.80,67.00 L396.80,65.48 L396.84,63.95 L396.90,62.43 L396.99,60.96 L397.10,59.55 L397.23,58.23 L397.36,57.04 L397.50,56.00 L397.66,55.11 L397.85,54.35 L398.07,53.71 L398.29,53.16 L398.51,52.70 L398.71,52.32 L398.88,51.99 L399.00,51.70 Z" fill="#4a6aae" fill-opacity="0.86" stroke="#222" stroke-width="0.6"/>
<path d="M436.20,39.80 L436.41,40.19 L436.70,40.70 L437.04,41.30 L437.42,41.98 L437.81,42.71 L438.20,43.47 L438.57,44.24 L438.90,45.00 L439.22,45.77 L439.57,46.58 L439.92,47.42 L440.25,48.28 L440.55,49.15 L440.78,50.02 L440.94,50.87 L441.00,51.70 L440.94,52.51 L440.77,53.30 L440.52,54.08 L440.21,54.86 L439.86,55.64 L439.52,56.42 L439.19,57.21 L438.90,58.00 L438.65,58.79 L438.43,59.55 L438.20,60.31 L437.98,61.08 L437.75,61.86 L437.50,62.69 L437.22,63.56 L436.90,64.50 L436.52,65.53 L436.09,66.66 L435.61,67.84 L435.12,69.06 L434.64,70.27 L434.19,71.45 L433.81,72.57 L433.50,73.60 L433.28,74.57 L433.12,75.54 L433.01,76.48 L432.94,77.37 L432.89,78.19 L432.86,78.91 L432.84,79.52 L432.80,80.00 L431.00,80.00 L430.96,79.52 L430.94,78.91 L430.91,78.19 L430.86,77.37 L430.79,76.48 L430.68,75.54 L430.52,74.57 L430.30,73.60 L429.99,72.57 L429.61,71.45 L429.16,70.27 L428.68,69.06 L428.19,67.84 L427.71,66.66 L427.28,65.53 L426.90,64.50 L426.58,63.56 L426.30,62.69 L426.05,61.86 L425.82,61.08 L425.60,60.31 L425.37,59.55 L425.15,58.79 L424.90,58.00 L424.61,57.21 L424.28,56.42 L423.94,55.64 L423.59,54.86 L423.28,54.08 L423.03,53.30 L422.86,52.51 L422.80,51.70 L422.86,50.87 L423.02,50.02 L423.25,49.15 L423.55,48.28 L423.88,47.42 L424.23,46.58 L424.58,45.77 L424.90,45.00 L425.23,44.24 L425.60,43.47 L425.99,42.71 L426.38,41.98 L426.76,41.30 L427.10,40.70 L427.39,40.19 L427.60,39.80 Z" fill="#d4961e" fill-opacity="0.86" stroke="#222" stroke-width="0.6"/>
<path d="M470.90,32.10 L471.32,32.43 L471.96,32.84 L472.71,33.34 L473.52,33.89 L474.29,34.50 L474.95,35.15 L475.41,35.82 L475.60,36.50 L475.49,37.23 L475.14,38.04 L474.61,38.89 L473.96,39.77 L473.24,40.65 L472.52,41.50 L471.86,42.29 L471.30,43.00 L470.83,43.62 L470.37,44.19 L469.93,44.70 L469.51,45.18 L469.09,45.64 L468.69,46.09 L468.29,46.54 L467.90,47.00 L467.51,47.48 L467.12,47.96 L466.74,48.43 L466.38,48.90 L466.02,49.36 L465.69,49.79 L465.38,50.21 L465.10,50.60 L464.85,50.95 L464.61,51.27 L464.40,51.56 L464.21,51.84 L464.05,52.11 L463.90,52.39 L463.79,52.68 L463.70,53.00 L463.65,53.35 L463.63,53.72 L463.65,54.10 L463.69,54.49 L463.74,54.89 L463.80,55.27 L463.85,55.64 L463.90,56.00 L463.95,56.34 L464.01,56.66 L464.09,56.97 L464.16,57.28 L464.23,57.58 L464.28,57.89 L464.31,58.19 L464.30,58.50 L464.25,58.82 L464.16,59.14 L464.04,59.46 L463.91,59.78 L463.78,60.10 L463.66,60.41 L463.56,60.71 L463.50,61.00 L463.48,61.27 L463.50,61.51 L463.54,61.74 L463.59,61.97 L463.64,62.20 L463.68,62.44 L463.71,62.71 L463.70,63.00 L463.66,63.32 L463.60,63.67 L463.52,64.03 L463.42,64.41 L463.33,64.80 L463.24,65.20 L463.16,65.60 L463.10,66.00 L463.05,66.43 L463.02,66.90 L462.99,67.40 L462.96,67.89 L462.94,68.36 L462.93,68.78 L462.91,69.13 L462.90,69.40 L460.90,69.40 L460.89,69.13 L460.87,68.78 L460.86,68.36 L460.84,67.89 L460.81,67.40 L460.78,66.90 L460.75,66.43 L460.70,66.00 L460.64,65.60 L460.56,65.20 L460.47,64.80 L460.38,64.41 L460.28,64.03 L460.20,63.67 L460.14,63.32 L460.10,63.00 L460.09,62.71 L460.12,62.44 L460.16,62.20 L460.21,61.97 L460.26,61.74 L460.30,61.51 L460.32,61.27 L460.30,61.00 L460.24,60.71 L460.14,60.41 L460.02,60.10 L459.89,59.78 L459.76,59.46 L459.64,59.14 L459.55,58.82 L459.50,58.50 L459.49,58.19 L459.52,57.89 L459.57,57.58 L459.64,57.28 L459.71,56.97 L459.79,56.66 L459.85,56.34 L459.90,56.00 L459.95,55.64 L460.00,55.27 L460.06,54.89 L460.11,54.49 L460.15,54.10 L460.17,53.72 L460.15,53.35 L460.10,53.00 L460.01,52.68 L459.90,52.39 L459.75,52.11 L459.59,51.84 L459.40,51.56 L459.19,51.27 L458.95,50.95 L458.70,50.60 L458.42,50.21 L458.11,49.79 L457.78,49.36 L457.42,48.90 L457.06,48.43 L456.67,47.96 L456.29,47.48 L455.90,47.00 L455.51,46.54 L455.11,46.09 L454.71,45.64 L454.29,45.18 L453.87,44.70 L453.43,44.19 L452.97,43.62 L452.50,43.00 L451.94,42.29 L451.28,41.50 L450.56,40.65 L449.84,39.77 L449.19,38.89 L448.66,38.04 L448.31,37.23 L448.20,36.50 L448.39,35.82 L448.85,35.15 L449.51,34.50 L450.28,33.89 L451.09,33.34 L451.84,32.84 L452.48,32.43 L452.90,32.10 Z" fill="#d9492e" fill-opacity="0.86" stroke="#222" stroke-width="0.6"/>
<path d="M498.60,32.10 L498.85,32.31 L499.19,32.59 L499.61,32.91 L500.06,33.28 L500.51,33.68 L500.94,34.11 L501.31,34.55 L501.60,35.00 L501.81,35.47 L501.98,35.99 L502.11,36.54 L502.21,37.10 L502.28,37.67 L502.31,38.23 L502.32,38.78 L502.30,39.30 L502.25,39.79 L502.16,40.26 L502.05,40.73 L501.90,41.18 L501.73,41.63 L501.54,42.08 L501.33,42.54 L501.10,43.00 L500.86,43.44 L500.60,43.85 L500.32,44.25 L500.03,44.66 L499.70,45.09 L499.36,45.58 L498.99,46.14 L498.60,46.80 L498.16,47.58 L497.65,48.48 L497.11,49.46 L496.56,50.49 L496.00,51.53 L495.48,52.55 L495.00,53.52 L494.60,54.40 L494.26,55.17 L493.96,55.84 L493.69,56.45 L493.46,57.05 L493.25,57.67 L493.08,58.34 L492.93,59.10 L492.80,60.00 L492.71,61.05 L492.66,62.24 L492.64,63.52 L492.64,64.86 L492.66,66.21 L492.69,67.54 L492.70,68.82 L492.70,70.00 L492.69,71.14 L492.67,72.31 L492.66,73.46 L492.64,74.58 L492.63,75.61 L492.62,76.53 L492.61,77.30 L492.60,77.90 L490.60,77.90 L490.59,77.30 L490.58,76.53 L490.57,75.61 L490.56,74.58 L490.54,73.46 L490.53,72.31 L490.51,71.14 L490.50,70.00 L490.50,68.82 L490.51,67.54 L490.54,66.21 L490.56,64.86 L490.56,63.52 L490.54,62.24 L490.49,61.05 L490.40,60.00 L490.27,59.10 L490.12,58.34 L489.95,57.67 L489.74,57.05 L489.51,56.45 L489.24,55.84 L488.94,55.17 L488.60,54.40 L488.20,53.52 L487.72,52.55 L487.20,51.53 L486.64,50.49 L486.09,49.46 L485.55,48.48 L485.04,47.58 L484.60,46.80 L484.21,46.14 L483.84,45.58 L483.50,45.09 L483.18,44.66 L482.88,44.25 L482.60,43.85 L482.34,43.44 L482.10,43.00 L481.87,42.54 L481.66,42.08 L481.47,41.63 L481.30,41.18 L481.15,40.73 L481.04,40.26 L480.95,39.79 L480.90,39.30 L480.88,38.78 L480.89,38.23 L480.92,37.67 L480.99,37.10 L481.09,36.54 L481.22,35.99 L481.39,35.47 L481.60,35.00 L481.89,34.55 L482.26,34.11 L482.69,33.68 L483.14,33.28 L483.59,32.91 L484.01,32.59 L484.35,32.31 L484.60,32.10 Z" fill="#58dde6" fill-opacity="0.86" stroke="#222" stroke-width="0.6"/>
<path d="M528.60,32.00 L528.85,32.22 L529.19,32.51 L529.60,32.85 L530.05,33.23 L530.50,33.65 L530.93,34.09 L531.31,34.54 L531.60,35.00 L531.82,35.48 L532.00,36.00 L532.15,36.54 L532.27,37.11 L532.35,37.67 L532.40,38.24 L532.42,38.78 L532.40,39.30 L532.35,39.79 L532.25,40.26 L532.12,40.73 L531.96,41.18 L531.77,41.63 L531.56,42.08 L531.33,42.54 L531.10,43.00 L530.85,43.46 L530.57,43.91 L530.27,44.36 L529.96,44.81 L529.63,45.27 L529.29,45.75 L528.94,46.26 L528.60,46.80 L528.24,47.39 L527.86,48.02 L527.47,48.69 L527.07,49.38 L526.67,50.06 L526.29,50.74 L525.93,51.39 L525.60,52.00 L525.29,52.58 L525.00,53.13 L524.72,53.67 L524.46,54.19 L524.22,54.70 L523.99,55.20 L523.79,55.70 L523.60,56.20 L523.44,56.65 L523.30,57.03 L523.18,57.38 L523.08,57.74 L523.00,58.14 L522.92,58.62 L522.86,59.23 L522.80,60.00 L522.75,60.97 L522.73,62.11 L522.71,63.39 L522.71,64.74 L522.71,66.13 L522.71,67.50 L522.71,68.81 L522.70,70.00 L522.69,71.14 L522.67,72.31 L522.66,73.46 L522.64,74.58 L522.63,75.61 L522.62,76.53 L522.61,77.30 L522.60,77.90 L520.60,77.90 L520.59,77.30 L520.58,76.53 L520.57,75.61 L520.56,74.58 L520.54,73.46 L520.53,72.31 L520.51,71.14 L520.50,70.00 L520.49,68.81 L520.49,67.50 L520.49,66.13 L520.49,64.74 L520.49,63.39 L520.47,62.11 L520.45,60.97 L520.40,60.00 L520.34,59.23 L520.28,58.62 L520.20,58.14 L520.12,57.74 L520.02,57.38 L519.90,57.03 L519.76,56.65 L519.60,56.20 L519.41,55.70 L519.21,55.20 L518.98,54.70 L518.74,54.19 L518.48,53.67 L518.20,53.13 L517.91,52.58 L517.60,52.00 L517.27,51.39 L516.91,50.74 L516.53,50.06 L516.13,49.38 L515.73,48.69 L515.34,48.02 L514.96,47.39 L514.60,46.80 L514.26,46.26 L513.91,45.75 L513.57,45.27 L513.24,44.81 L512.93,44.36 L512.63,43.91 L512.35,43.46 L512.10,43.00 L511.87,42.54 L511.64,42.08 L511.43,41.63 L511.24,41.18 L511.08,40.73 L510.95,40.26 L510.85,39.79 L510.80,39.30 L510.78,38.78 L510.80,38.24 L510.85,37.67 L510.93,37.11 L511.05,36.54 L511.20,36.00 L511.38,35.48 L511.60,35.00 L511.89,34.54 L512.27,34.09 L512.70,33.65 L513.15,33.23 L513.60,32.85 L514.01,32.51 L514.35,32.22 L514.60,32.00 Z" fill="#5d6882" fill-opacity="0.86" stroke="#222" stroke-width="0.6"/>
<line x1="402.3" y1="51.7" x2="402.3" y2="101" stroke="#111" stroke-width="0.9" stroke-opacity="0.85" stroke-dasharray="1.1,1.3"/>
<rect x="399.7" y="62.2" width="5.2" height="19.6" fill="none" stroke="#222" stroke-width="0.5" stroke-opacity="0.6"/>
<line x1="399.7" y1="71.4" x2="404.90000000000003" y2="71.4" stroke="#222" stroke-width="0.6" stroke-opacity="0.8"/>
<line x1="431.9" y1="39.8" x2="431.9" y2="80" stroke="#111" stroke-width="0.9" stroke-opacity="0.85" stroke-dasharray="1.1,1.3"/>
<rect x="429.29999999999995" y="48.1" width="5.2" height="13.5" fill="none" stroke="#222" stroke-width="0.5" stroke-opacity="0.6"/>
<line x1="429.29999999999995" y1="54.1" x2="434.5" y2="54.1" stroke="#222" stroke-width="0.6" stroke-opacity="0.8"/>
<line x1="461.9" y1="32.1" x2="461.9" y2="69.4" stroke="#111" stroke-width="0.9" stroke-opacity="0.85" stroke-dasharray="1.1,1.3"/>
<rect x="459.29999999999995" y="36.5" width="5.2" height="10.0" fill="none" stroke="#222" stroke-width="0.5" stroke-opacity="0.6"/>
<line x1="459.29999999999995" y1="40.6" x2="464.5" y2="40.6" stroke="#222" stroke-width="0.6" stroke-opacity="0.8"/>
<line x1="491.6" y1="32.1" x2="491.6" y2="77.9" stroke="#111" stroke-width="0.9" stroke-opacity="0.85" stroke-dasharray="1.1,1.3"/>
<rect x="489.0" y="37.6" width="5.2" height="11.7" fill="none" stroke="#222" stroke-width="0.5" stroke-opacity="0.6"/>
<line x1="489.0" y1="42.5" x2="494.20000000000005" y2="42.5" stroke="#222" stroke-width="0.6" stroke-opacity="0.8"/>
<line x1="521.6" y1="32.0" x2="521.6" y2="77.9" stroke="#111" stroke-width="0.9" stroke-opacity="0.85" stroke-dasharray="1.1,1.3"/>
<rect x="519.0" y="37.5" width="5.2" height="11.6" fill="none" stroke="#222" stroke-width="0.5" stroke-opacity="0.6"/>
<line x1="519.0" y1="42.4" x2="524.2" y2="42.4" stroke="#222" stroke-width="0.6" stroke-opacity="0.8"/>
<rect x="401.50" y="105.5" width="1.6" height="1.2" fill="#222"/>
<rect x="401.50" y="124.3" width="1.6" height="1.2" fill="#222"/>
<rect x="401.50" y="136.4" width="1.6" height="1.2" fill="#222"/>
<rect x="431.10" y="100.1" width="1.6" height="1.2" fill="#222"/>
<rect x="431.10" y="107.8" width="1.6" height="1.2" fill="#222"/>
<rect x="431.10" y="86.9" width="1.6" height="1.2" fill="#222"/>
<rect x="394" y="29" width="142" height="120" fill="none" stroke="#000" stroke-width="2"/>
<polyline points="588.2,34.9 617.2,72.0 647.0,100.5 676.4,95.2 705.5,92.7" fill="none" stroke="#b83030" stroke-opacity="0.33" stroke-width="0.5"/>
<polyline points="588.2,47.9 617.2,72.0 647.0,99.1 676.4,93.4 705.5,92.7" fill="none" stroke="#b83030" stroke-opacity="0.33" stroke-width="0.5"/>
<polyline points="588.2,35.7 617.2,77.8 647.0,106.2 676.4,97.7 705.5,99.7" fill="none" stroke="#b83030" stroke-opacity="0.33" stroke-width="0.5"/>
<polyline points="588.2,44.3 617.2,76.1 647.0,111.4 676.4,104.9 705.5,101.3" fill="none" stroke="#b83030" stroke-opacity="0.33" stroke-width="0.5"/>
<polyline points="588.2,61.1 617.2,76.5 647.0,116.8 676.4,111.4 705.5,106.2" fill="none" stroke="#b83030" stroke-opacity="0.33" stroke-width="0.5"/>
<polyline points="588.2,53.3 617.2,88.2 647.0,112.7 676.4,105.2 705.5,103.7" fill="none" stroke="#b83030" stroke-opacity="0.33" stroke-width="0.5"/>
<polyline points="588.2,65.5 617.2,88.5 647.0,113.4 676.4,104.7 705.5,101.2" fill="none" stroke="#b83030" stroke-opacity="0.33" stroke-width="0.5"/>
<polyline points="588.2,68.8 617.2,87.6 647.0,113.4 676.4,108.7 705.5,92.7" fill="none" stroke="#b83030" stroke-opacity="0.33" stroke-width="0.5"/>
<polyline points="588.2,62.4 617.2,86.8 647.0,111.0 676.4,114.8 705.5,110.3" fill="none" stroke="#b83030" stroke-opacity="0.33" stroke-width="0.5"/>
<polyline points="588.2,63.8 617.2,87.6 647.0,117.2 676.4,113.1 705.5,107.1" fill="none" stroke="#b83030" stroke-opacity="0.33" stroke-width="0.5"/>
<polyline points="588.2,74.6 617.2,88.3 647.0,113.4 676.4,112.3 705.5,109.1" fill="none" stroke="#b83030" stroke-opacity="0.33" stroke-width="0.5"/>
<polyline points="588.2,78.2 617.2,102.4 647.0,118.9 676.4,116.1 705.5,117.8" fill="none" stroke="#b83030" stroke-opacity="0.33" stroke-width="0.5"/>
<polyline points="588.2,75.0 617.2,102.4 647.0,116.8 676.4,113.8 705.5,112.3" fill="none" stroke="#b83030" stroke-opacity="0.33" stroke-width="0.5"/>
<polyline points="588.2,79.2 617.2,84.9 647.0,119.2 676.4,108.0 705.5,116.3" fill="none" stroke="#b83030" stroke-opacity="0.33" stroke-width="0.5"/>
<polyline points="588.2,82.2 617.2,100.0 647.0,120.4 676.4,120.6 705.5,116.5" fill="none" stroke="#b83030" stroke-opacity="0.33" stroke-width="0.5"/>
<polyline points="588.2,80.7 617.2,103.3 647.0,117.7 676.4,117.4 705.5,117.6" fill="none" stroke="#b83030" stroke-opacity="0.33" stroke-width="0.5"/>
<polyline points="588.2,69.6 617.2,95.2 647.0,122.7 676.4,118.1 705.5,120.3" fill="none" stroke="#b83030" stroke-opacity="0.33" stroke-width="0.5"/>
<polyline points="588.2,83.5 617.2,106.7 647.0,118.9 676.4,120.1 705.5,123.2" fill="none" stroke="#b83030" stroke-opacity="0.33" stroke-width="0.5"/>
<polyline points="588.2,82.4 617.2,104.4 647.0,125.4 676.4,118.4 705.5,121.5" fill="none" stroke="#b83030" stroke-opacity="0.33" stroke-width="0.5"/>
<polyline points="588.2,86.3 617.2,105.8 647.0,126.6 676.4,117.4 705.5,121.1" fill="none" stroke="#b83030" stroke-opacity="0.33" stroke-width="0.5"/>
<polyline points="588.2,85.8 617.2,108.7 647.0,123.3 676.4,125.4 705.5,121.9" fill="none" stroke="#b83030" stroke-opacity="0.33" stroke-width="0.5"/>
<polyline points="588.2,85.2 617.2,106.8 647.0,124.6 676.4,116.4 705.5,126.1" fill="none" stroke="#b83030" stroke-opacity="0.33" stroke-width="0.5"/>
<polyline points="588.2,83.2 617.2,105.2 647.0,126.9 676.4,122.7 705.5,120.7" fill="none" stroke="#b83030" stroke-opacity="0.33" stroke-width="0.5"/>
<polyline points="588.2,88.6 617.2,109.7 647.0,123.0 676.4,123.4 705.5,126.7" fill="none" stroke="#b83030" stroke-opacity="0.33" stroke-width="0.5"/>
<polyline points="588.2,87.7 617.2,109.5 647.0,124.7 676.4,120.3 705.5,126.9" fill="none" stroke="#b83030" stroke-opacity="0.33" stroke-width="0.5"/>
<polyline points="588.2,84.7 617.2,107.3 647.0,125.6 676.4,125.2 705.5,127.0" fill="none" stroke="#b83030" stroke-opacity="0.33" stroke-width="0.5"/>
<polyline points="588.2,87.3 617.2,113.2 647.0,125.7 676.4,123.8 705.5,126.1" fill="none" stroke="#b83030" stroke-opacity="0.33" stroke-width="0.5"/>
<polyline points="588.2,89.0 617.2,110.5 647.0,125.5 676.4,126.8 705.5,128.8" fill="none" stroke="#b83030" stroke-opacity="0.33" stroke-width="0.5"/>
<polyline points="588.2,89.7 617.2,110.6 647.0,128.2 676.4,127.9 705.5,126.9" fill="none" stroke="#b83030" stroke-opacity="0.33" stroke-width="0.5"/>
<polyline points="588.2,88.1 617.2,113.0 647.0,127.3 676.4,129.5 705.5,128.7" fill="none" stroke="#b83030" stroke-opacity="0.33" stroke-width="0.5"/>
<polyline points="588.2,92.2 617.2,113.9 647.0,127.7 676.4,129.1 705.5,127.1" fill="none" stroke="#b83030" stroke-opacity="0.33" stroke-width="0.5"/>
<polyline points="588.2,95.0 617.2,111.8 647.0,129.2 676.4,129.0 705.5,130.2" fill="none" stroke="#b83030" stroke-opacity="0.33" stroke-width="0.5"/>
<polyline points="588.2,93.8 617.2,112.2 647.0,128.7 676.4,128.3 705.5,127.7" fill="none" stroke="#b83030" stroke-opacity="0.33" stroke-width="0.5"/>
<polyline points="588.2,93.5 617.2,113.6 647.0,130.9 676.4,131.3 705.5,128.3" fill="none" stroke="#b83030" stroke-opacity="0.33" stroke-width="0.5"/>
<polyline points="588.2,90.6 617.2,113.3 647.0,128.3 676.4,131.2 705.5,128.6" fill="none" stroke="#b83030" stroke-opacity="0.33" stroke-width="0.5"/>
<polyline points="588.2,90.2 617.2,113.8 647.0,129.3 676.4,130.5 705.5,129.8" fill="none" stroke="#b83030" stroke-opacity="0.33" stroke-width="0.5"/>
<polyline points="588.2,93.6 617.2,115.5 647.0,131.2 676.4,131.7 705.5,130.3" fill="none" stroke="#b83030" stroke-opacity="0.33" stroke-width="0.5"/>
<polyline points="588.2,94.5 617.2,115.2 647.0,129.9 676.4,132.9 705.5,130.8" fill="none" stroke="#b83030" stroke-opacity="0.33" stroke-width="0.5"/>
<polyline points="588.2,98.5 617.2,113.6 647.0,131.1 676.4,132.4 705.5,130.5" fill="none" stroke="#b83030" stroke-opacity="0.33" stroke-width="0.5"/>
<polyline points="588.2,93.7 617.2,116.2 647.0,130.7 676.4,131.6 705.5,131.8" fill="none" stroke="#b83030" stroke-opacity="0.33" stroke-width="0.5"/>
<polyline points="588.2,95.5 617.2,117.2 647.0,130.4 676.4,134.1 705.5,133.1" fill="none" stroke="#b83030" stroke-opacity="0.33" stroke-width="0.5"/>
<polyline points="588.2,98.6 617.2,118.3 647.0,132.2 676.4,135.5 705.5,133.8" fill="none" stroke="#b83030" stroke-opacity="0.33" stroke-width="0.5"/>
<polyline points="588.2,99.4 617.2,116.3 647.0,132.9 676.4,132.7 705.5,135.4" fill="none" stroke="#b83030" stroke-opacity="0.33" stroke-width="0.5"/>
<polyline points="588.2,102.7 617.2,118.5 647.0,135.9 676.4,135.4 705.5,134.3" fill="none" stroke="#b83030" stroke-opacity="0.33" stroke-width="0.5"/>
<polyline points="588.2,99.9 617.2,118.7 647.0,133.3 676.4,133.2 705.5,134.5" fill="none" stroke="#b83030" stroke-opacity="0.33" stroke-width="0.5"/>
<polyline points="588.2,101.6 617.2,119.9 647.0,132.8 676.4,136.7 705.5,136.0" fill="none" stroke="#b83030" stroke-opacity="0.33" stroke-width="0.5"/>
<polyline points="588.2,98.6 617.2,119.7 647.0,133.2 676.4,133.5 705.5,133.5" fill="none" stroke="#b83030" stroke-opacity="0.33" stroke-width="0.5"/>
<polyline points="588.2,101.8 617.2,118.6 647.0,134.0 676.4,134.5 705.5,136.6" fill="none" stroke="#b83030" stroke-opacity="0.33" stroke-width="0.5"/>
<polyline points="588.2,102.0 617.2,124.5 647.0,133.0 676.4,136.7 705.5,135.1" fill="none" stroke="#b83030" stroke-opacity="0.33" stroke-width="0.5"/>
<polyline points="588.2,98.4 617.2,119.3 647.0,136.4 676.4,135.1 705.5,135.3" fill="none" stroke="#b83030" stroke-opacity="0.33" stroke-width="0.5"/>
<polyline points="588.2,105.6 617.2,122.0 647.0,136.8 676.4,138.0 705.5,137.6" fill="none" stroke="#b83030" stroke-opacity="0.33" stroke-width="0.5"/>
<polyline points="588.2,105.4 617.2,123.9 647.0,138.0 676.4,135.0 705.5,135.1" fill="none" stroke="#b83030" stroke-opacity="0.33" stroke-width="0.5"/>
<polyline points="588.2,106.9 617.2,118.7 647.0,138.5 676.4,139.0 705.5,140.4" fill="none" stroke="#b83030" stroke-opacity="0.33" stroke-width="0.5"/>
<polyline points="588.2,105.7 617.2,123.0 647.0,136.0 676.4,137.5 705.5,138.3" fill="none" stroke="#b83030" stroke-opacity="0.33" stroke-width="0.5"/>
<polyline points="588.2,112.9 617.2,125.2 647.0,141.5 676.4,138.0 705.5,139.6" fill="none" stroke="#b83030" stroke-opacity="0.33" stroke-width="0.5"/>
<polyline points="588.2,102.7 617.2,123.0 647.0,141.5 676.4,138.1 705.5,138.4" fill="none" stroke="#b83030" stroke-opacity="0.33" stroke-width="0.5"/>
<polyline points="588.2,111.1 617.2,127.7 647.0,138.6 676.4,137.4 705.5,140.4" fill="none" stroke="#b83030" stroke-opacity="0.33" stroke-width="0.5"/>
<polyline points="588.2,108.9 617.2,128.0 647.0,136.2 676.4,140.2 705.5,141.5" fill="none" stroke="#b83030" stroke-opacity="0.33" stroke-width="0.5"/>
<polyline points="588.2,110.3 617.2,126.5 647.0,140.9 676.4,143.5 705.5,141.4" fill="none" stroke="#b83030" stroke-opacity="0.33" stroke-width="0.5"/>
<polyline points="588.2,114.0 617.2,128.0 647.0,140.3 676.4,143.3 705.5,143.5" fill="none" stroke="#b83030" stroke-opacity="0.33" stroke-width="0.5"/>
<path d="M589.20,33.60 L589.23,36.86 L589.27,41.44 L589.31,46.91 L589.36,52.86 L589.42,58.85 L589.49,64.46 L589.59,69.25 L589.70,72.80 L589.83,75.08 L589.97,76.49 L590.12,77.24 L590.29,77.53 L590.48,77.56 L590.70,77.54 L590.93,77.69 L591.20,78.20 L591.51,78.98 L591.87,79.80 L592.26,80.64 L592.67,81.51 L593.08,82.38 L593.49,83.26 L593.86,84.14 L594.20,85.00 L594.53,85.84 L594.88,86.67 L595.22,87.49 L595.54,88.31 L595.82,89.15 L596.04,90.03 L596.17,90.94 L596.20,91.90 L596.10,92.92 L595.88,94.00 L595.57,95.12 L595.20,96.26 L594.80,97.43 L594.40,98.59 L594.02,99.76 L593.70,100.90 L593.42,102.05 L593.14,103.23 L592.87,104.42 L592.61,105.61 L592.35,106.78 L592.12,107.91 L591.90,108.99 L591.70,110.00 L591.52,110.97 L591.36,111.94 L591.21,112.88 L591.08,113.77 L590.96,114.59 L590.86,115.31 L590.77,115.92 L590.70,116.40 L585.70,116.40 L585.63,115.92 L585.54,115.31 L585.44,114.59 L585.33,113.77 L585.19,112.88 L585.04,111.94 L584.88,110.97 L584.70,110.00 L584.50,108.99 L584.28,107.91 L584.05,106.78 L583.79,105.61 L583.53,104.42 L583.26,103.23 L582.98,102.05 L582.70,100.90 L582.38,99.76 L582.00,98.59 L581.60,97.43 L581.20,96.26 L580.83,95.12 L580.52,94.00 L580.30,92.92 L580.20,91.90 L580.23,90.94 L580.36,90.03 L580.58,89.15 L580.86,88.31 L581.18,87.49 L581.52,86.67 L581.87,85.84 L582.20,85.00 L582.54,84.14 L582.91,83.26 L583.32,82.38 L583.73,81.51 L584.14,80.64 L584.53,79.80 L584.89,78.98 L585.20,78.20 L585.47,77.69 L585.70,77.54 L585.92,77.56 L586.11,77.53 L586.28,77.24 L586.43,76.49 L586.57,75.08 L586.70,72.80 L586.81,69.25 L586.91,64.46 L586.98,58.85 L587.04,52.86 L587.09,46.91 L587.13,41.44 L587.17,36.86 L587.20,33.60 Z" fill="#4a6aae" fill-opacity="0.86" stroke="#222" stroke-width="0.6"/>
<path d="M619.20,71.30 L619.19,73.05 L619.16,75.48 L619.13,78.38 L619.11,81.54 L619.09,84.77 L619.09,87.86 L619.13,90.61 L619.20,92.80 L619.30,94.46 L619.41,95.79 L619.53,96.85 L619.69,97.74 L619.87,98.51 L620.10,99.25 L620.37,100.02 L620.70,100.90 L621.10,101.86 L621.57,102.82 L622.10,103.78 L622.66,104.71 L623.24,105.63 L623.82,106.52 L624.38,107.38 L624.90,108.20 L625.43,108.96 L626.03,109.66 L626.64,110.32 L627.23,110.95 L627.75,111.58 L628.19,112.24 L628.48,112.94 L628.60,113.70 L628.52,114.53 L628.25,115.40 L627.85,116.31 L627.35,117.24 L626.79,118.18 L626.22,119.13 L625.68,120.08 L625.20,121.00 L624.74,121.96 L624.25,123.00 L623.74,124.06 L623.24,125.11 L622.76,126.10 L622.33,126.99 L621.97,127.74 L621.70,128.30 L612.70,128.30 L612.43,127.74 L612.07,126.99 L611.64,126.10 L611.16,125.11 L610.66,124.06 L610.15,123.00 L609.66,121.96 L609.20,121.00 L608.72,120.08 L608.18,119.13 L607.61,118.18 L607.05,117.24 L606.55,116.31 L606.15,115.40 L605.88,114.53 L605.80,113.70 L605.92,112.94 L606.21,112.24 L606.65,111.58 L607.18,110.95 L607.76,110.32 L608.37,109.66 L608.97,108.96 L609.50,108.20 L610.02,107.38 L610.58,106.52 L611.16,105.63 L611.74,104.71 L612.30,103.78 L612.83,102.82 L613.30,101.86 L613.70,100.90 L614.03,100.02 L614.30,99.25 L614.53,98.51 L614.71,97.74 L614.87,96.85 L614.99,95.79 L615.10,94.46 L615.20,92.80 L615.27,90.61 L615.31,87.86 L615.31,84.77 L615.29,81.54 L615.27,78.38 L615.24,75.48 L615.21,73.05 L615.20,71.30 Z" fill="#d4961e" fill-opacity="0.86" stroke="#222" stroke-width="0.6"/>
<path d="M648.50,98.10 L648.53,98.54 L648.55,99.11 L648.58,99.79 L648.62,100.56 L648.68,101.38 L648.76,102.25 L648.86,103.13 L649.00,104.00 L649.16,104.87 L649.35,105.77 L649.55,106.70 L649.78,107.66 L650.04,108.65 L650.32,109.69 L650.64,110.77 L651.00,111.90 L651.40,113.11 L651.84,114.41 L652.31,115.77 L652.81,117.16 L653.34,118.56 L653.88,119.93 L654.44,121.26 L655.00,122.50 L655.62,123.69 L656.34,124.85 L657.11,126.00 L657.88,127.10 L658.59,128.16 L659.22,129.17 L659.70,130.12 L660.00,131.00 L660.11,131.79 L660.06,132.48 L659.89,133.10 L659.62,133.67 L659.28,134.23 L658.88,134.78 L658.44,135.37 L658.00,136.00 L657.48,136.72 L656.84,137.51 L656.12,138.34 L655.38,139.16 L654.64,139.95 L653.97,140.66 L653.41,141.26 L653.00,141.70 L641.00,141.70 L640.59,141.26 L640.03,140.66 L639.36,139.95 L638.62,139.16 L637.88,138.34 L637.16,137.51 L636.52,136.72 L636.00,136.00 L635.56,135.37 L635.12,134.78 L634.72,134.23 L634.38,133.67 L634.11,133.10 L633.94,132.48 L633.89,131.79 L634.00,131.00 L634.30,130.12 L634.78,129.17 L635.41,128.16 L636.12,127.10 L636.89,126.00 L637.66,124.85 L638.38,123.69 L639.00,122.50 L639.56,121.26 L640.12,119.93 L640.66,118.56 L641.19,117.16 L641.69,115.77 L642.16,114.41 L642.60,113.11 L643.00,111.90 L643.36,110.77 L643.68,109.69 L643.96,108.65 L644.22,107.66 L644.45,106.70 L644.65,105.77 L644.84,104.87 L645.00,104.00 L645.14,103.13 L645.24,102.25 L645.32,101.38 L645.38,100.56 L645.42,99.79 L645.45,99.11 L645.47,98.54 L645.50,98.10 Z" fill="#d9492e" fill-opacity="0.86" stroke="#222" stroke-width="0.6"/>
<path d="M677.90,92.30 L677.92,93.17 L677.92,94.36 L677.92,95.76 L677.93,97.32 L677.97,98.94 L678.05,100.55 L678.19,102.06 L678.40,103.40 L678.71,104.59 L679.13,105.71 L679.62,106.78 L680.15,107.81 L680.68,108.83 L681.17,109.84 L681.59,110.86 L681.90,111.90 L682.09,112.98 L682.18,114.09 L682.20,115.21 L682.18,116.33 L682.16,117.42 L682.17,118.48 L682.24,119.48 L682.40,120.40 L682.65,121.24 L682.97,122.02 L683.33,122.74 L683.73,123.42 L684.15,124.07 L684.58,124.71 L685.00,125.35 L685.40,126.00 L685.83,126.64 L686.31,127.25 L686.82,127.83 L687.32,128.41 L687.79,129.00 L688.17,129.62 L688.46,130.28 L688.60,131.00 L688.60,131.79 L688.50,132.64 L688.29,133.53 L688.01,134.45 L687.67,135.38 L687.27,136.29 L686.85,137.17 L686.40,138.00 L685.87,138.82 L685.23,139.67 L684.51,140.52 L683.76,141.34 L683.03,142.10 L682.36,142.79 L681.80,143.36 L681.40,143.80 L671.40,143.80 L671.00,143.36 L670.44,142.79 L669.77,142.10 L669.04,141.34 L668.29,140.52 L667.57,139.67 L666.93,138.82 L666.40,138.00 L665.95,137.17 L665.53,136.29 L665.13,135.38 L664.79,134.45 L664.51,133.53 L664.30,132.64 L664.20,131.79 L664.20,131.00 L664.34,130.28 L664.62,129.62 L665.01,129.00 L665.48,128.41 L665.98,127.83 L666.49,127.25 L666.97,126.64 L667.40,126.00 L667.80,125.35 L668.22,124.71 L668.65,124.07 L669.07,123.42 L669.47,122.74 L669.83,122.02 L670.15,121.24 L670.40,120.40 L670.56,119.48 L670.63,118.48 L670.64,117.42 L670.62,116.33 L670.60,115.21 L670.62,114.09 L670.71,112.98 L670.90,111.90 L671.21,110.86 L671.63,109.84 L672.12,108.83 L672.65,107.81 L673.18,106.78 L673.67,105.71 L674.09,104.59 L674.40,103.40 L674.61,102.06 L674.75,100.55 L674.83,98.94 L674.87,97.32 L674.88,95.76 L674.88,94.36 L674.88,93.17 L674.90,92.30 Z" fill="#58dde6" fill-opacity="0.86" stroke="#222" stroke-width="0.6"/>
<path d="M707.00,91.70 L707.02,92.59 L707.04,93.78 L707.06,95.21 L707.09,96.79 L707.14,98.43 L707.22,100.07 L707.34,101.62 L707.50,103.00 L707.73,104.25 L708.02,105.47 L708.36,106.66 L708.72,107.81 L709.08,108.92 L709.43,109.99 L709.75,111.02 L710.00,112.00 L710.21,112.93 L710.40,113.81 L710.57,114.65 L710.72,115.45 L710.84,116.21 L710.93,116.94 L710.98,117.63 L711.00,118.30 L710.93,118.92 L710.76,119.49 L710.53,120.02 L710.28,120.51 L710.06,121.00 L709.91,121.48 L709.88,121.97 L710.00,122.50 L710.31,123.05 L710.76,123.62 L711.33,124.19 L711.98,124.76 L712.65,125.34 L713.32,125.90 L713.95,126.46 L714.50,127.00 L715.02,127.50 L715.59,127.96 L716.15,128.40 L716.69,128.84 L717.17,129.30 L717.55,129.80 L717.81,130.36 L717.90,131.00 L717.81,131.74 L717.57,132.57 L717.19,133.46 L716.73,134.39 L716.19,135.33 L715.62,136.26 L715.05,137.16 L714.50,138.00 L713.92,138.82 L713.25,139.67 L712.52,140.52 L711.79,141.34 L711.08,142.10 L710.44,142.79 L709.90,143.36 L709.50,143.80 L701.50,143.80 L701.10,143.36 L700.56,142.79 L699.92,142.10 L699.21,141.34 L698.48,140.52 L697.75,139.67 L697.08,138.82 L696.50,138.00 L695.95,137.16 L695.38,136.26 L694.81,135.33 L694.27,134.39 L693.81,133.46 L693.43,132.57 L693.19,131.74 L693.10,131.00 L693.19,130.36 L693.45,129.80 L693.83,129.30 L694.31,128.84 L694.85,128.40 L695.41,127.96 L695.98,127.50 L696.50,127.00 L697.05,126.46 L697.68,125.90 L698.35,125.34 L699.02,124.76 L699.67,124.19 L700.24,123.62 L700.69,123.05 L701.00,122.50 L701.12,121.97 L701.09,121.48 L700.94,121.00 L700.72,120.51 L700.47,120.02 L700.24,119.49 L700.07,118.92 L700.00,118.30 L700.02,117.63 L700.07,116.94 L700.16,116.21 L700.28,115.45 L700.43,114.65 L700.60,113.81 L700.79,112.93 L701.00,112.00 L701.25,111.02 L701.57,109.99 L701.92,108.92 L702.28,107.81 L702.64,106.66 L702.98,105.47 L703.27,104.25 L703.50,103.00 L703.66,101.62 L703.78,100.07 L703.86,98.43 L703.91,96.79 L703.94,95.21 L703.96,93.78 L703.98,92.59 L704.00,91.70 Z" fill="#5d6882" fill-opacity="0.86" stroke="#222" stroke-width="0.6"/>
<line x1="588.2" y1="33.6" x2="588.2" y2="116.4" stroke="#111" stroke-width="0.9" stroke-opacity="0.85" stroke-dasharray="1.1,1.3"/>
<rect x="585.6" y="80.6" width="5.2" height="19.4" fill="none" stroke="#222" stroke-width="0.5" stroke-opacity="0.6"/>
<line x1="585.6" y1="90.9" x2="590.8000000000001" y2="90.9" stroke="#222" stroke-width="0.6" stroke-opacity="0.8"/>
<line x1="617.2" y1="71.3" x2="617.2" y2="128.3" stroke="#111" stroke-width="0.9" stroke-opacity="0.85" stroke-dasharray="1.1,1.3"/>
<rect x="614.6" y="102.6" width="5.2" height="15.7" fill="none" stroke="#222" stroke-width="0.5" stroke-opacity="0.6"/>
<line x1="614.6" y1="112.0" x2="619.8000000000001" y2="112.0" stroke="#222" stroke-width="0.6" stroke-opacity="0.8"/>
<line x1="647" y1="98.1" x2="647" y2="141.7" stroke="#111" stroke-width="0.9" stroke-opacity="0.85" stroke-dasharray="1.1,1.3"/>
<rect x="644.4" y="119.6" width="5.2" height="14.2" fill="none" stroke="#222" stroke-width="0.5" stroke-opacity="0.6"/>
<line x1="644.4" y1="128.0" x2="649.6" y2="128.0" stroke="#222" stroke-width="0.6" stroke-opacity="0.8"/>
<line x1="676.4" y1="92.3" x2="676.4" y2="143.8" stroke="#111" stroke-width="0.9" stroke-opacity="0.85" stroke-dasharray="1.1,1.3"/>
<rect x="673.8" y="117.2" width="5.2" height="17.6" fill="none" stroke="#222" stroke-width="0.5" stroke-opacity="0.6"/>
<line x1="673.8" y1="128.0" x2="679.0" y2="128.0" stroke="#222" stroke-width="0.6" stroke-opacity="0.8"/>
<line x1="705.5" y1="91.7" x2="705.5" y2="143.8" stroke="#111" stroke-width="0.9" stroke-opacity="0.85" stroke-dasharray="1.1,1.3"/>
<rect x="702.9" y="117.0" width="5.2" height="17.6" fill="none" stroke="#222" stroke-width="0.5" stroke-opacity="0.6"/>
<line x1="702.9" y1="128.5" x2="708.1" y2="128.5" stroke="#222" stroke-width="0.6" stroke-opacity="0.8"/>
<rect x="578" y="28" width="142" height="120" fill="none" stroke="#000" stroke-width="2"/>
<polyline points="405.5,186.3 434.0,228.0 463.6,247.3 492.9,252.5 522.2,260.6" fill="none" stroke="#b83030" stroke-opacity="0.33" stroke-width="0.5"/>
<polyline points="405.5,200.5 434.0,231.0 463.6,244.4 492.9,252.5 522.2,261.2" fill="none" stroke="#b83030" stroke-opacity="0.33" stroke-width="0.5"/>
<polyline points="405.5,186.3 434.0,242.1 463.6,248.5 492.9,255.6 522.2,263.4" fill="none" stroke="#b83030" stroke-opacity="0.33" stroke-width="0.5"/>
<polyline points="405.5,209.0 434.0,245.1 463.6,244.4 492.9,263.7 522.2,260.3" fill="none" stroke="#b83030" stroke-opacity="0.33" stroke-width="0.5"/>
<polyline points="405.5,209.1 434.0,236.6 463.6,258.2 492.9,255.9 522.2,268.3" fill="none" stroke="#b83030" stroke-opacity="0.33" stroke-width="0.5"/>
<polyline points="405.5,194.0 434.0,238.4 463.6,259.5 492.9,261.2 522.2,270.8" fill="none" stroke="#b83030" stroke-opacity="0.33" stroke-width="0.5"/>
<polyline points="405.5,217.1 434.0,228.0 463.6,255.7 492.9,258.1 522.2,270.8" fill="none" stroke="#b83030" stroke-opacity="0.33" stroke-width="0.5"/>
<polyline points="405.5,210.3 434.0,245.2 463.6,260.3 492.9,268.4 522.2,275.6" fill="none" stroke="#b83030" stroke-opacity="0.33" stroke-width="0.5"/>
<polyline points="405.5,205.6 434.0,252.2 463.6,258.3 492.9,269.1 522.2,269.8" fill="none" stroke="#b83030" stroke-opacity="0.33" stroke-width="0.5"/>
<polyline points="405.5,217.0 434.0,253.9 463.6,264.9 492.9,273.6 522.2,275.6" fill="none" stroke="#b83030" stroke-opacity="0.33" stroke-width="0.5"/>
<polyline points="405.5,213.0 434.0,259.8 463.6,264.7 492.9,270.9 522.2,278.2" fill="none" stroke="#b83030" stroke-opacity="0.33" stroke-width="0.5"/>
<polyline points="405.5,227.1 434.0,254.8 463.6,263.2 492.9,264.7 522.2,278.7" fill="none" stroke="#b83030" stroke-opacity="0.33" stroke-width="0.5"/>
<polyline points="405.5,223.7 434.0,255.2 463.6,267.9 492.9,270.8 522.2,276.8" fill="none" stroke="#b83030" stroke-opacity="0.33" stroke-width="0.5"/>
<polyline points="405.5,221.9 434.0,253.8 463.6,263.9 492.9,275.3 522.2,280.7" fill="none" stroke="#b83030" stroke-opacity="0.33" stroke-width="0.5"/>
<polyline points="405.5,221.7 434.0,258.4 463.6,267.5 492.9,272.3 522.2,278.0" fill="none" stroke="#b83030" stroke-opacity="0.33" stroke-width="0.5"/>
<polyline points="405.5,228.8 434.0,263.8 463.6,270.3 492.9,279.4 522.2,280.4" fill="none" stroke="#b83030" stroke-opacity="0.33" stroke-width="0.5"/>
<polyline points="405.5,226.7 434.0,262.7 463.6,267.2 492.9,277.7 522.2,279.9" fill="none" stroke="#b83030" stroke-opacity="0.33" stroke-width="0.5"/>
<polyline points="405.5,229.7 434.0,266.4 463.6,272.7 492.9,277.7 522.2,283.0" fill="none" stroke="#b83030" stroke-opacity="0.33" stroke-width="0.5"/>
<polyline points="405.5,226.0 434.0,265.2 463.6,271.4 492.9,277.9 522.2,279.6" fill="none" stroke="#b83030" stroke-opacity="0.33" stroke-width="0.5"/>
<polyline points="405.5,235.4 434.0,263.0 463.6,272.5 492.9,278.7 522.2,280.6" fill="none" stroke="#b83030" stroke-opacity="0.33" stroke-width="0.5"/>
<polyline points="405.5,223.5 434.0,266.5 463.6,272.8 492.9,277.9 522.2,280.5" fill="none" stroke="#b83030" stroke-opacity="0.33" stroke-width="0.5"/>
<polyline points="405.5,226.9 434.0,265.4 463.6,272.7 492.9,280.6 522.2,283.9" fill="none" stroke="#b83030" stroke-opacity="0.33" stroke-width="0.5"/>
<polyline points="405.5,234.0 434.0,269.1 463.6,273.8 492.9,281.7 522.2,283.2" fill="none" stroke="#b83030" stroke-opacity="0.33" stroke-width="0.5"/>
<polyline points="405.5,230.7 434.0,269.5 463.6,273.8 492.9,279.1 522.2,283.7" fill="none" stroke="#b83030" stroke-opacity="0.33" stroke-width="0.5"/>
<polyline points="405.5,236.0 434.0,272.7 463.6,279.0 492.9,284.6 522.2,286.0" fill="none" stroke="#b83030" stroke-opacity="0.33" stroke-width="0.5"/>
<polyline points="405.5,241.7 434.0,270.3 463.6,278.9 492.9,283.6 522.2,284.7" fill="none" stroke="#b83030" stroke-opacity="0.33" stroke-width="0.5"/>
<polyline points="405.5,232.7 434.0,273.5 463.6,278.4 492.9,283.4 522.2,284.4" fill="none" stroke="#b83030" stroke-opacity="0.33" stroke-width="0.5"/>
<polyline points="405.5,240.3 434.0,270.9 463.6,282.2 492.9,283.4 522.2,285.5" fill="none" stroke="#b83030" stroke-opacity="0.33" stroke-width="0.5"/>
<polyline points="405.5,240.9 434.0,277.3 463.6,280.2 492.9,285.3 522.2,285.0" fill="none" stroke="#b83030" stroke-opacity="0.33" stroke-width="0.5"/>
<polyline points="405.5,244.8 434.0,275.2 463.6,282.8 492.9,283.4 522.2,283.9" fill="none" stroke="#b83030" stroke-opacity="0.33" stroke-width="0.5"/>
<polyline points="405.5,246.5 434.0,273.8 463.6,278.0 492.9,284.5 522.2,287.9" fill="none" stroke="#b83030" stroke-opacity="0.33" stroke-width="0.5"/>
<polyline points="405.5,238.4 434.0,276.9 463.6,282.5 492.9,286.0 522.2,285.6" fill="none" stroke="#b83030" stroke-opacity="0.33" stroke-width="0.5"/>
<polyline points="405.5,248.0 434.0,275.7 463.6,282.1 492.9,286.1 522.2,288.8" fill="none" stroke="#b83030" stroke-opacity="0.33" stroke-width="0.5"/>
<polyline points="405.5,247.2 434.0,275.8 463.6,278.3 492.9,288.0 522.2,287.6" fill="none" stroke="#b83030" stroke-opacity="0.33" stroke-width="0.5"/>
<polyline points="405.5,243.3 434.0,274.9 463.6,282.5 492.9,285.8 522.2,288.1" fill="none" stroke="#b83030" stroke-opacity="0.33" stroke-width="0.5"/>
<polyline points="405.5,247.0 434.0,280.2 463.6,283.2 492.9,286.8 522.2,289.9" fill="none" stroke="#b83030" stroke-opacity="0.33" stroke-width="0.5"/>
<polyline points="405.5,250.5 434.0,278.8 463.6,283.7 492.9,288.2 522.2,289.3" fill="none" stroke="#b83030" stroke-opacity="0.33" stroke-width="0.5"/>
<polyline points="405.5,250.3 434.0,280.8 463.6,283.3 492.9,289.4 522.2,289.0" fill="none" stroke="#b83030" stroke-opacity="0.33" stroke-width="0.5"/>
<polyline points="405.5,251.7 434.0,282.1 463.6,286.2 492.9,287.3 522.2,289.6" fill="none" stroke="#b83030" stroke-opacity="0.33" stroke-width="0.5"/>
<polyline points="405.5,256.2 434.0,281.5 463.6,286.9 492.9,290.1 522.2,289.9" fill="none" stroke="#b83030" stroke-opacity="0.33" stroke-width="0.5"/>
<polyline points="405.5,257.5 434.0,282.5 463.6,284.6 492.9,290.4 522.2,288.7" fill="none" stroke="#b83030" stroke-opacity="0.33" stroke-width="0.5"/>
<polyline points="405.5,255.8 434.0,282.7 463.6,288.5 492.9,288.5 522.2,289.5" fill="none" stroke="#b83030" stroke-opacity="0.33" stroke-width="0.5"/>
<polyline points="405.5,264.6 434.0,283.2 463.6,288.4 492.9,290.9 522.2,290.7" fill="none" stroke="#b83030" stroke-opacity="0.33" stroke-width="0.5"/>
<polyline points="405.5,258.7 434.0,284.3 463.6,286.6 492.9,288.3 522.2,290.8" fill="none" stroke="#b83030" stroke-opacity="0.33" stroke-width="0.5"/>
<polyline points="405.5,258.1 434.0,283.5 463.6,285.3 492.9,290.4 522.2,290.6" fill="none" stroke="#b83030" stroke-opacity="0.33" stroke-width="0.5"/>
<polyline points="405.5,261.9 434.0,283.4 463.6,286.4 492.9,291.5 522.2,290.4" fill="none" stroke="#b83030" stroke-opacity="0.33" stroke-width="0.5"/>
<polyline points="405.5,269.4 434.0,282.5 463.6,289.3 492.9,288.8 522.2,290.9" fill="none" stroke="#b83030" stroke-opacity="0.33" stroke-width="0.5"/>
<polyline points="405.5,257.5 434.0,284.4 463.6,288.4 492.9,292.1 522.2,293.0" fill="none" stroke="#b83030" stroke-opacity="0.33" stroke-width="0.5"/>
<polyline points="405.5,270.3 434.0,287.0 463.6,288.1 492.9,290.5 522.2,292.5" fill="none" stroke="#b83030" stroke-opacity="0.33" stroke-width="0.5"/>
<polyline points="405.5,257.5 434.0,287.5 463.6,288.3 492.9,290.6 522.2,292.0" fill="none" stroke="#b83030" stroke-opacity="0.33" stroke-width="0.5"/>
<polyline points="405.5,258.3 434.0,289.2 463.6,289.4 492.9,293.7 522.2,294.2" fill="none" stroke="#b83030" stroke-opacity="0.33" stroke-width="0.5"/>
<polyline points="405.5,264.8 434.0,289.9 463.6,291.6 492.9,290.6 522.2,294.0" fill="none" stroke="#b83030" stroke-opacity="0.33" stroke-width="0.5"/>
<polyline points="405.5,276.7 434.0,288.6 463.6,289.8 492.9,293.8 522.2,293.5" fill="none" stroke="#b83030" stroke-opacity="0.33" stroke-width="0.5"/>
<polyline points="405.5,269.3 434.0,290.2 463.6,292.9 492.9,292.1 522.2,296.4" fill="none" stroke="#b83030" stroke-opacity="0.33" stroke-width="0.5"/>
<polyline points="405.5,277.7 434.0,289.0 463.6,293.7 492.9,296.4 522.2,294.4" fill="none" stroke="#b83030" stroke-opacity="0.33" stroke-width="0.5"/>
<polyline points="405.5,276.4 434.0,292.5 463.6,293.6 492.9,294.1 522.2,295.0" fill="none" stroke="#b83030" stroke-opacity="0.33" stroke-width="0.5"/>
<polyline points="405.5,276.0 434.0,290.4 463.6,293.7 492.9,296.4 522.2,296.2" fill="none" stroke="#b83030" stroke-opacity="0.33" stroke-width="0.5"/>
<polyline points="405.5,274.1 434.0,291.1 463.6,291.4 492.9,295.8 522.2,294.8" fill="none" stroke="#b83030" stroke-opacity="0.33" stroke-width="0.5"/>
<polyline points="405.5,275.4 434.0,290.7 463.6,291.5 492.9,295.0 522.2,296.4" fill="none" stroke="#b83030" stroke-opacity="0.33" stroke-width="0.5"/>
<polyline points="405.5,286.9 434.0,292.2 463.6,296.3 492.9,295.7 522.2,296.4" fill="none" stroke="#b83030" stroke-opacity="0.33" stroke-width="0.5"/>
<path d="M406.10,184.20 L406.13,185.46 L406.16,187.19 L406.20,189.25 L406.25,191.51 L406.30,193.85 L406.36,196.13 L406.43,198.22 L406.50,200.00 L406.58,201.48 L406.67,202.81 L406.77,204.01 L406.88,205.12 L406.98,206.18 L407.09,207.22 L407.20,208.28 L407.30,209.40 L407.40,210.51 L407.49,211.57 L407.58,212.60 L407.68,213.63 L407.77,214.71 L407.87,215.85 L407.98,217.11 L408.10,218.50 L408.24,220.07 L408.39,221.79 L408.56,223.62 L408.73,225.53 L408.89,227.46 L409.05,229.37 L409.19,231.24 L409.30,233.00 L409.40,234.67 L409.48,236.29 L409.55,237.87 L409.61,239.43 L409.66,240.98 L409.69,242.53 L409.70,244.10 L409.70,245.70 L409.68,247.31 L409.64,248.92 L409.58,250.53 L409.51,252.15 L409.42,253.79 L409.32,255.45 L409.22,257.16 L409.10,258.90 L408.97,260.70 L408.82,262.56 L408.66,264.47 L408.49,266.39 L408.32,268.33 L408.14,270.25 L407.97,272.15 L407.80,274.00 L407.63,275.91 L407.44,277.93 L407.26,279.98 L407.07,281.99 L406.89,283.89 L406.73,285.59 L406.60,287.02 L406.50,288.10 L404.50,288.10 L404.40,287.02 L404.27,285.59 L404.11,283.89 L403.93,281.99 L403.74,279.98 L403.56,277.93 L403.37,275.91 L403.20,274.00 L403.03,272.15 L402.86,270.25 L402.68,268.33 L402.51,266.39 L402.34,264.47 L402.18,262.56 L402.03,260.70 L401.90,258.90 L401.78,257.16 L401.68,255.45 L401.58,253.79 L401.49,252.15 L401.42,250.53 L401.36,248.92 L401.32,247.31 L401.30,245.70 L401.30,244.10 L401.31,242.53 L401.34,240.98 L401.39,239.43 L401.45,237.87 L401.52,236.29 L401.60,234.67 L401.70,233.00 L401.81,231.24 L401.95,229.37 L402.11,227.46 L402.27,225.53 L402.44,223.62 L402.61,221.79 L402.76,220.07 L402.90,218.50 L403.02,217.11 L403.13,215.85 L403.23,214.71 L403.32,213.63 L403.42,212.60 L403.51,211.57 L403.60,210.51 L403.70,209.40 L403.80,208.28 L403.91,207.22 L404.02,206.18 L404.12,205.12 L404.23,204.01 L404.33,202.81 L404.42,201.48 L404.50,200.00 L404.57,198.22 L404.64,196.13 L404.70,193.85 L404.75,191.51 L404.80,189.25 L404.84,187.19 L404.87,185.46 L404.90,184.20 Z" fill="#4a6aae" fill-opacity="0.86" stroke="#222" stroke-width="0.6"/>
<path d="M434.80,226.70 L434.85,228.14 L434.92,230.09 L435.00,232.42 L435.09,234.98 L435.18,237.66 L435.29,240.31 L435.39,242.80 L435.50,245.00 L435.60,246.94 L435.69,248.76 L435.79,250.48 L435.89,252.15 L436.00,253.79 L436.14,255.44 L436.30,257.14 L436.50,258.90 L436.75,260.77 L437.05,262.72 L437.39,264.73 L437.75,266.73 L438.11,268.70 L438.45,270.60 L438.75,272.38 L439.00,274.00 L439.21,275.47 L439.40,276.82 L439.57,278.07 L439.72,279.23 L439.84,280.33 L439.93,281.38 L439.98,282.40 L440.00,283.40 L439.98,284.37 L439.91,285.29 L439.82,286.16 L439.69,286.99 L439.54,287.79 L439.37,288.55 L439.19,289.29 L439.00,290.00 L438.78,290.71 L438.52,291.42 L438.24,292.11 L437.94,292.76 L437.65,293.37 L437.38,293.90 L437.16,294.35 L437.00,294.70 L431.00,294.70 L430.84,294.35 L430.62,293.90 L430.35,293.37 L430.06,292.76 L429.76,292.11 L429.48,291.42 L429.22,290.71 L429.00,290.00 L428.81,289.29 L428.63,288.55 L428.46,287.79 L428.31,286.99 L428.18,286.16 L428.09,285.29 L428.02,284.37 L428.00,283.40 L428.02,282.40 L428.07,281.38 L428.16,280.33 L428.28,279.23 L428.43,278.07 L428.60,276.82 L428.79,275.47 L429.00,274.00 L429.25,272.38 L429.55,270.60 L429.89,268.70 L430.25,266.73 L430.61,264.73 L430.95,262.72 L431.25,260.77 L431.50,258.90 L431.70,257.14 L431.86,255.44 L432.00,253.79 L432.11,252.15 L432.21,250.48 L432.31,248.76 L432.40,246.94 L432.50,245.00 L432.61,242.80 L432.71,240.31 L432.82,237.66 L432.91,234.98 L433.00,232.42 L433.08,230.09 L433.15,228.14 L433.20,226.70 Z" fill="#d4961e" fill-opacity="0.86" stroke="#222" stroke-width="0.6"/>
<path d="M465.10,243.50 L465.17,244.39 L465.27,245.58 L465.38,247.00 L465.51,248.57 L465.64,250.23 L465.79,251.90 L465.94,253.51 L466.10,255.00 L466.25,256.37 L466.40,257.70 L466.56,259.00 L466.73,260.30 L466.91,261.62 L467.11,262.98 L467.34,264.40 L467.60,265.90 L467.90,267.54 L468.24,269.33 L468.61,271.20 L468.99,273.09 L469.39,274.96 L469.80,276.74 L470.21,278.37 L470.60,279.80 L471.03,281.02 L471.51,282.08 L472.02,283.01 L472.53,283.84 L472.99,284.61 L473.38,285.34 L473.66,286.06 L473.80,286.80 L473.80,287.54 L473.67,288.24 L473.45,288.91 L473.15,289.55 L472.79,290.17 L472.40,290.78 L472.00,291.39 L471.60,292.00 L471.16,292.64 L470.63,293.30 L470.06,293.97 L469.46,294.62 L468.89,295.24 L468.36,295.79 L467.92,296.25 L467.60,296.60 L459.60,296.60 L459.28,296.25 L458.84,295.79 L458.31,295.24 L457.74,294.62 L457.14,293.97 L456.57,293.30 L456.04,292.64 L455.60,292.00 L455.20,291.39 L454.80,290.78 L454.41,290.17 L454.05,289.55 L453.75,288.91 L453.53,288.24 L453.40,287.54 L453.40,286.80 L453.54,286.06 L453.83,285.34 L454.21,284.61 L454.68,283.84 L455.18,283.01 L455.69,282.08 L456.17,281.02 L456.60,279.80 L456.99,278.37 L457.40,276.74 L457.81,274.96 L458.21,273.09 L458.59,271.20 L458.96,269.33 L459.30,267.54 L459.60,265.90 L459.86,264.40 L460.09,262.98 L460.29,261.62 L460.48,260.30 L460.64,259.00 L460.80,257.70 L460.95,256.37 L461.10,255.00 L461.26,253.51 L461.41,251.90 L461.56,250.23 L461.69,248.57 L461.82,247.00 L461.93,245.58 L462.03,244.39 L462.10,243.50 Z" fill="#d9492e" fill-opacity="0.86" stroke="#222" stroke-width="0.6"/>
<path d="M494.90,251.90 L494.89,253.03 L494.86,254.60 L494.83,256.47 L494.81,258.52 L494.79,260.61 L494.79,262.63 L494.83,264.43 L494.90,265.90 L495.02,267.03 L495.17,267.94 L495.35,268.69 L495.56,269.34 L495.77,269.94 L495.99,270.54 L496.20,271.21 L496.40,272.00 L496.55,272.89 L496.66,273.82 L496.74,274.77 L496.83,275.76 L496.96,276.76 L497.17,277.77 L497.47,278.78 L497.90,279.80 L498.54,280.85 L499.41,281.94 L500.41,283.06 L501.46,284.19 L502.47,285.29 L503.38,286.34 L504.08,287.32 L504.50,288.20 L504.62,288.98 L504.53,289.68 L504.26,290.32 L503.86,290.90 L503.38,291.45 L502.86,291.97 L502.35,292.48 L501.90,293.00 L501.44,293.53 L500.90,294.07 L500.33,294.60 L499.74,295.10 L499.17,295.57 L498.65,295.98 L498.22,296.33 L497.90,296.60 L487.90,296.60 L487.58,296.33 L487.15,295.98 L486.63,295.57 L486.06,295.10 L485.47,294.60 L484.90,294.07 L484.36,293.53 L483.90,293.00 L483.45,292.48 L482.94,291.97 L482.42,291.45 L481.94,290.90 L481.54,290.32 L481.27,289.68 L481.18,288.98 L481.30,288.20 L481.72,287.32 L482.42,286.34 L483.33,285.29 L484.34,284.19 L485.39,283.06 L486.39,281.94 L487.26,280.85 L487.90,279.80 L488.33,278.78 L488.63,277.77 L488.84,276.76 L488.97,275.76 L489.06,274.77 L489.14,273.82 L489.25,272.89 L489.40,272.00 L489.60,271.21 L489.81,270.54 L490.03,269.94 L490.24,269.34 L490.45,268.69 L490.63,267.94 L490.78,267.03 L490.90,265.90 L490.97,264.43 L491.01,262.63 L491.01,260.61 L490.99,258.52 L490.97,256.47 L490.94,254.60 L490.91,253.03 L490.90,251.90 Z" fill="#58dde6" fill-opacity="0.86" stroke="#222" stroke-width="0.6"/>
<path d="M524.20,259.70 L524.26,260.62 L524.31,261.84 L524.37,263.29 L524.45,264.91 L524.56,266.61 L524.72,268.32 L524.92,269.98 L525.20,271.50 L525.54,272.94 L525.93,274.39 L526.37,275.83 L526.86,277.26 L527.39,278.67 L527.96,280.03 L528.56,281.35 L529.20,282.60 L529.98,283.80 L530.95,284.96 L532.03,286.07 L533.11,287.14 L534.11,288.17 L534.91,289.16 L535.44,290.10 L535.60,291.00 L535.28,291.87 L534.55,292.73 L533.51,293.55 L532.30,294.32 L531.04,295.03 L529.85,295.66 L528.87,296.19 L528.20,296.60 L516.20,296.60 L515.53,296.19 L514.55,295.66 L513.36,295.03 L512.10,294.32 L510.89,293.55 L509.85,292.73 L509.12,291.87 L508.80,291.00 L508.96,290.10 L509.49,289.16 L510.29,288.17 L511.29,287.14 L512.37,286.07 L513.45,284.96 L514.42,283.80 L515.20,282.60 L515.84,281.35 L516.44,280.03 L517.01,278.67 L517.54,277.26 L518.03,275.83 L518.47,274.39 L518.86,272.94 L519.20,271.50 L519.48,269.98 L519.68,268.32 L519.84,266.61 L519.95,264.91 L520.03,263.29 L520.09,261.84 L520.14,260.62 L520.20,259.70 Z" fill="#5d6882" fill-opacity="0.86" stroke="#222" stroke-width="0.6"/>
<line x1="405.5" y1="184.2" x2="405.5" y2="288.1" stroke="#111" stroke-width="0.9" stroke-opacity="0.85" stroke-dasharray="1.1,1.3"/>
<rect x="402.9" y="225.7" width="5.2" height="33.8" fill="none" stroke="#222" stroke-width="0.5" stroke-opacity="0.6"/>
<line x1="402.9" y1="243.0" x2="408.1" y2="243.0" stroke="#222" stroke-width="0.6" stroke-opacity="0.8"/>
<line x1="434" y1="226.7" x2="434" y2="294.7" stroke="#111" stroke-width="0.9" stroke-opacity="0.85" stroke-dasharray="1.1,1.3"/>
<rect x="431.4" y="261.1" width="5.2" height="22.9" fill="none" stroke="#222" stroke-width="0.5" stroke-opacity="0.6"/>
<line x1="431.4" y1="274.6" x2="436.6" y2="274.6" stroke="#222" stroke-width="0.6" stroke-opacity="0.8"/>
<line x1="463.6" y1="243.5" x2="463.6" y2="296.6" stroke="#111" stroke-width="0.9" stroke-opacity="0.85" stroke-dasharray="1.1,1.3"/>
<rect x="461.0" y="268.3" width="5.2" height="19.5" fill="none" stroke="#222" stroke-width="0.5" stroke-opacity="0.6"/>
<line x1="461.0" y1="280.2" x2="466.20000000000005" y2="280.2" stroke="#222" stroke-width="0.6" stroke-opacity="0.8"/>
<line x1="492.9" y1="251.9" x2="492.9" y2="296.6" stroke="#111" stroke-width="0.9" stroke-opacity="0.85" stroke-dasharray="1.1,1.3"/>
<rect x="490.29999999999995" y="275.4" width="5.2" height="14.7" fill="none" stroke="#222" stroke-width="0.5" stroke-opacity="0.6"/>
<line x1="490.29999999999995" y1="285.0" x2="495.5" y2="285.0" stroke="#222" stroke-width="0.6" stroke-opacity="0.8"/>
<line x1="522.2" y1="259.7" x2="522.2" y2="296.6" stroke="#111" stroke-width="0.9" stroke-opacity="0.85" stroke-dasharray="1.1,1.3"/>
<rect x="519.6" y="278.7" width="5.2" height="12.4" fill="none" stroke="#222" stroke-width="0.5" stroke-opacity="0.6"/>
<line x1="519.6" y1="286.5" x2="524.8000000000001" y2="286.5" stroke="#222" stroke-width="0.6" stroke-opacity="0.8"/>
<rect x="394" y="182" width="143" height="120" fill="none" stroke="#000" stroke-width="2"/>
<polyline points="593.4,226.4 621.9,199.2 651.0,194.9 679.4,186.8 707.5,184.8" fill="none" stroke="#b83030" stroke-opacity="0.33" stroke-width="0.5"/>
<polyline points="593.4,237.9 621.9,200.9 651.0,199.8 679.4,186.8 707.5,191.7" fill="none" stroke="#b83030" stroke-opacity="0.33" stroke-width="0.5"/>
<polyline points="593.4,234.0 621.9,210.7 651.0,195.3 679.4,194.0 707.5,190.9" fill="none" stroke="#b83030" stroke-opacity="0.33" stroke-width="0.5"/>
<polyline points="593.4,229.3 621.9,201.2 651.0,197.3 679.4,196.7 707.5,195.2" fill="none" stroke="#b83030" stroke-opacity="0.33" stroke-width="0.5"/>
<polyline points="593.4,237.1 621.9,209.4 651.0,202.3 679.4,203.8 707.5,185.0" fill="none" stroke="#b83030" stroke-opacity="0.33" stroke-width="0.5"/>
<polyline points="593.4,245.9 621.9,206.0 651.0,199.3 679.4,198.6 707.5,194.7" fill="none" stroke="#b83030" stroke-opacity="0.33" stroke-width="0.5"/>
<polyline points="593.4,242.0 621.9,211.8 651.0,208.1 679.4,204.2 707.5,196.2" fill="none" stroke="#b83030" stroke-opacity="0.33" stroke-width="0.5"/>
<polyline points="593.4,244.7 621.9,215.7 651.0,209.4 679.4,201.6 707.5,199.2" fill="none" stroke="#b83030" stroke-opacity="0.33" stroke-width="0.5"/>
<polyline points="593.4,248.7 621.9,218.2 651.0,210.9 679.4,205.6 707.5,202.7" fill="none" stroke="#b83030" stroke-opacity="0.33" stroke-width="0.5"/>
<polyline points="593.4,249.4 621.9,213.6 651.0,208.4 679.4,202.9 707.5,200.9" fill="none" stroke="#b83030" stroke-opacity="0.33" stroke-width="0.5"/>
<polyline points="593.4,246.8 621.9,221.0 651.0,211.7 679.4,208.4 707.5,203.3" fill="none" stroke="#b83030" stroke-opacity="0.33" stroke-width="0.5"/>
<polyline points="593.4,255.1 621.9,223.0 651.0,212.2 679.4,208.4 707.5,202.6" fill="none" stroke="#b83030" stroke-opacity="0.33" stroke-width="0.5"/>
<polyline points="593.4,250.4 621.9,216.7 651.0,210.3 679.4,209.9 707.5,201.0" fill="none" stroke="#b83030" stroke-opacity="0.33" stroke-width="0.5"/>
<polyline points="593.4,251.4 621.9,223.3 651.0,214.4 679.4,209.2 707.5,204.7" fill="none" stroke="#b83030" stroke-opacity="0.33" stroke-width="0.5"/>
<polyline points="593.4,254.0 621.9,225.3 651.0,212.6 679.4,215.4 707.5,205.9" fill="none" stroke="#b83030" stroke-opacity="0.33" stroke-width="0.5"/>
<polyline points="593.4,255.4 621.9,226.1 651.0,217.1 679.4,214.1 707.5,208.7" fill="none" stroke="#b83030" stroke-opacity="0.33" stroke-width="0.5"/>
<polyline points="593.4,256.6 621.9,230.4 651.0,216.4 679.4,214.6 707.5,206.3" fill="none" stroke="#b83030" stroke-opacity="0.33" stroke-width="0.5"/>
<polyline points="593.4,255.4 621.9,228.5 651.0,216.2 679.4,212.8 707.5,209.1" fill="none" stroke="#b83030" stroke-opacity="0.33" stroke-width="0.5"/>
<polyline points="593.4,258.8 621.9,228.3 651.0,219.7 679.4,215.0 707.5,208.7" fill="none" stroke="#b83030" stroke-opacity="0.33" stroke-width="0.5"/>
<polyline points="593.4,261.1 621.9,230.9 651.0,218.4 679.4,218.0 707.5,210.8" fill="none" stroke="#b83030" stroke-opacity="0.33" stroke-width="0.5"/>
<polyline points="593.4,260.9 621.9,230.8 651.0,219.6 679.4,217.9 707.5,213.0" fill="none" stroke="#b83030" stroke-opacity="0.33" stroke-width="0.5"/>
<polyline points="593.4,261.3 621.9,233.5 651.0,222.1 679.4,216.8 707.5,214.1" fill="none" stroke="#b83030" stroke-opacity="0.33" stroke-width="0.5"/>
<polyline points="593.4,261.5 621.9,232.4 651.0,221.1 679.4,219.7 707.5,214.7" fill="none" stroke="#b83030" stroke-opacity="0.33" stroke-width="0.5"/>
<polyline points="593.4,262.4 621.9,234.0 651.0,221.9 679.4,219.0 707.5,214.0" fill="none" stroke="#b83030" stroke-opacity="0.33" stroke-width="0.5"/>
<polyline points="593.4,262.3 621.9,234.4 651.0,225.2 679.4,219.8 707.5,215.6" fill="none" stroke="#b83030" stroke-opacity="0.33" stroke-width="0.5"/>
<polyline points="593.4,263.3 621.9,236.0 651.0,225.6 679.4,223.0 707.5,215.6" fill="none" stroke="#b83030" stroke-opacity="0.33" stroke-width="0.5"/>
<polyline points="593.4,262.8 621.9,233.9 651.0,224.3 679.4,221.4 707.5,218.1" fill="none" stroke="#b83030" stroke-opacity="0.33" stroke-width="0.5"/>
<polyline points="593.4,264.3 621.9,240.0 651.0,224.7 679.4,223.3 707.5,218.6" fill="none" stroke="#b83030" stroke-opacity="0.33" stroke-width="0.5"/>
<polyline points="593.4,265.4 621.9,239.7 651.0,225.8 679.4,224.5 707.5,220.9" fill="none" stroke="#b83030" stroke-opacity="0.33" stroke-width="0.5"/>
<polyline points="593.4,266.2 621.9,238.3 651.0,227.6 679.4,223.4 707.5,223.7" fill="none" stroke="#b83030" stroke-opacity="0.33" stroke-width="0.5"/>
<polyline points="593.4,265.9 621.9,238.6 651.0,231.9 679.4,224.6 707.5,221.1" fill="none" stroke="#b83030" stroke-opacity="0.33" stroke-width="0.5"/>
<polyline points="593.4,270.2 621.9,243.7 651.0,227.9 679.4,224.8 707.5,223.1" fill="none" stroke="#b83030" stroke-opacity="0.33" stroke-width="0.5"/>
<polyline points="593.4,267.9 621.9,241.9 651.0,231.5 679.4,228.2 707.5,223.3" fill="none" stroke="#b83030" stroke-opacity="0.33" stroke-width="0.5"/>
<polyline points="593.4,267.4 621.9,241.0 651.0,230.5 679.4,225.1 707.5,225.1" fill="none" stroke="#b83030" stroke-opacity="0.33" stroke-width="0.5"/>
<polyline points="593.4,267.7 621.9,244.1 651.0,231.2 679.4,226.2 707.5,222.6" fill="none" stroke="#b83030" stroke-opacity="0.33" stroke-width="0.5"/>
<polyline points="593.4,267.4 621.9,244.7 651.0,232.2 679.4,229.3 707.5,224.2" fill="none" stroke="#b83030" stroke-opacity="0.33" stroke-width="0.5"/>
<polyline points="593.4,269.8 621.9,245.4 651.0,232.9 679.4,230.0 707.5,226.2" fill="none" stroke="#b83030" stroke-opacity="0.33" stroke-width="0.5"/>
<polyline points="593.4,272.7 621.9,248.5 651.0,234.8 679.4,229.6 707.5,227.1" fill="none" stroke="#b83030" stroke-opacity="0.33" stroke-width="0.5"/>
<polyline points="593.4,271.1 621.9,245.7 651.0,234.9 679.4,229.8 707.5,229.0" fill="none" stroke="#b83030" stroke-opacity="0.33" stroke-width="0.5"/>
<polyline points="593.4,273.9 621.9,248.1 651.0,234.7 679.4,230.5 707.5,231.4" fill="none" stroke="#b83030" stroke-opacity="0.33" stroke-width="0.5"/>
<polyline points="593.4,271.9 621.9,248.1 651.0,236.2 679.4,231.3 707.5,227.5" fill="none" stroke="#b83030" stroke-opacity="0.33" stroke-width="0.5"/>
<polyline points="593.4,273.5 621.9,250.9 651.0,238.9 679.4,235.3 707.5,233.9" fill="none" stroke="#b83030" stroke-opacity="0.33" stroke-width="0.5"/>
<polyline points="593.4,275.2 621.9,249.9 651.0,239.0 679.4,235.8 707.5,231.7" fill="none" stroke="#b83030" stroke-opacity="0.33" stroke-width="0.5"/>
<polyline points="593.4,273.9 621.9,249.7 651.0,242.3 679.4,237.0 707.5,237.0" fill="none" stroke="#b83030" stroke-opacity="0.33" stroke-width="0.5"/>
<polyline points="593.4,274.9 621.9,252.7 651.0,241.2 679.4,237.7 707.5,235.8" fill="none" stroke="#b83030" stroke-opacity="0.33" stroke-width="0.5"/>
<polyline points="593.4,275.8 621.9,252.1 651.0,241.6 679.4,236.7 707.5,237.6" fill="none" stroke="#b83030" stroke-opacity="0.33" stroke-width="0.5"/>
<polyline points="593.4,276.5 621.9,255.4 651.0,245.9 679.4,233.8 707.5,237.8" fill="none" stroke="#b83030" stroke-opacity="0.33" stroke-width="0.5"/>
<polyline points="593.4,278.0 621.9,257.5 651.0,242.8 679.4,241.0 707.5,242.3" fill="none" stroke="#b83030" stroke-opacity="0.33" stroke-width="0.5"/>
<polyline points="593.4,279.2 621.9,256.5 651.0,242.5 679.4,242.8 707.5,242.7" fill="none" stroke="#b83030" stroke-opacity="0.33" stroke-width="0.5"/>
<polyline points="593.4,281.5 621.9,259.9 651.0,243.0 679.4,246.8 707.5,243.6" fill="none" stroke="#b83030" stroke-opacity="0.33" stroke-width="0.5"/>
<polyline points="593.4,281.3 621.9,264.8 651.0,249.3 679.4,248.1 707.5,243.8" fill="none" stroke="#b83030" stroke-opacity="0.33" stroke-width="0.5"/>
<polyline points="593.4,280.4 621.9,266.1 651.0,253.8 679.4,243.0 707.5,241.8" fill="none" stroke="#b83030" stroke-opacity="0.33" stroke-width="0.5"/>
<polyline points="593.4,282.6 621.9,262.4 651.0,248.8 679.4,246.4 707.5,246.8" fill="none" stroke="#b83030" stroke-opacity="0.33" stroke-width="0.5"/>
<polyline points="593.4,283.8 621.9,263.4 651.0,253.8 679.4,254.1 707.5,249.7" fill="none" stroke="#b83030" stroke-opacity="0.33" stroke-width="0.5"/>
<polyline points="593.4,283.6 621.9,274.5 651.0,255.1 679.4,255.3 707.5,244.2" fill="none" stroke="#b83030" stroke-opacity="0.33" stroke-width="0.5"/>
<polyline points="593.4,289.6 621.9,269.9 651.0,257.8 679.4,254.1 707.5,252.6" fill="none" stroke="#b83030" stroke-opacity="0.33" stroke-width="0.5"/>
<polyline points="593.4,286.8 621.9,273.0 651.0,263.5 679.4,258.4 707.5,254.5" fill="none" stroke="#b83030" stroke-opacity="0.33" stroke-width="0.5"/>
<polyline points="593.4,285.8 621.9,273.5 651.0,266.3 679.4,266.7 707.5,256.2" fill="none" stroke="#b83030" stroke-opacity="0.33" stroke-width="0.5"/>
<polyline points="593.4,295.2 621.9,272.5 651.0,271.8 679.4,259.9 707.5,260.0" fill="none" stroke="#b83030" stroke-opacity="0.33" stroke-width="0.5"/>
<polyline points="593.4,297.0 621.9,275.2 651.0,270.2 679.4,267.3 707.5,261.5" fill="none" stroke="#b83030" stroke-opacity="0.33" stroke-width="0.5"/>
<path d="M594.60,225.10 L594.68,225.19 L594.78,225.26 L594.91,225.33 L595.05,225.44 L595.20,225.63 L595.34,225.93 L595.48,226.37 L595.60,227.00 L595.69,227.81 L595.76,228.78 L595.82,229.89 L595.88,231.11 L595.95,232.43 L596.05,233.83 L596.20,235.29 L596.40,236.80 L596.64,238.38 L596.91,240.07 L597.20,241.84 L597.52,243.68 L597.90,245.57 L598.33,247.50 L598.83,249.45 L599.40,251.40 L600.16,253.37 L601.15,255.39 L602.27,257.45 L603.41,259.54 L604.48,261.64 L605.37,263.74 L605.97,265.83 L606.20,267.90 L605.99,269.97 L605.41,272.05 L604.57,274.13 L603.54,276.21 L602.42,278.28 L601.29,280.32 L600.26,282.33 L599.40,284.30 L598.65,286.32 L597.91,288.44 L597.17,290.58 L596.48,292.68 L595.83,294.64 L595.26,296.40 L594.77,297.88 L594.40,299.00 L592.40,299.00 L592.03,297.88 L591.54,296.40 L590.97,294.64 L590.32,292.68 L589.63,290.58 L588.89,288.44 L588.15,286.32 L587.40,284.30 L586.54,282.33 L585.51,280.32 L584.38,278.28 L583.26,276.21 L582.23,274.13 L581.39,272.05 L580.81,269.97 L580.60,267.90 L580.83,265.83 L581.43,263.74 L582.32,261.64 L583.39,259.54 L584.53,257.45 L585.65,255.39 L586.64,253.37 L587.40,251.40 L587.97,249.45 L588.47,247.50 L588.90,245.57 L589.27,243.68 L589.60,241.84 L589.89,240.07 L590.16,238.38 L590.40,236.80 L590.60,235.29 L590.75,233.83 L590.85,232.43 L590.92,231.11 L590.98,229.89 L591.04,228.78 L591.11,227.81 L591.20,227.00 L591.32,226.37 L591.46,225.93 L591.60,225.63 L591.75,225.44 L591.89,225.33 L592.02,225.26 L592.12,225.19 L592.20,225.10 Z" fill="#4a6aae" fill-opacity="0.86" stroke="#222" stroke-width="0.6"/>
<path d="M623.40,198.40 L623.51,198.41 L623.66,198.29 L623.83,198.14 L624.02,198.04 L624.23,198.09 L624.45,198.37 L624.68,198.98 L624.90,200.00 L625.11,201.48 L625.30,203.35 L625.49,205.55 L625.70,207.97 L625.93,210.56 L626.20,213.23 L626.52,215.90 L626.90,218.50 L627.42,221.08 L628.11,223.76 L628.88,226.50 L629.67,229.29 L630.41,232.10 L631.02,234.93 L631.44,237.73 L631.60,240.50 L631.45,243.25 L631.05,246.02 L630.45,248.80 L629.73,251.57 L628.95,254.32 L628.18,257.05 L627.47,259.75 L626.90,262.40 L626.42,265.14 L625.96,268.02 L625.52,270.95 L625.11,273.82 L624.73,276.51 L624.40,278.93 L624.12,280.96 L623.90,282.50 L619.90,282.50 L619.68,280.96 L619.40,278.93 L619.07,276.51 L618.69,273.82 L618.28,270.95 L617.84,268.02 L617.38,265.14 L616.90,262.40 L616.33,259.75 L615.62,257.05 L614.85,254.32 L614.07,251.57 L613.35,248.80 L612.75,246.02 L612.35,243.25 L612.20,240.50 L612.36,237.73 L612.78,234.93 L613.39,232.10 L614.13,229.29 L614.92,226.50 L615.69,223.76 L616.38,221.08 L616.90,218.50 L617.28,215.90 L617.60,213.23 L617.87,210.56 L618.10,207.97 L618.31,205.55 L618.50,203.35 L618.69,201.48 L618.90,200.00 L619.12,198.98 L619.35,198.37 L619.57,198.09 L619.77,198.04 L619.97,198.14 L620.14,198.29 L620.29,198.41 L620.40,198.40 Z" fill="#d4961e" fill-opacity="0.86" stroke="#222" stroke-width="0.6"/>
<path d="M653.50,192.20 L653.57,192.23 L653.64,192.16 L653.74,192.07 L653.84,192.02 L653.97,192.12 L654.12,192.42 L654.30,193.03 L654.50,194.00 L654.73,195.42 L654.98,197.24 L655.26,199.36 L655.56,201.69 L655.88,204.13 L656.23,206.60 L656.60,208.98 L657.00,211.20 L657.51,213.24 L658.15,215.19 L658.87,217.09 L659.59,218.99 L660.24,220.95 L660.75,223.01 L661.06,225.21 L661.10,227.60 L660.80,230.23 L660.21,233.05 L659.40,236.03 L658.46,239.11 L657.47,242.22 L656.51,245.33 L655.66,248.37 L655.00,251.30 L654.50,254.27 L654.06,257.41 L653.69,260.61 L653.37,263.73 L653.10,266.67 L652.86,269.31 L652.67,271.52 L652.50,273.20 L649.50,273.20 L649.33,271.52 L649.14,269.31 L648.90,266.67 L648.63,263.73 L648.31,260.61 L647.94,257.41 L647.50,254.27 L647.00,251.30 L646.34,248.37 L645.49,245.33 L644.53,242.22 L643.54,239.11 L642.60,236.03 L641.79,233.05 L641.20,230.23 L640.90,227.60 L640.94,225.21 L641.25,223.01 L641.76,220.95 L642.41,218.99 L643.13,217.09 L643.85,215.19 L644.49,213.24 L645.00,211.20 L645.40,208.98 L645.77,206.60 L646.12,204.13 L646.44,201.69 L646.74,199.36 L647.02,197.24 L647.27,195.42 L647.50,194.00 L647.70,193.03 L647.88,192.42 L648.03,192.12 L648.16,192.02 L648.26,192.07 L648.36,192.16 L648.43,192.23 L648.50,192.20 Z" fill="#d9492e" fill-opacity="0.86" stroke="#222" stroke-width="0.6"/>
<path d="M681.20,185.60 L681.31,185.72 L681.44,185.80 L681.60,185.89 L681.79,186.04 L681.98,186.28 L682.19,186.65 L682.40,187.21 L682.60,188.00 L682.80,189.08 L682.99,190.43 L683.19,191.99 L683.40,193.68 L683.62,195.41 L683.86,197.13 L684.11,198.75 L684.40,200.20 L684.70,201.46 L685.02,202.58 L685.34,203.63 L685.69,204.65 L686.07,205.69 L686.47,206.79 L686.92,208.01 L687.40,209.40 L688.02,210.93 L688.81,212.54 L689.69,214.24 L690.58,216.03 L691.39,217.89 L692.03,219.84 L692.43,221.88 L692.50,224.00 L692.18,226.20 L691.52,228.49 L690.62,230.86 L689.55,233.31 L688.41,235.85 L687.28,238.48 L686.25,241.20 L685.40,244.00 L684.68,247.11 L683.99,250.61 L683.32,254.31 L682.71,258.05 L682.14,261.63 L681.65,264.87 L681.23,267.59 L680.90,269.60 L677.90,269.60 L677.57,267.59 L677.15,264.87 L676.66,261.63 L676.09,258.05 L675.48,254.31 L674.81,250.61 L674.12,247.11 L673.40,244.00 L672.55,241.20 L671.52,238.48 L670.39,235.85 L669.25,233.31 L668.18,230.86 L667.28,228.49 L666.62,226.20 L666.30,224.00 L666.37,221.88 L666.77,219.84 L667.41,217.89 L668.22,216.03 L669.11,214.24 L669.99,212.54 L670.78,210.93 L671.40,209.40 L671.88,208.01 L672.33,206.79 L672.73,205.69 L673.11,204.65 L673.46,203.63 L673.78,202.58 L674.10,201.46 L674.40,200.20 L674.69,198.75 L674.94,197.13 L675.18,195.41 L675.40,193.68 L675.61,191.99 L675.81,190.43 L676.00,189.08 L676.20,188.00 L676.40,187.21 L676.61,186.65 L676.82,186.28 L677.01,186.04 L677.20,185.89 L677.36,185.80 L677.49,185.72 L677.60,185.60 Z" fill="#58dde6" fill-opacity="0.86" stroke="#222" stroke-width="0.6"/>
<path d="M709.30,183.80 L709.41,183.91 L709.56,184.00 L709.74,184.09 L709.94,184.24 L710.16,184.46 L710.38,184.81 L710.59,185.31 L710.80,186.00 L710.99,186.92 L711.16,188.05 L711.32,189.35 L711.49,190.76 L711.69,192.23 L711.91,193.73 L712.18,195.20 L712.50,196.60 L712.91,197.95 L713.41,199.30 L713.96,200.66 L714.54,202.02 L715.11,203.39 L715.65,204.76 L716.12,206.13 L716.50,207.50 L716.81,208.80 L717.10,209.99 L717.35,211.14 L717.56,212.31 L717.70,213.57 L717.76,214.98 L717.73,216.60 L717.60,218.50 L717.33,220.72 L716.91,223.21 L716.40,225.91 L715.81,228.77 L715.19,231.71 L714.57,234.67 L714.00,237.59 L713.50,240.40 L713.05,243.29 L712.60,246.39 L712.16,249.57 L711.74,252.72 L711.36,255.69 L711.01,258.36 L710.72,260.61 L710.50,262.30 L704.50,262.30 L704.28,260.61 L703.99,258.36 L703.64,255.69 L703.26,252.72 L702.84,249.57 L702.40,246.39 L701.95,243.29 L701.50,240.40 L701.00,237.59 L700.43,234.67 L699.81,231.71 L699.19,228.77 L698.60,225.91 L698.09,223.21 L697.67,220.72 L697.40,218.50 L697.27,216.60 L697.24,214.98 L697.30,213.57 L697.44,212.31 L697.65,211.14 L697.90,209.99 L698.19,208.80 L698.50,207.50 L698.88,206.13 L699.35,204.76 L699.89,203.39 L700.46,202.02 L701.04,200.66 L701.59,199.30 L702.09,197.95 L702.50,196.60 L702.82,195.20 L703.09,193.73 L703.31,192.23 L703.51,190.76 L703.68,189.35 L703.84,188.05 L704.01,186.92 L704.20,186.00 L704.41,185.31 L704.62,184.81 L704.84,184.46 L705.06,184.24 L705.26,184.09 L705.44,184.00 L705.59,183.91 L705.70,183.80 Z" fill="#5d6882" fill-opacity="0.86" stroke="#222" stroke-width="0.6"/>
<line x1="593.4" y1="225.1" x2="593.4" y2="299" stroke="#111" stroke-width="0.9" stroke-opacity="0.85" stroke-dasharray="1.1,1.3"/>
<rect x="590.8" y="255.1" width="5.2" height="20.9" fill="none" stroke="#222" stroke-width="0.5" stroke-opacity="0.6"/>
<line x1="590.8" y1="266.3" x2="596.0" y2="266.3" stroke="#222" stroke-width="0.6" stroke-opacity="0.8"/>
<line x1="621.9" y1="198.4" x2="621.9" y2="282.5" stroke="#111" stroke-width="0.9" stroke-opacity="0.85" stroke-dasharray="1.1,1.3"/>
<rect x="619.3" y="225.9" width="5.2" height="28.0" fill="none" stroke="#222" stroke-width="0.5" stroke-opacity="0.6"/>
<line x1="619.3" y1="240.0" x2="624.5" y2="240.0" stroke="#222" stroke-width="0.6" stroke-opacity="0.8"/>
<line x1="651" y1="192.2" x2="651" y2="273.2" stroke="#111" stroke-width="0.9" stroke-opacity="0.85" stroke-dasharray="1.1,1.3"/>
<rect x="648.4" y="215.3" width="5.2" height="25.5" fill="none" stroke="#222" stroke-width="0.5" stroke-opacity="0.6"/>
<line x1="648.4" y1="227.8" x2="653.6" y2="227.8" stroke="#222" stroke-width="0.6" stroke-opacity="0.8"/>
<line x1="679.4" y1="185.6" x2="679.4" y2="269.6" stroke="#111" stroke-width="0.9" stroke-opacity="0.85" stroke-dasharray="1.1,1.3"/>
<rect x="676.8" y="212.4" width="5.2" height="24.7" fill="none" stroke="#222" stroke-width="0.5" stroke-opacity="0.6"/>
<line x1="676.8" y1="224.4" x2="682.0" y2="224.4" stroke="#222" stroke-width="0.6" stroke-opacity="0.8"/>
<line x1="707.5" y1="183.8" x2="707.5" y2="262.3" stroke="#111" stroke-width="0.9" stroke-opacity="0.85" stroke-dasharray="1.1,1.3"/>
<rect x="704.9" y="207.7" width="5.2" height="28.1" fill="none" stroke="#222" stroke-width="0.5" stroke-opacity="0.6"/>
<line x1="704.9" y1="220.5" x2="710.1" y2="220.5" stroke="#222" stroke-width="0.6" stroke-opacity="0.8"/>
<rect x="579" y="182.5" width="142" height="119.5" fill="none" stroke="#000" stroke-width="2"/>
<text x="365.30" y="19.70" font-size="13.86" font-weight="bold" fill="#000" stroke="#000" stroke-width="0.3" >G</text>
<text x="378.70" y="34.70" font-size="9.13" font-weight="bold" fill="#000" stroke="#000" stroke-width="0.3" >1</text>
<text x="368.90" y="68.20" font-size="10.00" font-weight="bold" fill="#000" stroke="#000" stroke-width="0.3" textLength="19.41" lengthAdjust="spacingAndGlyphs">0.96</text>
<text x="368.90" y="110.40" font-size="10.00" font-weight="bold" fill="#000" stroke="#000" stroke-width="0.3" textLength="19.21" lengthAdjust="spacingAndGlyphs">0.92</text>
<text x="369.00" y="152.20" font-size="9.86" font-weight="bold" fill="#000" stroke="#000" stroke-width="0.3" textLength="19.21" lengthAdjust="spacingAndGlyphs">0.88</text>
<g transform="translate(383.50,97.50) rotate(-90)"><text x="-0.00" y="0" font-size="10.00" font-weight="bold" stroke="#000" stroke-width="0.3" textLength="22.50" lengthAdjust="spacingAndGlyphs">SSIM</text></g>
<text x="399.30" y="158.30" font-size="10.43" font-weight="bold" stroke="#000" stroke-width="0.3">4</text>
<text x="429.35" y="158.30" font-size="10.29" font-weight="bold" stroke="#000" stroke-width="0.3">6</text>
<text x="459.75" y="158.30" font-size="10.29" font-weight="bold" stroke="#000" stroke-width="0.3">8</text>
<text x="487.09" y="158.30" font-size="10.29" font-weight="bold" stroke="#000" stroke-width="0.3">10</text>
<text x="516.19" y="158.30" font-size="10.29" font-weight="bold" stroke="#000" stroke-width="0.3">12</text>
<text x="440.70" y="165.90" font-size="10.34" font-weight="bold" fill="#000" stroke="#000" stroke-width="0.3" textLength="51.71" lengthAdjust="spacingAndGlyphs">Projections</text>
<text x="550.00" y="32.80" font-size="10.00" font-weight="bold" fill="#000" stroke="#000" stroke-width="0.3" textLength="25.58" lengthAdjust="spacingAndGlyphs">0.005</text>
<text x="550.00" y="56.00" font-size="9.71" font-weight="bold" fill="#000" stroke="#000" stroke-width="0.3" textLength="25.58" lengthAdjust="spacingAndGlyphs">0.004</text>
<text x="549.70" y="82.30" font-size="9.29" font-weight="bold" fill="#000" stroke="#000" stroke-width="0.3" textLength="25.88" lengthAdjust="spacingAndGlyphs">0.003</text>
<text x="549.70" y="106.60" font-size="9.43" font-weight="bold" fill="#000" stroke="#000" stroke-width="0.3" textLength="25.88" lengthAdjust="spacingAndGlyphs">0.002</text>
<text x="549.70" y="133.30" font-size="9.43" font-weight="bold" fill="#000" stroke="#000" stroke-width="0.3" textLength="25.88" lengthAdjust="spacingAndGlyphs">0.001</text>
<g transform="translate(548.40,91.20) rotate(-90)"><text x="-0.00" y="0" font-size="9.57" font-weight="bold" stroke="#000" stroke-width="0.3" textLength="21.32" lengthAdjust="spacingAndGlyphs">MAE</text></g>
<text x="585.02" y="158.30" font-size="10.72" font-weight="bold" stroke="#000" stroke-width="0.3">4</text>
<text x="614.67" y="158.30" font-size="10.57" font-weight="bold" stroke="#000" stroke-width="0.3">6</text>
<text x="644.67" y="158.30" font-size="10.57" font-weight="bold" stroke="#000" stroke-width="0.3">8</text>
<text x="672.73" y="158.30" font-size="10.57" font-weight="bold" stroke="#000" stroke-width="0.3">10</text>
<text x="701.93" y="158.30" font-size="10.57" font-weight="bold" stroke="#000" stroke-width="0.3">12</text>
<text x="623.50" y="165.90" font-size="10.62" font-weight="bold" fill="#000" stroke="#000" stroke-width="0.3" textLength="52.41" lengthAdjust="spacingAndGlyphs">Projections</text>
<text x="361.60" y="186.50" font-size="9.71" font-weight="bold" fill="#000" stroke="#000" stroke-width="0.3" textLength="30.39" lengthAdjust="spacingAndGlyphs">0.0009</text>
<text x="361.60" y="225.90" font-size="9.43" font-weight="bold" fill="#000" stroke="#000" stroke-width="0.3" textLength="30.39" lengthAdjust="spacingAndGlyphs">0.0006</text>
<text x="360.90" y="263.20" font-size="9.57" font-weight="bold" fill="#000" stroke="#000" stroke-width="0.3" textLength="31.09" lengthAdjust="spacingAndGlyphs">0.0003</text>
<text x="387.10" y="303.60" font-size="9.43" font-weight="bold" fill="#000" stroke="#000" stroke-width="0.3" >0</text>
<g transform="translate(381.70,213.90) rotate(-90)"><text x="-0.00" y="0" font-size="11.00" font-weight="bold" stroke="#000" stroke-width="0.3" textLength="19.82" lengthAdjust="spacingAndGlyphs">MSE</text></g>
<text x="403.14" y="310.90" font-size="10.29" font-weight="bold" stroke="#000" stroke-width="0.3">4</text>
<text x="432.19" y="310.90" font-size="10.14" font-weight="bold" stroke="#000" stroke-width="0.3">6</text>
<text x="461.19" y="310.90" font-size="10.14" font-weight="bold" stroke="#000" stroke-width="0.3">8</text>
<text x="487.17" y="310.90" font-size="10.14" font-weight="bold" stroke="#000" stroke-width="0.3">10</text>
<text x="516.97" y="310.90" font-size="10.14" font-weight="bold" stroke="#000" stroke-width="0.3">12</text>
<text x="440.30" y="318.60" font-size="10.21" font-weight="bold" fill="#000" stroke="#000" stroke-width="0.3" textLength="52.51" lengthAdjust="spacingAndGlyphs">Projections</text>
<text x="564.20" y="188.20" font-size="10.43" font-weight="bold" fill="#000" stroke="#000" stroke-width="0.3" >45</text>
<text x="564.20" y="228.30" font-size="10.43" font-weight="bold" fill="#000" stroke="#000" stroke-width="0.3" >40</text>
<text x="563.80" y="264.60" font-size="9.71" font-weight="bold" fill="#000" stroke="#000" stroke-width="0.3" >35</text>
<text x="564.50" y="304.10" font-size="10.00" font-weight="bold" fill="#000" stroke="#000" stroke-width="0.3" >30</text>
<g transform="translate(558.70,234.90) rotate(-90)"><text x="-0.00" y="0" font-size="10.00" font-weight="bold" stroke="#000" stroke-width="0.3" textLength="24.58" lengthAdjust="spacingAndGlyphs">PSNR</text></g>
<text x="590.20" y="311.20" font-size="10.43" font-weight="bold" stroke="#000" stroke-width="0.3">4</text>
<text x="618.95" y="311.20" font-size="10.29" font-weight="bold" stroke="#000" stroke-width="0.3">6</text>
<text x="647.85" y="311.20" font-size="10.29" font-weight="bold" stroke="#000" stroke-width="0.3">8</text>
<text x="674.69" y="311.20" font-size="10.29" font-weight="bold" stroke="#000" stroke-width="0.3">10</text>
<text x="703.29" y="311.20" font-size="10.29" font-weight="bold" stroke="#000" stroke-width="0.3">12</text>
<text x="624.00" y="318.80" font-size="10.21" font-weight="bold" fill="#000" stroke="#000" stroke-width="0.3" textLength="51.41" lengthAdjust="spacingAndGlyphs">Projections</text>
<text x="31.00" y="19.60" font-size="13.62" font-weight="bold" fill="#000" stroke="#000" stroke-width="0.3" >A</text>
<text x="140.40" y="19.60" font-size="13.62" font-weight="bold" fill="#000" stroke="#000" stroke-width="0.3" >B</text>
<text x="245.20" y="19.60" font-size="13.43" font-weight="bold" fill="#000" stroke="#000" stroke-width="0.3" >C</text>
<text x="30.70" y="174.20" font-size="13.48" font-weight="bold" fill="#000" stroke="#000" stroke-width="0.3" >D</text>
<text x="140.70" y="174.20" font-size="13.33" font-weight="bold" fill="#000" stroke="#000" stroke-width="0.3" >E</text>
<text x="245.70" y="174.20" font-size="13.33" font-weight="bold" fill="#000" stroke="#000" stroke-width="0.3" >F</text>
<text x="52.30" y="32.90" font-size="9.66" font-weight="bold" fill="#000" stroke="#000" stroke-width="0.3" textLength="60.60" lengthAdjust="spacingAndGlyphs">4 Projections</text>
<text x="162.80" y="32.90" font-size="9.66" font-weight="bold" fill="#000" stroke="#000" stroke-width="0.3" textLength="60.80" lengthAdjust="spacingAndGlyphs">6 Projections</text>
<text x="270.60" y="32.90" font-size="9.66" font-weight="bold" fill="#000" stroke="#000" stroke-width="0.3" textLength="60.60" lengthAdjust="spacingAndGlyphs">8 Projections</text>
<text x="49.60" y="180.90" font-size="9.24" font-weight="bold" fill="#000" stroke="#000" stroke-width="0.3" textLength="65.91" lengthAdjust="spacingAndGlyphs">10 Projections</text>
<text x="159.80" y="180.90" font-size="9.24" font-weight="bold" fill="#000" stroke="#000" stroke-width="0.3" textLength="66.01" lengthAdjust="spacingAndGlyphs">12 Projections</text>
<text x="266.50" y="181.60" font-size="10.21" font-weight="bold" fill="#000" stroke="#000" stroke-width="0.3" textLength="65.48" lengthAdjust="spacingAndGlyphs">Gold standard</text>
<rect x="16" y="42" width="6.2" height="104.5" fill="url(#cb)"/>
<rect x="15.5" y="192" width="6.3" height="103.6" fill="url(#cb)"/>
<text x="15.00" y="36.80" font-size="9.13" font-weight="bold" fill="#000" stroke="#000" stroke-width="0.3" textLength="9.02" lengthAdjust="spacingAndGlyphs">11</text>
<text x="16.80" y="158.00" font-size="10.00" font-weight="bold" fill="#000" stroke="#000" stroke-width="0.3" >3</text>
<text x="13.00" y="189.80" font-size="9.13" font-weight="bold" fill="#000" stroke="#000" stroke-width="0.3" textLength="9.22" lengthAdjust="spacingAndGlyphs">11</text>
<text x="10.00" y="303.80" font-size="9.71" font-weight="bold" fill="#000" stroke="#000" stroke-width="0.3" textLength="11.90" lengthAdjust="spacingAndGlyphs">0.8</text>
<g transform="translate(14.00,134.20) rotate(-90)"><text x="-0.00" y="0" font-size="10.62" font-weight="bold" stroke="#000" stroke-width="0.3" textLength="84.42" lengthAdjust="spacingAndGlyphs">Vascular Diameter</text></g>
<g transform="translate(13.20,290.90) rotate(-90)"><text x="-0.00" y="0" font-size="9.66" font-weight="bold" stroke="#000" stroke-width="0.3" textLength="93.08" lengthAdjust="spacingAndGlyphs">Aneurysm Diameter</text></g>
<rect x="2" y="2" width="734" height="325" fill="none" stroke="#8b1a1f" stroke-width="2"/>
<line x1="358" y1="1" x2="358" y2="328" stroke="#8b1a1f" stroke-width="2"/>
</svg></body></html>
